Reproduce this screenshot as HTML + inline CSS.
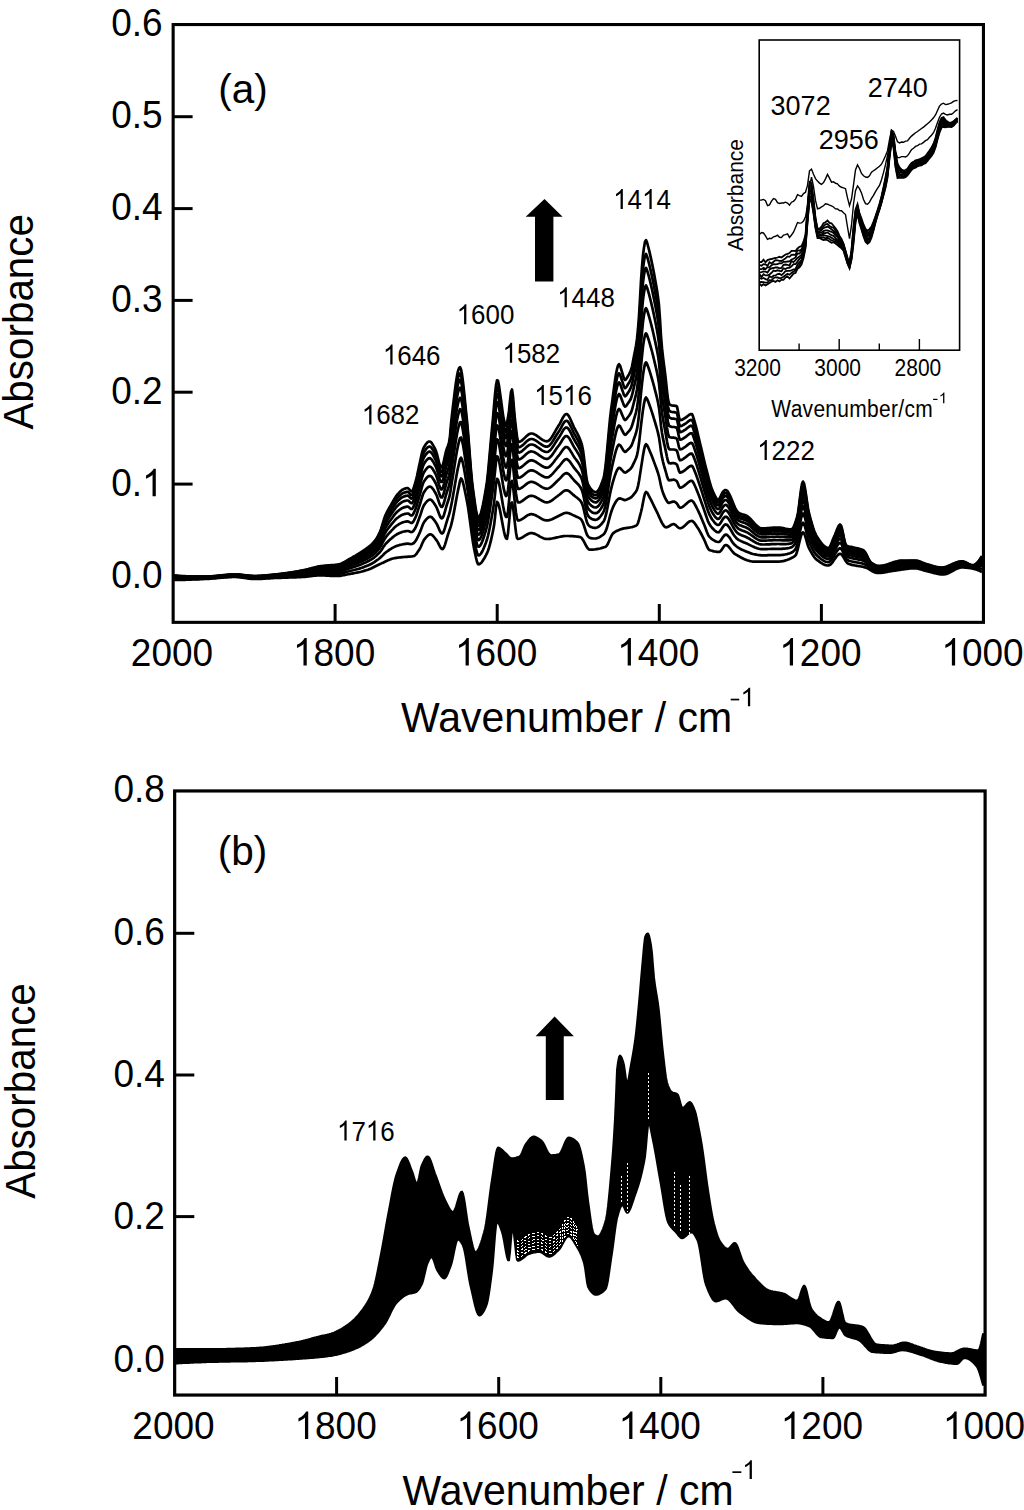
<!DOCTYPE html>
<html><head><meta charset="utf-8"><style>
html,body{margin:0;padding:0;background:#fff;}
svg{display:block;}
text{font-family:"Liberation Sans",sans-serif;fill:#000;}
</style></head><body>
<svg width="1024" height="1510" viewBox="0 0 1024 1510">
<rect x="173.15" y="24.55" width="810.3" height="597.8" fill="none" stroke="#000" stroke-width="3.1"/>
<line x1="173.5" x2="192.6" y1="484.1" y2="484.1" stroke="#000" stroke-width="3"/>
<line x1="173.5" x2="192.6" y1="392.2" y2="392.2" stroke="#000" stroke-width="3"/>
<line x1="173.5" x2="192.6" y1="300.4" y2="300.4" stroke="#000" stroke-width="3"/>
<line x1="173.5" x2="192.6" y1="208.6" y2="208.6" stroke="#000" stroke-width="3"/>
<line x1="173.5" x2="192.6" y1="116.7" y2="116.7" stroke="#000" stroke-width="3"/>
<text transform="translate(162.6 588.3) scale(1.0 1.035)" font-size="37" text-anchor="end" >0.0</text>
<g transform="translate(162.6 496.2) scale(1.0 1.035)"><text font-size="37" text-anchor="end" >0. </text><path transform="translate(-20.58 0) scale(0.01807 -0.01807)" d="M763,0L583,0L583,1147C540,1106 483,1064 413,1023C343,982 280,951 223,930L223,1104C324,1151 412,1208 487,1274C562,1340 616,1404 647,1466L763,1466Z"/></g>
<text transform="translate(162.6 404.2) scale(1.0 1.035)" font-size="37" text-anchor="end" >0.2</text>
<text transform="translate(162.6 312.1) scale(1.0 1.035)" font-size="37" text-anchor="end" >0.3</text>
<text transform="translate(162.6 220.1) scale(1.0 1.035)" font-size="37" text-anchor="end" >0.4</text>
<text transform="translate(162.6 128.0) scale(1.0 1.035)" font-size="37" text-anchor="end" >0.5</text>
<text transform="translate(162.6 36.0) scale(1.0 1.035)" font-size="37" text-anchor="end" >0.6</text>
<line x1="335.1" x2="335.1" y1="604" y2="621" stroke="#000" stroke-width="3"/>
<line x1="497.2" x2="497.2" y1="604" y2="621" stroke="#000" stroke-width="3"/>
<line x1="659.3" x2="659.3" y1="604" y2="621" stroke="#000" stroke-width="3"/>
<line x1="821.4" x2="821.4" y1="604" y2="621" stroke="#000" stroke-width="3"/>
<text transform="translate(172.0 665.5) scale(1.0 1.035)" font-size="37" text-anchor="middle" >2000</text>
<g transform="translate(334.1 665.5) scale(1.0 1.035)"><text font-size="37" text-anchor="middle" > 800</text><path transform="translate(-41.16 0) scale(0.01807 -0.01807)" d="M763,0L583,0L583,1147C540,1106 483,1064 413,1023C343,982 280,951 223,930L223,1104C324,1151 412,1208 487,1274C562,1340 616,1404 647,1466L763,1466Z"/></g>
<g transform="translate(496.2 665.5) scale(1.0 1.035)"><text font-size="37" text-anchor="middle" > 600</text><path transform="translate(-41.16 0) scale(0.01807 -0.01807)" d="M763,0L583,0L583,1147C540,1106 483,1064 413,1023C343,982 280,951 223,930L223,1104C324,1151 412,1208 487,1274C562,1340 616,1404 647,1466L763,1466Z"/></g>
<g transform="translate(658.3 665.5) scale(1.0 1.035)"><text font-size="37" text-anchor="middle" > 400</text><path transform="translate(-41.16 0) scale(0.01807 -0.01807)" d="M763,0L583,0L583,1147C540,1106 483,1064 413,1023C343,982 280,951 223,930L223,1104C324,1151 412,1208 487,1274C562,1340 616,1404 647,1466L763,1466Z"/></g>
<g transform="translate(820.4 665.5) scale(1.0 1.035)"><text font-size="37" text-anchor="middle" > 200</text><path transform="translate(-41.16 0) scale(0.01807 -0.01807)" d="M763,0L583,0L583,1147C540,1106 483,1064 413,1023C343,982 280,951 223,930L223,1104C324,1151 412,1208 487,1274C562,1340 616,1404 647,1466L763,1466Z"/></g>
<g transform="translate(982.5 665.5) scale(1.0 1.035)"><text font-size="37" text-anchor="middle" > 000</text><path transform="translate(-41.16 0) scale(0.01807 -0.01807)" d="M763,0L583,0L583,1147C540,1106 483,1064 413,1023C343,982 280,951 223,930L223,1104C324,1151 412,1208 487,1274C562,1340 616,1404 647,1466L763,1466Z"/></g>
<text transform="translate(401 732.3) scale(1.0 1.035)" font-size="41" text-anchor="start" >Wavenumber / cm</text>
<rect x="730.7" y="698.7" width="8.5" height="1.7"/><path transform="translate(740.5 706.3) scale(0.01270 -0.01270)" d="M763,0L583,0L583,1147C540,1106 483,1064 413,1023C343,982 280,951 223,930L223,1104C324,1151 412,1208 487,1274C562,1340 616,1404 647,1466L763,1466Z"/>
<text transform="translate(32.6 429.6) rotate(-90) scale(1.0 1.035)" font-size="40.4" text-anchor="start" >Absorbance</text>
<text transform="translate(218.3 102.5) scale(1.0 0.985)" font-size="40.5" text-anchor="start" >(a)</text>
<g transform="translate(613.2 209) scale(0.96 1.035)"><text font-size="27" text-anchor="start" > 4 4</text><path transform="translate(0.00 0) scale(0.01318 -0.01318)" d="M763,0L583,0L583,1147C540,1106 483,1064 413,1023C343,982 280,951 223,930L223,1104C324,1151 412,1208 487,1274C562,1340 616,1404 647,1466L763,1466Z"/><path transform="translate(30.03 0) scale(0.01318 -0.01318)" d="M763,0L583,0L583,1147C540,1106 483,1064 413,1023C343,982 280,951 223,930L223,1104C324,1151 412,1208 487,1274C562,1340 616,1404 647,1466L763,1466Z"/></g>
<g transform="translate(557.2 307.3) scale(0.96 1.035)"><text font-size="27" text-anchor="start" > 448</text><path transform="translate(0.00 0) scale(0.01318 -0.01318)" d="M763,0L583,0L583,1147C540,1106 483,1064 413,1023C343,982 280,951 223,930L223,1104C324,1151 412,1208 487,1274C562,1340 616,1404 647,1466L763,1466Z"/></g>
<g transform="translate(456.7 324.2) scale(0.96 1.035)"><text font-size="27" text-anchor="start" > 600</text><path transform="translate(0.00 0) scale(0.01318 -0.01318)" d="M763,0L583,0L583,1147C540,1106 483,1064 413,1023C343,982 280,951 223,930L223,1104C324,1151 412,1208 487,1274C562,1340 616,1404 647,1466L763,1466Z"/></g>
<g transform="translate(382.9 364.6) scale(0.96 1.035)"><text font-size="27" text-anchor="start" > 646</text><path transform="translate(0.00 0) scale(0.01318 -0.01318)" d="M763,0L583,0L583,1147C540,1106 483,1064 413,1023C343,982 280,951 223,930L223,1104C324,1151 412,1208 487,1274C562,1340 616,1404 647,1466L763,1466Z"/></g>
<g transform="translate(502.5 362.8) scale(0.96 1.035)"><text font-size="27" text-anchor="start" > 582</text><path transform="translate(0.00 0) scale(0.01318 -0.01318)" d="M763,0L583,0L583,1147C540,1106 483,1064 413,1023C343,982 280,951 223,930L223,1104C324,1151 412,1208 487,1274C562,1340 616,1404 647,1466L763,1466Z"/></g>
<g transform="translate(534.2 405) scale(0.96 1.035)"><text font-size="27" text-anchor="start" > 5 6</text><path transform="translate(0.00 0) scale(0.01318 -0.01318)" d="M763,0L583,0L583,1147C540,1106 483,1064 413,1023C343,982 280,951 223,930L223,1104C324,1151 412,1208 487,1274C562,1340 616,1404 647,1466L763,1466Z"/><path transform="translate(30.03 0) scale(0.01318 -0.01318)" d="M763,0L583,0L583,1147C540,1106 483,1064 413,1023C343,982 280,951 223,930L223,1104C324,1151 412,1208 487,1274C562,1340 616,1404 647,1466L763,1466Z"/></g>
<g transform="translate(361.8 424.4) scale(0.96 1.035)"><text font-size="27" text-anchor="start" > 682</text><path transform="translate(0.00 0) scale(0.01318 -0.01318)" d="M763,0L583,0L583,1147C540,1106 483,1064 413,1023C343,982 280,951 223,930L223,1104C324,1151 412,1208 487,1274C562,1340 616,1404 647,1466L763,1466Z"/></g>
<g transform="translate(757.2 460) scale(0.96 1.035)"><text font-size="27" text-anchor="start" > 222</text><path transform="translate(0.00 0) scale(0.01318 -0.01318)" d="M763,0L583,0L583,1147C540,1106 483,1064 413,1023C343,982 280,951 223,930L223,1104C324,1151 412,1208 487,1274C562,1340 616,1404 647,1466L763,1466Z"/></g>
<polygon points="544.5,198.9 525.7,216.7 535,216.7 535,281.6 553.4,281.6 553.4,216.7 562.6,216.7" fill="#000"/>
<polyline points="174.0,580.0 175.0,580.0 176.0,580.0 177.0,579.9 178.0,579.9 179.0,579.9 180.0,579.9 181.0,579.9 182.0,579.8 183.0,579.8 184.0,579.8 185.0,579.8 186.0,579.7 187.0,579.7 188.0,579.7 189.0,579.6 190.0,579.6 191.0,579.6 192.0,579.5 193.0,579.5 194.0,579.5 195.0,579.4 196.0,579.4 197.0,579.3 198.0,579.3 199.0,579.3 200.0,579.2 201.0,579.2 202.0,579.1 203.0,579.1 204.0,579.0 205.0,579.0 206.0,579.0 207.0,578.9 208.0,578.8 209.0,578.8 210.0,578.7 211.0,578.6 212.0,578.5 213.0,578.5 214.0,578.4 215.0,578.3 216.0,578.2 217.0,578.1 218.0,578.0 219.0,577.9 220.0,577.8 221.0,577.7 222.0,577.7 223.0,577.6 224.0,577.5 225.0,577.4 226.0,577.3 227.0,577.3 228.0,577.2 229.0,577.2 230.0,577.1 231.0,577.1 232.0,577.0 233.0,577.0 234.0,577.0 235.0,577.0 236.0,577.0 237.0,577.1 238.0,577.1 239.0,577.2 240.0,577.3 241.0,577.4 242.0,577.6 243.0,577.7 244.0,577.9 245.0,578.0 246.0,578.1 247.0,578.3 248.0,578.4 249.0,578.6 250.0,578.7 251.0,578.8 252.0,578.9 253.0,578.9 254.0,579.0 255.0,579.0 256.0,579.0 257.0,579.0 258.0,579.0 259.0,578.9 260.0,578.9 261.0,578.8 262.0,578.8 263.0,578.7 264.0,578.7 265.0,578.6 266.0,578.5 267.0,578.5 268.0,578.4 269.0,578.3 270.0,578.3 271.0,578.2 272.0,578.2 273.0,578.1 274.0,578.0 275.0,578.0 276.0,578.0 277.0,577.9 278.0,577.9 279.0,577.8 280.0,577.8 281.0,577.8 282.0,577.7 283.0,577.7 284.0,577.7 285.0,577.6 286.0,577.6 287.0,577.6 288.0,577.6 289.0,577.5 290.0,577.5 291.0,577.5 292.0,577.4 293.0,577.4 294.0,577.4 295.0,577.3 296.0,577.3 297.0,577.2 298.0,577.2 299.0,577.1 300.0,577.1 301.0,577.1 302.0,577.0 303.0,576.9 304.0,576.9 305.0,576.8 306.0,576.7 307.0,576.6 308.0,576.4 309.0,576.3 310.0,576.2 311.0,576.1 312.0,576.0 313.0,575.8 314.0,575.7 315.0,575.6 316.0,575.6 317.0,575.5 318.0,575.4 319.0,575.4 320.0,575.4 321.0,575.4 322.0,575.4 323.0,575.4 324.0,575.5 325.0,575.5 326.0,575.6 327.0,575.6 328.0,575.7 329.0,575.7 330.0,575.8 331.0,575.8 332.0,575.9 333.0,575.9 334.0,576.0 335.0,576.0 336.0,576.0 337.0,576.0 338.0,576.0 339.0,575.9 340.0,575.8 341.0,575.7 342.0,575.5 343.0,575.3 344.0,575.1 345.0,574.9 346.0,574.7 347.0,574.5 348.0,574.3 349.0,574.1 350.0,573.9 351.0,573.7 352.0,573.6 353.0,573.4 354.0,573.2 355.0,573.0 356.0,572.8 357.0,572.6 358.0,572.4 359.0,572.2 360.0,572.0 361.0,571.8 362.0,571.5 363.0,571.2 364.0,570.9 365.0,570.6 366.0,570.3 367.0,570.0 368.0,569.7 369.0,569.3 370.0,568.9 371.0,568.5 372.0,568.0 373.0,567.5 374.0,567.0 375.0,566.5 376.0,566.0 377.0,565.5 378.0,565.0 379.0,564.5 380.0,564.1 381.0,563.6 382.0,563.1 383.0,562.7 384.0,562.2 385.0,561.7 386.0,561.2 387.0,560.8 388.0,560.3 389.0,559.9 390.0,559.5 391.0,559.1 392.0,558.8 393.0,558.5 394.0,558.3 395.0,558.1 396.0,557.9 397.0,557.8 398.0,557.6 399.0,557.5 400.0,557.4 401.0,557.3 402.0,557.2 403.0,557.1 404.0,557.0 405.0,556.9 406.0,556.8 407.0,556.8 408.0,556.7 409.0,556.6 410.0,556.6 411.0,556.5 412.0,556.4 413.0,556.2 414.0,556.0 415.0,555.4 416.0,554.4 417.0,553.1 418.0,551.6 419.0,550.1 420.0,548.5 421.0,546.5 422.0,544.1 423.0,541.8 424.0,539.9 425.0,538.6 426.0,537.4 427.0,536.3 428.0,535.4 429.0,534.7 430.0,534.4 431.0,534.4 432.0,534.9 433.0,535.8 434.0,537.0 435.0,538.3 436.0,539.6 437.0,540.9 438.0,542.6 439.0,544.7 440.0,546.6 441.0,548.2 442.0,549.1 443.0,548.9 444.0,547.3 445.0,544.6 446.0,541.3 447.0,537.8 448.0,534.5 449.0,531.6 450.0,528.8 451.0,525.7 452.0,521.7 453.0,517.1 454.0,512.0 455.0,506.5 456.0,501.0 457.0,495.6 458.0,490.4 459.0,485.9 460.0,480.8 461.0,478.4 462.0,479.6 463.0,482.6 464.0,486.7 465.0,491.5 466.0,496.5 467.0,501.4 468.0,507.1 469.0,513.8 470.0,521.0 471.0,528.5 472.0,535.8 473.0,542.6 474.0,548.3 475.0,553.0 476.0,557.7 477.0,561.8 478.0,564.2 479.0,564.3 480.0,563.8 481.0,563.0 482.0,561.8 483.0,560.4 484.0,558.8 485.0,557.0 486.0,555.2 487.0,553.2 488.0,550.7 489.0,547.7 490.0,544.2 491.0,540.2 492.0,535.8 493.0,531.0 494.0,525.8 495.0,517.6 496.0,507.1 497.0,501.9 498.0,503.0 499.0,505.9 500.0,510.2 501.0,515.4 502.0,521.0 503.0,526.6 504.0,531.6 505.0,535.7 506.0,538.3 507.0,538.8 508.0,533.2 509.0,522.8 510.0,511.5 511.0,503.5 512.0,502.4 513.0,507.0 514.0,515.0 515.0,524.1 516.0,532.5 517.0,538.0 518.0,539.0 519.0,538.8 520.0,538.5 521.0,538.1 522.0,537.6 523.0,537.0 524.0,536.3 525.0,535.7 526.0,535.1 527.0,534.5 528.0,534.0 529.0,533.5 530.0,533.2 531.0,533.1 532.0,533.1 533.0,533.3 534.0,533.6 535.0,533.9 536.0,534.4 537.0,534.9 538.0,535.4 539.0,536.0 540.0,536.6 541.0,537.1 542.0,537.6 543.0,538.1 544.0,538.5 545.0,538.8 546.0,538.9 547.0,539.0 548.0,539.0 549.0,538.9 550.0,538.8 551.0,538.7 552.0,538.5 553.0,538.3 554.0,538.1 555.0,537.9 556.0,537.6 557.0,537.4 558.0,537.2 559.0,537.0 560.0,536.8 561.0,536.6 562.0,536.4 563.0,536.2 564.0,536.1 565.0,536.0 566.0,536.0 567.0,536.0 568.0,536.0 569.0,536.0 570.0,536.1 571.0,536.1 572.0,536.2 573.0,536.2 574.0,536.3 575.0,536.4 576.0,536.5 577.0,536.6 578.0,536.7 579.0,536.8 580.0,537.0 581.0,537.4 582.0,538.4 583.0,539.9 584.0,541.7 585.0,543.6 586.0,545.5 587.0,547.2 588.0,548.6 589.0,549.5 590.0,549.7 591.0,549.7 592.0,549.6 593.0,549.6 594.0,549.5 595.0,549.4 596.0,549.2 597.0,549.1 598.0,548.9 599.0,548.7 600.0,548.5 601.0,548.2 602.0,547.9 603.0,547.6 604.0,547.3 605.0,547.0 606.0,546.5 607.0,545.3 608.0,543.5 609.0,541.3 610.0,538.9 611.0,536.7 612.0,534.8 613.0,533.4 614.0,532.6 615.0,531.9 616.0,531.3 617.0,530.8 618.0,530.4 619.0,530.0 620.0,529.6 621.0,529.2 622.0,528.9 623.0,528.6 624.0,528.4 625.0,528.2 626.0,528.1 627.0,527.9 628.0,527.8 629.0,527.6 630.0,527.5 631.0,527.3 632.0,527.1 633.0,526.8 634.0,526.5 635.0,526.1 636.0,525.7 637.0,525.0 638.0,523.0 639.0,519.7 640.0,515.8 641.0,512.0 642.0,507.7 643.0,502.5 644.0,497.4 645.0,493.5 646.0,492.0 647.0,492.6 648.0,494.1 649.0,496.1 650.0,498.0 651.0,499.8 652.0,501.9 653.0,504.0 654.0,506.1 655.0,508.1 656.0,510.1 657.0,512.1 658.0,514.3 659.0,516.6 660.0,518.8 661.0,521.0 662.0,522.9 663.0,524.6 664.0,526.0 665.0,526.9 666.0,527.3 667.0,527.2 668.0,526.8 669.0,526.3 670.0,525.6 671.0,525.0 672.0,524.5 673.0,524.2 674.0,524.1 675.0,524.6 676.0,525.4 677.0,526.4 678.0,527.3 679.0,528.0 680.0,528.3 681.0,528.1 682.0,527.7 683.0,527.1 684.0,526.3 685.0,525.4 686.0,524.4 687.0,523.5 688.0,522.6 689.0,521.8 690.0,521.3 691.0,521.0 692.0,520.9 693.0,521.5 694.0,522.4 695.0,523.7 696.0,525.2 697.0,526.8 698.0,528.3 699.0,529.8 700.0,531.6 701.0,533.5 702.0,535.4 703.0,537.4 704.0,539.4 705.0,541.5 706.0,543.9 707.0,546.4 708.0,548.4 709.0,549.7 710.0,550.2 711.0,550.5 712.0,550.8 713.0,551.1 714.0,551.4 715.0,551.5 716.0,551.7 717.0,551.8 718.0,551.9 719.0,551.9 720.0,551.6 721.0,550.6 722.0,549.2 723.0,547.7 724.0,546.3 725.0,545.3 726.0,545.0 727.0,545.3 728.0,546.0 729.0,547.1 730.0,548.3 731.0,549.7 732.0,551.0 733.0,552.3 734.0,553.3 735.0,554.0 736.0,554.6 737.0,555.2 738.0,555.8 739.0,556.3 740.0,556.9 741.0,557.5 742.0,558.0 743.0,558.5 744.0,559.0 745.0,559.4 746.0,559.8 747.0,560.2 748.0,560.5 749.0,560.8 750.0,561.1 751.0,561.3 752.0,561.5 753.0,561.6 754.0,561.6 755.0,561.6 756.0,561.6 757.0,561.6 758.0,561.6 759.0,561.6 760.0,561.6 761.0,561.6 762.0,561.6 763.0,561.6 764.0,561.6 765.0,561.6 766.0,561.6 767.0,561.6 768.0,561.6 769.0,561.6 770.0,561.6 771.0,561.6 772.0,561.6 773.0,561.6 774.0,561.6 775.0,561.6 776.0,561.6 777.0,561.6 778.0,561.6 779.0,561.6 780.0,561.5 781.0,561.4 782.0,561.3 783.0,561.1 784.0,560.9 785.0,560.6 786.0,560.3 787.0,560.0 788.0,559.6 789.0,559.2 790.0,558.7 791.0,558.3 792.0,557.7 793.0,557.2 794.0,556.6 795.0,555.9 796.0,554.7 797.0,551.9 798.0,548.1 799.0,543.8 800.0,539.6 801.0,535.9 802.0,533.3 803.0,532.3 804.0,533.2 805.0,535.6 806.0,538.9 807.0,542.5 808.0,545.8 809.0,548.2 810.0,550.1 811.0,551.9 812.0,553.7 813.0,555.3 814.0,556.8 815.0,558.0 816.0,559.1 817.0,559.9 818.0,560.7 819.0,561.4 820.0,562.1 821.0,562.8 822.0,563.4 823.0,564.0 824.0,564.5 825.0,564.9 826.0,565.2 827.0,565.4 828.0,565.5 829.0,565.4 830.0,564.9 831.0,564.0 832.0,562.9 833.0,561.6 834.0,560.1 835.0,558.6 836.0,557.2 837.0,555.9 838.0,554.9 839.0,554.1 840.0,553.8 841.0,554.1 842.0,555.0 843.0,556.4 844.0,558.1 845.0,559.9 846.0,561.5 847.0,562.8 848.0,563.6 849.0,564.0 850.0,564.3 851.0,564.6 852.0,564.9 853.0,565.1 854.0,565.3 855.0,565.5 856.0,565.7 857.0,565.8 858.0,566.0 859.0,566.1 860.0,566.3 861.0,566.5 862.0,566.6 863.0,566.8 864.0,567.1 865.0,567.4 866.0,567.7 867.0,568.1 868.0,568.6 869.0,569.2 870.0,569.8 871.0,570.4 872.0,571.0 873.0,571.6 874.0,572.1 875.0,572.5 876.0,572.8 877.0,573.0 878.0,573.0 879.0,573.0 880.0,572.9 881.0,572.8 882.0,572.7 883.0,572.6 884.0,572.4 885.0,572.3 886.0,572.1 887.0,571.9 888.0,571.7 889.0,571.5 890.0,571.4 891.0,571.2 892.0,571.0 893.0,570.8 894.0,570.7 895.0,570.6 896.0,570.4 897.0,570.3 898.0,570.1 899.0,570.0 900.0,569.8 901.0,569.7 902.0,569.5 903.0,569.4 904.0,569.3 905.0,569.1 906.0,569.0 907.0,568.9 908.0,568.7 909.0,568.6 910.0,568.5 911.0,568.5 912.0,568.4 913.0,568.3 914.0,568.3 915.0,568.3 916.0,568.3 917.0,568.5 918.0,568.6 919.0,568.9 920.0,569.1 921.0,569.4 922.0,569.7 923.0,570.1 924.0,570.4 925.0,570.7 926.0,571.0 927.0,571.3 928.0,571.5 929.0,571.8 930.0,572.0 931.0,572.3 932.0,572.5 933.0,572.8 934.0,573.1 935.0,573.3 936.0,573.5 937.0,573.8 938.0,574.0 939.0,574.1 940.0,574.3 941.0,574.4 942.0,574.5 943.0,574.5 944.0,574.5 945.0,574.3 946.0,574.1 947.0,573.7 948.0,573.3 949.0,572.9 950.0,572.4 951.0,571.8 952.0,571.3 953.0,570.7 954.0,570.2 955.0,569.6 956.0,569.1 957.0,568.7 958.0,568.3 959.0,567.9 960.0,567.7 961.0,567.5 962.0,567.5 963.0,567.5 964.0,567.5 965.0,567.6 966.0,567.6 967.0,567.7 968.0,567.8 969.0,567.9 970.0,568.1 971.0,568.2 972.0,568.4 973.0,568.6 974.0,568.9 975.0,569.2 976.0,569.5 977.0,569.8 978.0,570.2 979.0,570.6 980.0,571.0 981.0,571.5 982.0,572.0" fill="none" stroke="#000" stroke-width="2.7" stroke-linejoin="round"/>
<polyline points="174.0,579.1 175.0,579.1 176.0,579.2 177.0,579.2 178.0,579.1 179.0,579.1 180.0,579.1 181.0,579.1 182.0,579.1 183.0,579.1 184.0,579.1 185.0,579.1 186.0,579.1 187.0,579.1 188.0,579.0 189.0,579.0 190.0,579.0 191.0,579.0 192.0,578.9 193.0,578.9 194.0,578.9 195.0,578.9 196.0,578.8 197.0,578.8 198.0,578.8 199.0,578.7 200.0,578.7 201.0,578.7 202.0,578.6 203.0,578.6 204.0,578.6 205.0,578.5 206.0,578.5 207.0,578.5 208.0,578.4 209.0,578.3 210.0,578.3 211.0,578.2 212.0,578.1 213.0,578.0 214.0,578.0 215.0,577.9 216.0,577.8 217.0,577.7 218.0,577.6 219.0,577.5 220.0,577.4 221.0,577.3 222.0,577.2 223.0,577.1 224.0,577.1 225.0,577.0 226.0,576.9 227.0,576.8 228.0,576.8 229.0,576.7 230.0,576.7 231.0,576.6 232.0,576.6 233.0,576.5 234.0,576.5 235.0,576.5 236.0,576.5 237.0,576.6 238.0,576.6 239.0,576.7 240.0,576.8 241.0,576.9 242.0,577.1 243.0,577.2 244.0,577.3 245.0,577.5 246.0,577.6 247.0,577.8 248.0,577.9 249.0,578.0 250.0,578.1 251.0,578.2 252.0,578.3 253.0,578.4 254.0,578.4 255.0,578.4 256.0,578.4 257.0,578.4 258.0,578.4 259.0,578.4 260.0,578.3 261.0,578.3 262.0,578.2 263.0,578.1 264.0,578.1 265.0,578.0 266.0,577.9 267.0,577.9 268.0,577.8 269.0,577.7 270.0,577.7 271.0,577.6 272.0,577.5 273.0,577.5 274.0,577.4 275.0,577.3 276.0,577.3 277.0,577.2 278.0,577.2 279.0,577.1 280.0,577.1 281.0,577.0 282.0,577.0 283.0,576.9 284.0,576.9 285.0,576.8 286.0,576.8 287.0,576.7 288.0,576.7 289.0,576.6 290.0,576.5 291.0,576.5 292.0,576.4 293.0,576.4 294.0,576.3 295.0,576.3 296.0,576.2 297.0,576.1 298.0,576.1 299.0,576.0 300.0,575.9 301.0,575.8 302.0,575.8 303.0,575.7 304.0,575.6 305.0,575.5 306.0,575.3 307.0,575.2 308.0,575.1 309.0,574.9 310.0,574.8 311.0,574.6 312.0,574.5 313.0,574.3 314.0,574.2 315.0,574.1 316.0,573.9 317.0,573.9 318.0,573.8 319.0,573.7 320.0,573.7 321.0,573.6 322.0,573.6 323.0,573.6 324.0,573.6 325.0,573.7 326.0,573.7 327.0,573.7 328.0,573.7 329.0,573.8 330.0,573.8 331.0,573.8 332.0,573.8 333.0,573.9 334.0,573.9 335.0,573.9 336.0,573.9 337.0,573.8 338.0,573.8 339.0,573.7 340.0,573.6 341.0,573.4 342.0,573.2 343.0,572.9 344.0,572.7 345.0,572.4 346.0,572.1 347.0,571.8 348.0,571.5 349.0,571.3 350.0,571.0 351.0,570.8 352.0,570.5 353.0,570.3 354.0,570.0 355.0,569.8 356.0,569.5 357.0,569.2 358.0,569.0 359.0,568.7 360.0,568.4 361.0,568.0 362.0,567.7 363.0,567.4 364.0,567.0 365.0,566.6 366.0,566.2 367.0,565.8 368.0,565.4 369.0,565.0 370.0,564.5 371.0,564.0 372.0,563.5 373.0,562.9 374.0,562.3 375.0,561.6 376.0,560.9 377.0,560.2 378.0,559.5 379.0,558.7 380.0,557.9 381.0,557.0 382.0,556.1 383.0,555.1 384.0,554.0 385.0,553.1 386.0,552.3 387.0,551.5 388.0,550.8 389.0,550.1 390.0,549.4 391.0,548.8 392.0,548.2 393.0,547.6 394.0,547.1 395.0,546.6 396.0,546.2 397.0,545.8 398.0,545.5 399.0,545.2 400.0,544.9 401.0,544.7 402.0,544.5 403.0,544.3 404.0,544.1 405.0,543.9 406.0,543.8 407.0,543.7 408.0,543.7 409.0,543.8 410.0,544.0 411.0,544.1 412.0,544.0 413.0,543.6 414.0,542.9 415.0,541.7 416.0,540.3 417.0,538.4 418.0,536.4 419.0,534.2 420.0,532.1 421.0,529.6 422.0,526.8 423.0,524.2 424.0,522.3 425.0,520.9 426.0,519.7 427.0,518.6 428.0,517.7 429.0,517.0 430.0,516.7 431.0,516.9 432.0,517.5 433.0,518.6 434.0,519.9 435.0,521.3 436.0,522.8 437.0,524.4 438.0,526.6 439.0,529.0 440.0,531.3 441.0,532.9 442.0,533.5 443.0,532.9 444.0,530.8 445.0,527.7 446.0,524.2 447.0,520.8 448.0,517.6 449.0,514.7 450.0,511.2 451.0,506.4 452.0,501.4 453.0,496.0 454.0,490.3 455.0,484.3 456.0,478.4 457.0,472.8 458.0,467.8 459.0,463.5 460.0,459.2 461.0,457.7 462.0,459.7 463.0,463.5 464.0,468.5 465.0,474.3 466.0,480.3 467.0,486.1 468.0,492.8 469.0,500.7 470.0,509.1 471.0,517.5 472.0,525.5 473.0,532.4 474.0,538.5 475.0,543.7 476.0,548.7 477.0,552.9 478.0,555.2 479.0,555.4 480.0,554.7 481.0,553.5 482.0,551.8 483.0,549.8 484.0,547.5 485.0,545.0 486.0,542.4 487.0,539.5 488.0,535.8 489.0,531.4 490.0,526.4 491.0,521.0 492.0,515.5 493.0,509.6 494.0,503.1 495.0,494.3 496.0,484.0 497.0,478.8 498.0,479.8 499.0,483.1 500.0,487.9 501.0,493.5 502.0,499.5 503.0,505.4 504.0,510.5 505.0,514.6 506.0,516.9 507.0,516.8 508.0,511.2 509.0,501.5 510.0,490.5 511.0,482.3 512.0,480.9 513.0,486.1 514.0,494.9 515.0,504.4 516.0,512.7 517.0,518.7 518.0,520.5 519.0,520.4 520.0,520.1 521.0,519.7 522.0,519.1 523.0,518.5 524.0,517.8 525.0,517.1 526.0,516.4 527.0,515.7 528.0,515.1 529.0,514.7 530.0,514.3 531.0,514.2 532.0,514.2 533.0,514.4 534.0,514.7 535.0,515.1 536.0,515.5 537.0,516.1 538.0,516.6 539.0,517.2 540.0,517.8 541.0,518.4 542.0,519.0 543.0,519.5 544.0,519.9 545.0,520.2 546.0,520.4 547.0,520.4 548.0,520.4 549.0,520.2 550.0,519.9 551.0,519.6 552.0,519.2 553.0,518.7 554.0,518.2 555.0,517.7 556.0,517.2 557.0,516.7 558.0,516.2 559.0,515.7 560.0,515.2 561.0,514.7 562.0,514.2 563.0,513.7 564.0,513.3 565.0,513.0 566.0,512.8 567.0,512.8 568.0,513.0 569.0,513.3 570.0,513.7 571.0,514.1 572.0,514.6 573.0,515.1 574.0,515.6 575.0,516.0 576.0,516.5 577.0,516.9 578.0,517.4 579.0,517.9 580.0,518.4 581.0,519.3 582.0,520.7 583.0,522.9 584.0,525.8 585.0,528.9 586.0,532.0 587.0,534.7 588.0,536.4 589.0,537.4 590.0,537.9 591.0,538.2 592.0,538.3 593.0,538.5 594.0,538.5 595.0,538.5 596.0,538.4 597.0,538.2 598.0,537.8 599.0,537.4 600.0,536.9 601.0,536.2 602.0,535.5 603.0,534.8 604.0,533.9 605.0,532.4 606.0,530.4 607.0,527.5 608.0,523.9 609.0,520.0 610.0,516.2 611.0,512.7 612.0,509.7 613.0,507.2 614.0,505.1 615.0,503.2 616.0,501.5 617.0,500.1 618.0,499.1 619.0,498.5 620.0,498.4 621.0,498.7 622.0,499.1 623.0,499.5 624.0,499.9 625.0,500.1 626.0,499.8 627.0,499.4 628.0,498.9 629.0,498.5 630.0,498.0 631.0,497.4 632.0,496.5 633.0,495.4 634.0,494.1 635.0,492.9 636.0,491.5 637.0,489.7 638.0,486.1 639.0,481.0 640.0,474.6 641.0,468.1 642.0,461.9 643.0,455.4 644.0,449.9 645.0,445.7 646.0,444.1 647.0,445.1 648.0,447.0 649.0,449.3 650.0,451.7 651.0,454.0 652.0,456.5 653.0,459.2 654.0,461.9 655.0,464.6 656.0,467.2 657.0,470.0 658.0,473.0 659.0,476.5 660.0,481.0 661.0,485.9 662.0,489.7 663.0,492.8 664.0,495.4 665.0,497.6 666.0,499.5 667.0,501.3 668.0,502.6 669.0,503.0 670.0,502.6 671.0,502.2 672.0,501.9 673.0,501.6 674.0,501.6 675.0,502.0 676.0,502.7 677.0,503.6 678.0,505.3 679.0,507.0 680.0,507.8 681.0,507.6 682.0,507.2 683.0,506.6 684.0,505.8 685.0,505.0 686.0,504.1 687.0,503.2 688.0,502.3 689.0,501.5 690.0,501.0 691.0,500.6 692.0,500.7 693.0,501.5 694.0,502.9 695.0,504.6 696.0,506.5 697.0,508.5 698.0,510.5 699.0,512.6 700.0,514.8 701.0,517.1 702.0,519.5 703.0,521.9 704.0,524.3 705.0,526.8 706.0,529.5 707.0,532.2 708.0,534.6 709.0,536.4 710.0,537.4 711.0,538.4 712.0,539.2 713.0,539.8 714.0,540.4 715.0,541.0 716.0,541.5 717.0,541.8 718.0,542.0 719.0,541.9 720.0,541.3 721.0,540.1 722.0,538.6 723.0,537.1 724.0,535.8 725.0,534.8 726.0,534.6 727.0,534.9 728.0,535.8 729.0,536.9 730.0,538.3 731.0,539.9 732.0,541.4 733.0,542.9 734.0,544.2 735.0,545.1 736.0,546.0 737.0,546.8 738.0,547.5 739.0,548.1 740.0,548.7 741.0,549.2 742.0,549.7 743.0,550.1 744.0,550.6 745.0,551.0 746.0,551.4 747.0,551.8 748.0,552.2 749.0,552.6 750.0,553.0 751.0,553.4 752.0,553.7 753.0,554.0 754.0,554.2 755.0,554.4 756.0,554.6 757.0,554.8 758.0,555.0 759.0,555.1 760.0,555.2 761.0,555.3 762.0,555.3 763.0,555.3 764.0,555.3 765.0,555.3 766.0,555.3 767.0,555.3 768.0,555.2 769.0,555.2 770.0,555.2 771.0,555.2 772.0,555.2 773.0,555.2 774.0,555.1 775.0,555.1 776.0,555.1 777.0,555.1 778.0,555.1 779.0,555.1 780.0,555.1 781.0,555.0 782.0,554.9 783.0,554.8 784.0,554.7 785.0,554.5 786.0,554.3 787.0,554.1 788.0,553.8 789.0,553.5 790.0,553.2 791.0,552.8 792.0,552.3 793.0,551.6 794.0,550.8 795.0,549.8 796.0,548.2 797.0,545.3 798.0,541.4 799.0,536.6 800.0,531.6 801.0,527.1 802.0,523.9 803.0,522.7 804.0,523.8 805.0,526.6 806.0,530.5 807.0,534.7 808.0,538.6 809.0,541.5 810.0,543.8 811.0,546.0 812.0,548.1 813.0,550.0 814.0,551.8 815.0,553.3 816.0,554.5 817.0,555.5 818.0,556.4 819.0,557.3 820.0,558.2 821.0,559.0 822.0,559.7 823.0,560.3 824.0,560.9 825.0,561.4 826.0,561.8 827.0,562.0 828.0,562.2 829.0,562.1 830.0,561.4 831.0,560.3 832.0,558.9 833.0,557.3 834.0,555.7 835.0,554.1 836.0,552.4 837.0,550.9 838.0,549.6 839.0,548.7 840.0,548.2 841.0,548.6 842.0,550.0 843.0,552.0 844.0,554.4 845.0,556.6 846.0,558.5 847.0,559.6 848.0,560.3 849.0,560.7 850.0,561.0 851.0,561.3 852.0,561.5 853.0,561.7 854.0,562.0 855.0,562.1 856.0,562.3 857.0,562.5 858.0,562.6 859.0,562.8 860.0,563.0 861.0,563.2 862.0,563.4 863.0,563.7 864.0,564.0 865.0,564.4 866.0,565.0 867.0,565.7 868.0,566.5 869.0,567.4 870.0,568.2 871.0,568.9 872.0,569.5 873.0,570.1 874.0,570.6 875.0,571.1 876.0,571.4 877.0,571.6 878.0,571.6 879.0,571.6 880.0,571.6 881.0,571.5 882.0,571.4 883.0,571.2 884.0,571.1 885.0,570.9 886.0,570.7 887.0,570.5 888.0,570.3 889.0,570.1 890.0,569.9 891.0,569.6 892.0,569.4 893.0,569.2 894.0,569.1 895.0,568.9 896.0,568.7 897.0,568.6 898.0,568.4 899.0,568.3 900.0,568.1 901.0,568.0 902.0,567.8 903.0,567.7 904.0,567.6 905.0,567.5 906.0,567.4 907.0,567.3 908.0,567.2 909.0,567.1 910.0,567.0 911.0,566.9 912.0,566.9 913.0,566.9 914.0,566.8 915.0,566.8 916.0,566.9 917.0,567.0 918.0,567.2 919.0,567.4 920.0,567.7 921.0,568.0 922.0,568.3 923.0,568.7 924.0,569.0 925.0,569.4 926.0,569.7 927.0,569.9 928.0,570.2 929.0,570.4 930.0,570.7 931.0,571.0 932.0,571.2 933.0,571.5 934.0,571.8 935.0,572.0 936.0,572.3 937.0,572.5 938.0,572.7 939.0,572.8 940.0,573.0 941.0,573.1 942.0,573.1 943.0,573.2 944.0,573.1 945.0,572.9 946.0,572.7 947.0,572.3 948.0,571.9 949.0,571.5 950.0,571.0 951.0,570.5 952.0,570.0 953.0,569.4 954.0,568.9 955.0,568.4 956.0,567.9 957.0,567.4 958.0,567.1 959.0,566.8 960.0,566.5 961.0,566.4 962.0,566.3 963.0,566.4 964.0,566.4 965.0,566.5 966.0,566.7 967.0,566.8 968.0,567.0 969.0,567.2 970.0,567.4 971.0,567.6 972.0,567.8 973.0,568.0 974.0,568.1 975.0,568.3 976.0,568.4 977.0,568.5 978.0,568.6 979.0,568.7 980.0,568.7 981.0,568.8 982.0,569.0" fill="none" stroke="#000" stroke-width="2.7" stroke-linejoin="round"/>
<polyline points="174.0,578.3 175.0,578.3 176.0,578.4 177.0,578.4 178.0,578.4 179.0,578.4 180.0,578.4 181.0,578.4 182.0,578.4 183.0,578.4 184.0,578.4 185.0,578.4 186.0,578.4 187.0,578.4 188.0,578.4 189.0,578.4 190.0,578.4 191.0,578.4 192.0,578.4 193.0,578.4 194.0,578.3 195.0,578.3 196.0,578.3 197.0,578.3 198.0,578.3 199.0,578.2 200.0,578.2 201.0,578.2 202.0,578.2 203.0,578.2 204.0,578.1 205.0,578.1 206.0,578.1 207.0,578.0 208.0,578.0 209.0,577.9 210.0,577.9 211.0,577.8 212.0,577.7 213.0,577.6 214.0,577.5 215.0,577.5 216.0,577.4 217.0,577.3 218.0,577.2 219.0,577.1 220.0,577.0 221.0,576.9 222.0,576.8 223.0,576.7 224.0,576.6 225.0,576.5 226.0,576.5 227.0,576.4 228.0,576.3 229.0,576.2 230.0,576.2 231.0,576.1 232.0,576.1 233.0,576.1 234.0,576.1 235.0,576.1 236.0,576.1 237.0,576.1 238.0,576.2 239.0,576.3 240.0,576.3 241.0,576.5 242.0,576.6 243.0,576.7 244.0,576.8 245.0,577.0 246.0,577.1 247.0,577.2 248.0,577.4 249.0,577.5 250.0,577.6 251.0,577.7 252.0,577.8 253.0,577.8 254.0,577.9 255.0,577.9 256.0,577.9 257.0,577.9 258.0,577.8 259.0,577.8 260.0,577.7 261.0,577.7 262.0,577.6 263.0,577.6 264.0,577.5 265.0,577.4 266.0,577.4 267.0,577.3 268.0,577.2 269.0,577.1 270.0,577.1 271.0,577.0 272.0,576.9 273.0,576.8 274.0,576.8 275.0,576.7 276.0,576.6 277.0,576.6 278.0,576.5 279.0,576.4 280.0,576.4 281.0,576.3 282.0,576.2 283.0,576.2 284.0,576.1 285.0,576.0 286.0,575.9 287.0,575.9 288.0,575.8 289.0,575.7 290.0,575.6 291.0,575.6 292.0,575.5 293.0,575.4 294.0,575.3 295.0,575.2 296.0,575.1 297.0,575.0 298.0,574.9 299.0,574.8 300.0,574.7 301.0,574.6 302.0,574.5 303.0,574.4 304.0,574.3 305.0,574.2 306.0,574.0 307.0,573.9 308.0,573.7 309.0,573.5 310.0,573.4 311.0,573.2 312.0,573.0 313.0,572.8 314.0,572.7 315.0,572.5 316.0,572.4 317.0,572.2 318.0,572.1 319.0,572.0 320.0,572.0 321.0,571.9 322.0,571.9 323.0,571.9 324.0,571.8 325.0,571.8 326.0,571.8 327.0,571.8 328.0,571.8 329.0,571.8 330.0,571.9 331.0,571.9 332.0,571.9 333.0,571.9 334.0,571.8 335.0,571.8 336.0,571.8 337.0,571.7 338.0,571.7 339.0,571.6 340.0,571.4 341.0,571.2 342.0,570.9 343.0,570.6 344.0,570.3 345.0,570.0 346.0,569.6 347.0,569.2 348.0,568.9 349.0,568.5 350.0,568.2 351.0,567.9 352.0,567.6 353.0,567.2 354.0,566.9 355.0,566.6 356.0,566.3 357.0,565.9 358.0,565.6 359.0,565.2 360.0,564.8 361.0,564.4 362.0,564.0 363.0,563.6 364.0,563.1 365.0,562.7 366.0,562.3 367.0,561.8 368.0,561.3 369.0,560.8 370.0,560.2 371.0,559.6 372.0,559.0 373.0,558.3 374.0,557.6 375.0,556.8 376.0,556.0 377.0,555.0 378.0,554.1 379.0,553.0 380.0,552.0 381.0,550.7 382.0,549.2 383.0,547.6 384.0,546.1 385.0,544.7 386.0,543.5 387.0,542.5 388.0,541.5 389.0,540.5 390.0,539.6 391.0,538.8 392.0,537.9 393.0,537.1 394.0,536.3 395.0,535.5 396.0,534.8 397.0,534.2 398.0,533.7 399.0,533.2 400.0,532.8 401.0,532.4 402.0,532.0 403.0,531.7 404.0,531.5 405.0,531.3 406.0,531.2 407.0,531.0 408.0,531.0 409.0,531.3 410.0,531.7 411.0,532.1 412.0,532.0 413.0,531.3 414.0,530.1 415.0,528.5 416.0,526.6 417.0,524.2 418.0,521.5 419.0,518.7 420.0,516.1 421.0,513.1 422.0,509.9 423.0,507.1 424.0,505.1 425.0,503.7 426.0,502.4 427.0,501.3 428.0,500.4 429.0,499.8 430.0,499.5 431.0,499.8 432.0,500.6 433.0,501.8 434.0,503.2 435.0,504.8 436.0,506.4 437.0,508.4 438.0,511.0 439.0,513.8 440.0,516.3 441.0,518.0 442.0,518.4 443.0,517.3 444.0,514.7 445.0,511.3 446.0,507.6 447.0,504.2 448.0,501.2 449.0,498.3 450.0,494.1 451.0,487.6 452.0,481.6 453.0,475.5 454.0,469.1 455.0,462.7 456.0,456.5 457.0,450.7 458.0,445.7 459.0,441.7 460.0,438.2 461.0,437.5 462.0,440.2 463.0,444.9 464.0,450.9 465.0,457.6 466.0,464.5 467.0,471.1 468.0,478.9 469.0,487.9 470.0,497.4 471.0,506.8 472.0,515.4 473.0,522.6 474.0,529.0 475.0,534.6 476.0,539.9 477.0,544.2 478.0,546.6 479.0,546.7 480.0,545.8 481.0,544.2 482.0,542.1 483.0,539.5 484.0,536.5 485.0,533.3 486.0,530.0 487.0,526.3 488.0,521.4 489.0,515.5 490.0,509.1 491.0,502.3 492.0,495.7 493.0,488.7 494.0,481.0 495.0,471.5 496.0,461.5 497.0,456.3 498.0,457.2 499.0,460.8 500.0,466.2 501.0,472.1 502.0,478.4 503.0,484.8 504.0,489.9 505.0,494.0 506.0,496.1 507.0,495.3 508.0,489.9 509.0,480.8 510.0,470.0 511.0,461.7 512.0,460.0 513.0,465.6 514.0,475.3 515.0,485.1 516.0,493.5 517.0,499.9 518.0,502.4 519.0,502.5 520.0,502.2 521.0,501.7 522.0,501.1 523.0,500.4 524.0,499.7 525.0,498.9 526.0,498.2 527.0,497.4 528.0,496.8 529.0,496.3 530.0,495.9 531.0,495.8 532.0,495.8 533.0,496.0 534.0,496.3 535.0,496.7 536.0,497.2 537.0,497.8 538.0,498.4 539.0,499.0 540.0,499.6 541.0,500.2 542.0,500.8 543.0,501.3 544.0,501.8 545.0,502.1 546.0,502.3 547.0,502.4 548.0,502.2 549.0,502.0 550.0,501.5 551.0,501.0 552.0,500.3 553.0,499.6 554.0,498.8 555.0,498.0 556.0,497.2 557.0,496.5 558.0,495.7 559.0,495.0 560.0,494.2 561.0,493.4 562.0,492.5 563.0,491.7 564.0,491.0 565.0,490.5 566.0,490.3 567.0,490.3 568.0,490.6 569.0,491.2 570.0,491.9 571.0,492.8 572.0,493.7 573.0,494.6 574.0,495.4 575.0,496.2 576.0,497.0 577.0,497.7 578.0,498.5 579.0,499.4 580.0,500.4 581.0,501.6 582.0,503.5 583.0,506.3 584.0,510.3 585.0,514.7 586.0,518.9 587.0,522.4 588.0,524.5 589.0,525.7 590.0,526.5 591.0,526.9 592.0,527.3 593.0,527.6 594.0,527.8 595.0,527.9 596.0,527.8 597.0,527.5 598.0,527.1 599.0,526.4 600.0,525.5 601.0,524.6 602.0,523.4 603.0,522.2 604.0,520.8 605.0,518.2 606.0,514.7 607.0,510.1 608.0,504.8 609.0,499.3 610.0,494.0 611.0,489.3 612.0,485.4 613.0,481.7 614.0,478.3 615.0,475.2 616.0,472.5 617.0,470.2 618.0,468.6 619.0,467.8 620.0,468.0 621.0,469.0 622.0,470.1 623.0,471.1 624.0,472.2 625.0,472.6 626.0,472.3 627.0,471.6 628.0,470.9 629.0,470.2 630.0,469.3 631.0,468.3 632.0,466.8 633.0,464.7 634.0,462.6 635.0,460.5 636.0,458.2 637.0,455.3 638.0,450.2 639.0,443.3 640.0,434.6 641.0,425.4 642.0,417.4 643.0,409.7 644.0,403.6 645.0,399.1 646.0,397.5 647.0,398.8 648.0,401.1 649.0,403.7 650.0,406.5 651.0,409.4 652.0,412.4 653.0,415.5 654.0,418.8 655.0,422.2 656.0,425.5 657.0,429.0 658.0,432.9 659.0,437.4 660.0,444.1 661.0,451.7 662.0,457.4 663.0,461.8 664.0,465.6 665.0,469.0 666.0,472.5 667.0,476.2 668.0,479.1 669.0,480.3 670.0,480.2 671.0,480.1 672.0,479.9 673.0,479.7 674.0,479.7 675.0,480.1 676.0,480.6 677.0,481.5 678.0,483.8 679.0,486.5 680.0,487.8 681.0,487.6 682.0,487.2 683.0,486.6 684.0,485.9 685.0,485.1 686.0,484.3 687.0,483.4 688.0,482.5 689.0,481.8 690.0,481.2 691.0,480.8 692.0,480.9 693.0,482.0 694.0,483.9 695.0,486.0 696.0,488.2 697.0,490.7 698.0,493.2 699.0,495.8 700.0,498.4 701.0,501.2 702.0,504.0 703.0,506.8 704.0,509.6 705.0,512.5 706.0,515.5 707.0,518.4 708.0,521.2 709.0,523.4 710.0,525.0 711.0,526.5 712.0,527.8 713.0,528.8 714.0,529.8 715.0,530.7 716.0,531.5 717.0,532.1 718.0,532.3 719.0,532.1 720.0,531.3 721.0,529.9 722.0,528.3 723.0,526.7 724.0,525.5 725.0,524.6 726.0,524.4 727.0,524.8 728.0,525.8 729.0,527.0 730.0,528.6 731.0,530.3 732.0,532.0 733.0,533.7 734.0,535.3 735.0,536.5 736.0,537.7 737.0,538.7 738.0,539.5 739.0,540.1 740.0,540.6 741.0,541.1 742.0,541.6 743.0,542.0 744.0,542.4 745.0,542.8 746.0,543.2 747.0,543.6 748.0,544.1 749.0,544.6 750.0,545.1 751.0,545.6 752.0,546.1 753.0,546.6 754.0,547.0 755.0,547.5 756.0,547.8 757.0,548.2 758.0,548.5 759.0,548.8 760.0,549.0 761.0,549.1 762.0,549.1 763.0,549.1 764.0,549.1 765.0,549.1 766.0,549.1 767.0,549.1 768.0,549.0 769.0,549.0 770.0,549.0 771.0,548.9 772.0,548.9 773.0,548.9 774.0,548.9 775.0,548.8 776.0,548.8 777.0,548.8 778.0,548.8 779.0,548.8 780.0,548.8 781.0,548.8 782.0,548.8 783.0,548.7 784.0,548.7 785.0,548.6 786.0,548.5 787.0,548.3 788.0,548.2 789.0,548.0 790.0,547.7 791.0,547.4 792.0,547.0 793.0,546.2 794.0,545.1 795.0,543.7 796.0,541.9 797.0,538.9 798.0,534.9 799.0,529.6 800.0,523.9 801.0,518.6 802.0,514.8 803.0,513.3 804.0,514.6 805.0,517.8 806.0,522.3 807.0,527.2 808.0,531.7 809.0,535.1 810.0,537.7 811.0,540.2 812.0,542.6 813.0,544.9 814.0,546.9 815.0,548.6 816.0,550.1 817.0,551.2 818.0,552.3 819.0,553.3 820.0,554.3 821.0,555.2 822.0,556.1 823.0,556.8 824.0,557.5 825.0,558.0 826.0,558.5 827.0,558.8 828.0,558.9 829.0,558.8 830.0,558.0 831.0,556.7 832.0,555.0 833.0,553.2 834.0,551.4 835.0,549.7 836.0,547.8 837.0,546.0 838.0,544.5 839.0,543.4 840.0,542.8 841.0,543.3 842.0,545.2 843.0,547.8 844.0,550.7 845.0,553.5 846.0,555.5 847.0,556.5 848.0,557.1 849.0,557.4 850.0,557.7 851.0,558.0 852.0,558.2 853.0,558.4 854.0,558.7 855.0,558.9 856.0,559.0 857.0,559.2 858.0,559.4 859.0,559.6 860.0,559.8 861.0,560.0 862.0,560.3 863.0,560.6 864.0,561.0 865.0,561.6 866.0,562.4 867.0,563.4 868.0,564.5 869.0,565.6 870.0,566.6 871.0,567.5 872.0,568.1 873.0,568.7 874.0,569.2 875.0,569.6 876.0,570.0 877.0,570.2 878.0,570.3 879.0,570.3 880.0,570.3 881.0,570.2 882.0,570.1 883.0,569.9 884.0,569.7 885.0,569.6 886.0,569.3 887.0,569.1 888.0,568.9 889.0,568.6 890.0,568.4 891.0,568.2 892.0,567.9 893.0,567.7 894.0,567.5 895.0,567.3 896.0,567.1 897.0,566.9 898.0,566.7 899.0,566.6 900.0,566.4 901.0,566.3 902.0,566.2 903.0,566.1 904.0,566.0 905.0,565.9 906.0,565.8 907.0,565.7 908.0,565.6 909.0,565.6 910.0,565.5 911.0,565.5 912.0,565.4 913.0,565.4 914.0,565.4 915.0,565.4 916.0,565.4 917.0,565.5 918.0,565.7 919.0,566.0 920.0,566.3 921.0,566.6 922.0,567.0 923.0,567.3 924.0,567.7 925.0,568.0 926.0,568.4 927.0,568.7 928.0,568.9 929.0,569.1 930.0,569.4 931.0,569.7 932.0,570.0 933.0,570.2 934.0,570.5 935.0,570.8 936.0,571.0 937.0,571.2 938.0,571.4 939.0,571.6 940.0,571.7 941.0,571.8 942.0,571.9 943.0,571.8 944.0,571.8 945.0,571.6 946.0,571.3 947.0,571.0 948.0,570.6 949.0,570.2 950.0,569.7 951.0,569.2 952.0,568.7 953.0,568.1 954.0,567.6 955.0,567.1 956.0,566.7 957.0,566.3 958.0,565.9 959.0,565.6 960.0,565.4 961.0,565.2 962.0,565.2 963.0,565.2 964.0,565.3 965.0,565.5 966.0,565.7 967.0,566.0 968.0,566.2 969.0,566.5 970.0,566.8 971.0,567.0 972.0,567.2 973.0,567.3 974.0,567.4 975.0,567.4 976.0,567.3 977.0,567.2 978.0,567.0 979.0,566.8 980.0,566.5 981.0,566.3 982.0,566.0" fill="none" stroke="#000" stroke-width="2.7" stroke-linejoin="round"/>
<polyline points="174.0,577.7 175.0,577.7 176.0,577.8 177.0,577.8 178.0,577.8 179.0,577.8 180.0,577.9 181.0,577.9 182.0,577.9 183.0,577.9 184.0,577.9 185.0,577.9 186.0,577.9 187.0,578.0 188.0,578.0 189.0,578.0 190.0,578.0 191.0,578.0 192.0,577.9 193.0,577.9 194.0,577.9 195.0,577.9 196.0,577.9 197.0,577.9 198.0,577.9 199.0,577.9 200.0,577.9 201.0,577.8 202.0,577.8 203.0,577.8 204.0,577.8 205.0,577.8 206.0,577.7 207.0,577.7 208.0,577.7 209.0,577.6 210.0,577.5 211.0,577.5 212.0,577.4 213.0,577.3 214.0,577.2 215.0,577.1 216.0,577.0 217.0,577.0 218.0,576.9 219.0,576.8 220.0,576.7 221.0,576.6 222.0,576.5 223.0,576.4 224.0,576.3 225.0,576.2 226.0,576.1 227.0,576.0 228.0,576.0 229.0,575.9 230.0,575.8 231.0,575.8 232.0,575.8 233.0,575.7 234.0,575.7 235.0,575.7 236.0,575.7 237.0,575.8 238.0,575.8 239.0,575.9 240.0,576.0 241.0,576.1 242.0,576.2 243.0,576.3 244.0,576.5 245.0,576.6 246.0,576.7 247.0,576.8 248.0,577.0 249.0,577.1 250.0,577.2 251.0,577.3 252.0,577.3 253.0,577.4 254.0,577.4 255.0,577.5 256.0,577.4 257.0,577.4 258.0,577.4 259.0,577.4 260.0,577.3 261.0,577.3 262.0,577.2 263.0,577.1 264.0,577.1 265.0,577.0 266.0,576.9 267.0,576.8 268.0,576.8 269.0,576.7 270.0,576.6 271.0,576.5 272.0,576.4 273.0,576.3 274.0,576.3 275.0,576.2 276.0,576.1 277.0,576.1 278.0,576.0 279.0,575.9 280.0,575.8 281.0,575.7 282.0,575.7 283.0,575.6 284.0,575.5 285.0,575.4 286.0,575.3 287.0,575.2 288.0,575.1 289.0,575.0 290.0,574.9 291.0,574.8 292.0,574.7 293.0,574.6 294.0,574.5 295.0,574.4 296.0,574.3 297.0,574.2 298.0,574.1 299.0,574.0 300.0,573.9 301.0,573.8 302.0,573.6 303.0,573.5 304.0,573.4 305.0,573.2 306.0,573.1 307.0,572.9 308.0,572.7 309.0,572.5 310.0,572.3 311.0,572.1 312.0,571.9 313.0,571.7 314.0,571.5 315.0,571.4 316.0,571.2 317.0,571.0 318.0,570.9 319.0,570.8 320.0,570.7 321.0,570.6 322.0,570.6 323.0,570.5 324.0,570.5 325.0,570.4 326.0,570.4 327.0,570.4 328.0,570.4 329.0,570.4 330.0,570.4 331.0,570.4 332.0,570.4 333.0,570.3 334.0,570.3 335.0,570.3 336.0,570.2 337.0,570.2 338.0,570.1 339.0,569.9 340.0,569.8 341.0,569.5 342.0,569.2 343.0,568.9 344.0,568.5 345.0,568.1 346.0,567.7 347.0,567.3 348.0,566.8 349.0,566.4 350.0,566.1 351.0,565.7 352.0,565.3 353.0,565.0 354.0,564.6 355.0,564.2 356.0,563.8 357.0,563.4 358.0,563.0 359.0,562.6 360.0,562.1 361.0,561.7 362.0,561.2 363.0,560.7 364.0,560.2 365.0,559.7 366.0,559.2 367.0,558.7 368.0,558.2 369.0,557.6 370.0,557.0 371.0,556.3 372.0,555.6 373.0,554.9 374.0,554.1 375.0,553.2 376.0,552.2 377.0,551.1 378.0,550.0 379.0,548.8 380.0,547.4 381.0,545.8 382.0,544.0 383.0,542.0 384.0,540.1 385.0,538.4 386.0,536.9 387.0,535.7 388.0,534.4 389.0,533.3 390.0,532.2 391.0,531.2 392.0,530.1 393.0,529.1 394.0,528.0 395.0,527.1 396.0,526.2 397.0,525.5 398.0,524.8 399.0,524.2 400.0,523.6 401.0,523.1 402.0,522.6 403.0,522.3 404.0,522.0 405.0,521.8 406.0,521.6 407.0,521.4 408.0,521.4 409.0,521.8 410.0,522.4 411.0,522.9 412.0,522.9 413.0,522.0 414.0,520.4 415.0,518.4 416.0,516.2 417.0,513.4 418.0,510.2 419.0,507.0 420.0,504.0 421.0,500.6 422.0,497.2 423.0,494.2 424.0,492.2 425.0,490.7 426.0,489.3 427.0,488.2 428.0,487.3 429.0,486.7 430.0,486.5 431.0,486.9 432.0,487.8 433.0,489.1 434.0,490.6 435.0,492.3 436.0,494.0 437.0,496.3 438.0,499.3 439.0,502.3 440.0,504.9 441.0,506.7 442.0,506.9 443.0,505.4 444.0,502.5 445.0,498.8 446.0,495.0 447.0,491.7 448.0,488.8 449.0,485.8 450.0,481.1 451.0,473.4 452.0,466.6 453.0,460.0 454.0,453.1 455.0,446.3 456.0,439.9 457.0,434.0 458.0,429.0 459.0,425.2 460.0,422.3 461.0,422.2 462.0,425.5 463.0,430.8 464.0,437.5 465.0,445.0 466.0,452.6 467.0,459.9 468.0,468.4 469.0,478.2 470.0,488.6 471.0,498.7 472.0,507.7 473.0,515.1 474.0,521.8 475.0,527.7 476.0,533.2 477.0,537.6 478.0,540.0 479.0,540.1 480.0,539.0 481.0,537.2 482.0,534.7 483.0,531.6 484.0,528.2 485.0,524.5 486.0,520.6 487.0,516.3 488.0,510.4 489.0,503.5 490.0,495.9 491.0,488.2 492.0,480.6 493.0,472.9 494.0,464.2 495.0,454.3 496.0,444.5 497.0,439.3 498.0,440.0 499.0,444.0 500.0,449.8 501.0,456.0 502.0,462.6 503.0,469.2 504.0,474.4 505.0,478.5 506.0,480.4 507.0,479.1 508.0,473.7 509.0,465.1 510.0,454.5 511.0,446.0 512.0,444.2 513.0,450.2 514.0,460.5 515.0,470.5 516.0,478.9 517.0,485.7 518.0,488.8 519.0,488.9 520.0,488.6 521.0,488.1 522.0,487.5 523.0,486.8 524.0,486.0 525.0,485.2 526.0,484.4 527.0,483.6 528.0,482.9 529.0,482.4 530.0,482.0 531.0,481.8 532.0,481.8 533.0,482.0 534.0,482.4 535.0,482.8 536.0,483.3 537.0,483.9 538.0,484.5 539.0,485.2 540.0,485.8 541.0,486.5 542.0,487.1 543.0,487.6 544.0,488.1 545.0,488.4 546.0,488.6 547.0,488.7 548.0,488.5 549.0,488.2 550.0,487.6 551.0,486.9 552.0,486.1 553.0,485.2 554.0,484.2 555.0,483.2 556.0,482.2 557.0,481.2 558.0,480.2 559.0,479.4 560.0,478.4 561.0,477.3 562.0,476.2 563.0,475.1 564.0,474.2 565.0,473.6 566.0,473.2 567.0,473.2 568.0,473.7 569.0,474.4 570.0,475.4 571.0,476.6 572.0,477.8 573.0,479.0 574.0,480.2 575.0,481.2 576.0,482.2 577.0,483.2 578.0,484.2 579.0,485.4 580.0,486.7 581.0,488.3 582.0,490.4 583.0,493.8 584.0,498.5 585.0,503.8 586.0,509.0 587.0,513.2 588.0,515.6 589.0,516.9 590.0,517.8 591.0,518.5 592.0,519.0 593.0,519.4 594.0,519.7 595.0,519.8 596.0,519.8 597.0,519.5 598.0,518.9 599.0,518.1 600.0,517.0 601.0,515.7 602.0,514.3 603.0,512.7 604.0,510.8 605.0,507.5 606.0,502.9 607.0,497.0 608.0,490.4 609.0,483.6 610.0,477.2 611.0,471.6 612.0,466.9 613.0,462.4 614.0,458.1 615.0,454.1 616.0,450.5 617.0,447.6 618.0,445.5 619.0,444.6 620.0,445.1 621.0,446.6 622.0,448.1 623.0,449.7 624.0,451.2 625.0,451.9 626.0,451.5 627.0,450.6 628.0,449.6 629.0,448.7 630.0,447.6 631.0,446.3 632.0,444.3 633.0,441.6 634.0,438.7 635.0,436.0 636.0,433.0 637.0,429.2 638.0,423.1 639.0,414.8 640.0,404.3 641.0,393.1 642.0,383.7 643.0,375.0 644.0,368.6 645.0,363.9 646.0,362.3 647.0,363.8 648.0,366.4 649.0,369.2 650.0,372.4 651.0,375.6 652.0,379.0 653.0,382.5 654.0,386.2 655.0,390.1 656.0,393.9 657.0,397.9 658.0,402.4 659.0,407.9 660.0,416.2 661.0,425.9 662.0,432.9 663.0,438.4 664.0,443.1 665.0,447.4 666.0,452.1 667.0,457.1 668.0,461.2 669.0,463.1 670.0,463.3 671.0,463.3 672.0,463.2 673.0,463.1 674.0,463.2 675.0,463.4 676.0,463.9 677.0,464.7 678.0,467.6 679.0,471.0 680.0,472.7 681.0,472.5 682.0,472.1 683.0,471.5 684.0,470.8 685.0,470.1 686.0,469.3 687.0,468.4 688.0,467.6 689.0,466.8 690.0,466.2 691.0,465.9 692.0,465.9 693.0,467.3 694.0,469.5 695.0,471.9 696.0,474.4 697.0,477.2 698.0,480.1 699.0,483.1 700.0,486.1 701.0,489.1 702.0,492.2 703.0,495.4 704.0,498.5 705.0,501.7 706.0,504.9 707.0,508.0 708.0,511.0 709.0,513.6 710.0,515.7 711.0,517.5 712.0,519.2 713.0,520.5 714.0,521.8 715.0,523.0 716.0,524.0 717.0,524.7 718.0,525.0 719.0,524.7 720.0,523.8 721.0,522.2 722.0,520.5 723.0,518.9 724.0,517.7 725.0,516.9 726.0,516.7 727.0,517.2 728.0,518.2 729.0,519.5 730.0,521.2 731.0,523.0 732.0,524.9 733.0,526.8 734.0,528.5 735.0,530.0 736.0,531.4 737.0,532.5 738.0,533.4 739.0,534.0 740.0,534.6 741.0,535.0 742.0,535.4 743.0,535.8 744.0,536.2 745.0,536.6 746.0,537.0 747.0,537.5 748.0,538.0 749.0,538.5 750.0,539.1 751.0,539.8 752.0,540.4 753.0,541.0 754.0,541.6 755.0,542.2 756.0,542.7 757.0,543.2 758.0,543.6 759.0,544.0 760.0,544.3 761.0,544.4 762.0,544.5 763.0,544.5 764.0,544.5 765.0,544.5 766.0,544.4 767.0,544.4 768.0,544.4 769.0,544.3 770.0,544.3 771.0,544.2 772.0,544.2 773.0,544.1 774.0,544.1 775.0,544.1 776.0,544.1 777.0,544.0 778.0,544.0 779.0,544.0 780.0,544.1 781.0,544.1 782.0,544.1 783.0,544.1 784.0,544.1 785.0,544.1 786.0,544.1 787.0,544.0 788.0,543.9 789.0,543.8 790.0,543.6 791.0,543.4 792.0,543.0 793.0,542.1 794.0,540.8 795.0,539.2 796.0,537.1 797.0,534.1 798.0,530.0 799.0,524.3 800.0,518.0 801.0,512.2 802.0,507.9 803.0,506.2 804.0,507.6 805.0,511.2 806.0,516.1 807.0,521.5 808.0,526.5 809.0,530.2 810.0,533.1 811.0,535.9 812.0,538.5 813.0,541.0 814.0,543.2 815.0,545.1 816.0,546.7 817.0,548.0 818.0,549.2 819.0,550.3 820.0,551.4 821.0,552.4 822.0,553.3 823.0,554.2 824.0,554.9 825.0,555.5 826.0,556.0 827.0,556.3 828.0,556.5 829.0,556.3 830.0,555.4 831.0,554.0 832.0,552.1 833.0,550.1 834.0,548.2 835.0,546.3 836.0,544.3 837.0,542.3 838.0,540.6 839.0,539.3 840.0,538.7 841.0,539.3 842.0,541.5 843.0,544.6 844.0,548.0 845.0,551.1 846.0,553.2 847.0,554.1 848.0,554.7 849.0,555.0 850.0,555.2 851.0,555.5 852.0,555.7 853.0,556.0 854.0,556.2 855.0,556.4 856.0,556.6 857.0,556.8 858.0,556.9 859.0,557.2 860.0,557.4 861.0,557.6 862.0,557.9 863.0,558.2 864.0,558.7 865.0,559.4 866.0,560.5 867.0,561.7 868.0,563.0 869.0,564.3 870.0,565.5 871.0,566.4 872.0,567.0 873.0,567.6 874.0,568.1 875.0,568.6 876.0,568.9 877.0,569.2 878.0,569.3 879.0,569.3 880.0,569.3 881.0,569.2 882.0,569.1 883.0,568.9 884.0,568.7 885.0,568.5 886.0,568.3 887.0,568.1 888.0,567.8 889.0,567.6 890.0,567.3 891.0,567.0 892.0,566.8 893.0,566.5 894.0,566.3 895.0,566.1 896.0,565.8 897.0,565.6 898.0,565.4 899.0,565.3 900.0,565.1 901.0,565.0 902.0,564.9 903.0,564.8 904.0,564.7 905.0,564.7 906.0,564.6 907.0,564.5 908.0,564.5 909.0,564.4 910.0,564.4 911.0,564.4 912.0,564.3 913.0,564.3 914.0,564.3 915.0,564.3 916.0,564.3 917.0,564.5 918.0,564.7 919.0,564.9 920.0,565.2 921.0,565.6 922.0,565.9 923.0,566.3 924.0,566.7 925.0,567.0 926.0,567.4 927.0,567.7 928.0,567.9 929.0,568.2 930.0,568.4 931.0,568.7 932.0,569.0 933.0,569.3 934.0,569.6 935.0,569.8 936.0,570.1 937.0,570.3 938.0,570.5 939.0,570.6 940.0,570.8 941.0,570.8 942.0,570.9 943.0,570.9 944.0,570.7 945.0,570.6 946.0,570.3 947.0,570.0 948.0,569.6 949.0,569.1 950.0,568.7 951.0,568.2 952.0,567.7 953.0,567.2 954.0,566.7 955.0,566.2 956.0,565.8 957.0,565.3 958.0,565.0 959.0,564.7 960.0,564.5 961.0,564.3 962.0,564.3 963.0,564.4 964.0,564.5 965.0,564.7 966.0,565.0 967.0,565.3 968.0,565.6 969.0,566.0 970.0,566.3 971.0,566.5 972.0,566.7 973.0,566.9 974.0,566.9 975.0,566.8 976.0,566.6 977.0,566.2 978.0,565.8 979.0,565.4 980.0,564.9 981.0,564.3 982.0,563.8" fill="none" stroke="#000" stroke-width="2.7" stroke-linejoin="round"/>
<polyline points="174.0,577.2 175.0,577.2 176.0,577.3 177.0,577.3 178.0,577.3 179.0,577.4 180.0,577.4 181.0,577.4 182.0,577.5 183.0,577.5 184.0,577.5 185.0,577.5 186.0,577.5 187.0,577.6 188.0,577.6 189.0,577.6 190.0,577.6 191.0,577.6 192.0,577.6 193.0,577.6 194.0,577.6 195.0,577.6 196.0,577.6 197.0,577.6 198.0,577.6 199.0,577.6 200.0,577.6 201.0,577.5 202.0,577.5 203.0,577.5 204.0,577.5 205.0,577.5 206.0,577.5 207.0,577.4 208.0,577.4 209.0,577.3 210.0,577.3 211.0,577.2 212.0,577.1 213.0,577.1 214.0,577.0 215.0,576.9 216.0,576.8 217.0,576.7 218.0,576.6 219.0,576.5 220.0,576.4 221.0,576.3 222.0,576.2 223.0,576.1 224.0,576.0 225.0,575.9 226.0,575.8 227.0,575.8 228.0,575.7 229.0,575.6 230.0,575.6 231.0,575.5 232.0,575.5 233.0,575.4 234.0,575.4 235.0,575.4 236.0,575.4 237.0,575.5 238.0,575.5 239.0,575.6 240.0,575.7 241.0,575.8 242.0,575.9 243.0,576.0 244.0,576.1 245.0,576.3 246.0,576.4 247.0,576.5 248.0,576.6 249.0,576.7 250.0,576.8 251.0,576.9 252.0,577.0 253.0,577.1 254.0,577.1 255.0,577.1 256.0,577.1 257.0,577.1 258.0,577.1 259.0,577.0 260.0,577.0 261.0,576.9 262.0,576.9 263.0,576.8 264.0,576.7 265.0,576.6 266.0,576.6 267.0,576.5 268.0,576.4 269.0,576.3 270.0,576.2 271.0,576.1 272.0,576.0 273.0,576.0 274.0,575.9 275.0,575.8 276.0,575.7 277.0,575.6 278.0,575.6 279.0,575.5 280.0,575.4 281.0,575.3 282.0,575.2 283.0,575.1 284.0,575.0 285.0,574.9 286.0,574.8 287.0,574.7 288.0,574.6 289.0,574.5 290.0,574.4 291.0,574.3 292.0,574.1 293.0,574.0 294.0,573.9 295.0,573.8 296.0,573.7 297.0,573.5 298.0,573.4 299.0,573.3 300.0,573.1 301.0,573.0 302.0,572.9 303.0,572.7 304.0,572.6 305.0,572.4 306.0,572.2 307.0,572.1 308.0,571.9 309.0,571.6 310.0,571.4 311.0,571.2 312.0,571.0 313.0,570.8 314.0,570.6 315.0,570.4 316.0,570.2 317.0,570.0 318.0,569.9 319.0,569.7 320.0,569.6 321.0,569.5 322.0,569.5 323.0,569.4 324.0,569.4 325.0,569.3 326.0,569.3 327.0,569.3 328.0,569.2 329.0,569.2 330.0,569.2 331.0,569.2 332.0,569.1 333.0,569.1 334.0,569.0 335.0,569.0 336.0,568.9 337.0,568.8 338.0,568.7 339.0,568.6 340.0,568.4 341.0,568.1 342.0,567.8 343.0,567.4 344.0,567.0 345.0,566.6 346.0,566.1 347.0,565.7 348.0,565.2 349.0,564.7 350.0,564.3 351.0,563.9 352.0,563.5 353.0,563.1 354.0,562.6 355.0,562.2 356.0,561.8 357.0,561.3 358.0,560.9 359.0,560.4 360.0,559.9 361.0,559.4 362.0,558.9 363.0,558.4 364.0,557.8 365.0,557.3 366.0,556.8 367.0,556.2 368.0,555.6 369.0,555.0 370.0,554.3 371.0,553.6 372.0,552.9 373.0,552.1 374.0,551.2 375.0,550.2 376.0,549.1 377.0,547.9 378.0,546.6 379.0,545.2 380.0,543.7 381.0,541.9 382.0,539.7 383.0,537.4 384.0,535.2 385.0,533.2 386.0,531.5 387.0,530.0 388.0,528.7 389.0,527.4 390.0,526.1 391.0,524.9 392.0,523.7 393.0,522.5 394.0,521.3 395.0,520.2 396.0,519.1 397.0,518.2 398.0,517.5 399.0,516.7 400.0,516.1 401.0,515.4 402.0,514.9 403.0,514.5 404.0,514.2 405.0,513.9 406.0,513.7 407.0,513.5 408.0,513.5 409.0,514.0 410.0,514.8 411.0,515.5 412.0,515.5 413.0,514.4 414.0,512.5 415.0,510.2 416.0,507.7 417.0,504.5 418.0,501.0 419.0,497.4 420.0,494.1 421.0,490.4 422.0,486.7 423.0,483.5 424.0,481.5 425.0,480.0 426.0,478.6 427.0,477.4 428.0,476.5 429.0,476.0 430.0,475.9 431.0,476.3 432.0,477.3 433.0,478.6 434.0,480.3 435.0,482.0 436.0,483.8 437.0,486.4 438.0,489.6 439.0,492.8 440.0,495.6 441.0,497.4 442.0,497.5 443.0,495.7 444.0,492.5 445.0,488.6 446.0,484.6 447.0,481.3 448.0,478.6 449.0,475.6 450.0,470.4 451.0,461.7 452.0,454.2 453.0,447.2 454.0,440.0 455.0,432.9 456.0,426.2 457.0,420.2 458.0,415.3 459.0,411.6 460.0,409.2 461.0,409.7 462.0,413.4 463.0,419.3 464.0,426.6 465.0,434.6 466.0,442.8 467.0,450.6 468.0,459.8 469.0,470.3 470.0,481.4 471.0,492.0 472.0,501.5 473.0,509.0 474.0,515.9 475.0,522.1 476.0,527.8 477.0,532.2 478.0,534.6 479.0,534.7 480.0,533.5 481.0,531.4 482.0,528.6 483.0,525.2 484.0,521.4 485.0,517.2 486.0,512.9 487.0,508.0 488.0,501.5 489.0,493.7 490.0,485.2 491.0,476.5 492.0,468.3 493.0,459.9 494.0,450.5 495.0,440.2 496.0,430.5 497.0,425.3 498.0,426.0 499.0,430.2 500.0,436.3 501.0,442.7 502.0,449.5 503.0,456.4 504.0,461.6 505.0,465.7 506.0,467.5 507.0,465.8 508.0,460.4 509.0,452.3 510.0,441.8 511.0,433.2 512.0,431.2 513.0,437.5 514.0,448.3 515.0,458.5 516.0,467.0 517.0,474.0 518.0,477.6 519.0,477.8 520.0,477.5 521.0,477.0 522.0,476.3 523.0,475.6 524.0,474.8 525.0,473.9 526.0,473.0 527.0,472.3 528.0,471.5 529.0,471.0 530.0,470.6 531.0,470.4 532.0,470.4 533.0,470.6 534.0,470.9 535.0,471.4 536.0,471.9 537.0,472.5 538.0,473.2 539.0,473.8 540.0,474.5 541.0,475.2 542.0,475.8 543.0,476.3 544.0,476.8 545.0,477.2 546.0,477.4 547.0,477.4 548.0,477.3 549.0,476.9 550.0,476.2 551.0,475.4 552.0,474.4 553.0,473.3 554.0,472.2 555.0,471.0 556.0,469.8 557.0,468.6 558.0,467.5 559.0,466.5 560.0,465.3 561.0,464.0 562.0,462.7 563.0,461.5 564.0,460.4 565.0,459.6 566.0,459.2 567.0,459.2 568.0,459.8 569.0,460.7 570.0,461.9 571.0,463.3 572.0,464.8 573.0,466.2 574.0,467.6 575.0,468.9 576.0,470.1 577.0,471.3 578.0,472.5 579.0,473.9 580.0,475.4 581.0,477.3 582.0,479.7 583.0,483.5 584.0,488.9 585.0,495.0 586.0,500.8 587.0,505.6 588.0,508.2 589.0,509.6 590.0,510.6 591.0,511.5 592.0,512.2 593.0,512.7 594.0,513.1 595.0,513.2 596.0,513.2 597.0,512.9 598.0,512.2 599.0,511.2 600.0,510.0 601.0,508.5 602.0,506.8 603.0,504.9 604.0,502.7 605.0,498.7 606.0,493.1 607.0,486.2 608.0,478.6 609.0,470.8 610.0,463.4 611.0,457.1 612.0,451.8 613.0,446.5 614.0,441.5 615.0,436.7 616.0,432.4 617.0,429.0 618.0,426.6 619.0,425.5 620.0,426.2 621.0,428.1 622.0,430.1 623.0,432.0 624.0,434.0 625.0,434.8 626.0,434.4 627.0,433.3 628.0,432.2 629.0,431.1 630.0,429.8 631.0,428.2 632.0,425.8 633.0,422.5 634.0,419.1 635.0,415.8 636.0,412.3 637.0,407.8 638.0,400.8 639.0,391.4 640.0,379.4 641.0,366.5 642.0,356.0 643.0,346.6 644.0,339.9 645.0,334.9 646.0,333.3 647.0,335.0 648.0,337.8 649.0,340.9 650.0,344.3 651.0,347.9 652.0,351.5 653.0,355.4 654.0,359.5 655.0,363.7 656.0,368.0 657.0,372.4 658.0,377.5 659.0,383.6 660.0,393.2 661.0,404.7 662.0,412.9 663.0,419.1 664.0,424.6 665.0,429.7 666.0,435.3 667.0,441.4 668.0,446.6 669.0,449.0 670.0,449.4 671.0,449.5 672.0,449.5 673.0,449.5 674.0,449.5 675.0,449.7 676.0,450.1 677.0,450.9 678.0,454.3 679.0,458.3 680.0,460.3 681.0,460.1 682.0,459.7 683.0,459.1 684.0,458.4 685.0,457.7 686.0,457.0 687.0,456.1 688.0,455.3 689.0,454.5 690.0,453.9 691.0,453.6 692.0,453.7 693.0,455.2 694.0,457.7 695.0,460.3 696.0,463.1 697.0,466.1 698.0,469.3 699.0,472.6 700.0,475.9 701.0,479.2 702.0,482.6 703.0,486.0 704.0,489.4 705.0,492.8 706.0,496.2 707.0,499.4 708.0,502.6 709.0,505.5 710.0,507.9 711.0,510.2 712.0,512.1 713.0,513.7 714.0,515.2 715.0,516.6 716.0,517.8 717.0,518.6 718.0,519.0 719.0,518.7 720.0,517.6 721.0,515.9 722.0,514.0 723.0,512.4 724.0,511.3 725.0,510.5 726.0,510.4 727.0,510.9 728.0,512.0 729.0,513.4 730.0,515.1 731.0,517.1 732.0,519.1 733.0,521.1 734.0,523.0 735.0,524.7 736.0,526.2 737.0,527.4 738.0,528.4 739.0,529.1 740.0,529.6 741.0,530.0 742.0,530.4 743.0,530.8 744.0,531.1 745.0,531.5 746.0,531.9 747.0,532.4 748.0,532.9 749.0,533.6 750.0,534.2 751.0,535.0 752.0,535.7 753.0,536.4 754.0,537.1 755.0,537.8 756.0,538.5 757.0,539.1 758.0,539.6 759.0,540.1 760.0,540.4 761.0,540.6 762.0,540.7 763.0,540.7 764.0,540.7 765.0,540.6 766.0,540.6 767.0,540.5 768.0,540.5 769.0,540.4 770.0,540.4 771.0,540.3 772.0,540.3 773.0,540.2 774.0,540.2 775.0,540.2 776.0,540.1 777.0,540.1 778.0,540.1 779.0,540.1 780.0,540.2 781.0,540.2 782.0,540.3 783.0,540.3 784.0,540.4 785.0,540.4 786.0,540.4 787.0,540.4 788.0,540.4 789.0,540.3 790.0,540.2 791.0,540.1 792.0,539.7 793.0,538.8 794.0,537.3 795.0,535.5 796.0,533.1 797.0,530.1 798.0,526.0 799.0,520.0 800.0,513.2 801.0,506.9 802.0,502.2 803.0,500.4 804.0,501.9 805.0,505.7 806.0,511.0 807.0,516.8 808.0,522.2 809.0,526.1 810.0,529.3 811.0,532.3 812.0,535.1 813.0,537.8 814.0,540.1 815.0,542.2 816.0,544.0 817.0,545.3 818.0,546.6 819.0,547.8 820.0,549.0 821.0,550.0 822.0,551.1 823.0,552.0 824.0,552.8 825.0,553.4 826.0,553.9 827.0,554.3 828.0,554.5 829.0,554.3 830.0,553.3 831.0,551.7 832.0,549.7 833.0,547.6 834.0,545.5 835.0,543.6 836.0,541.5 837.0,539.3 838.0,537.4 839.0,536.0 840.0,535.4 841.0,536.0 842.0,538.5 843.0,541.9 844.0,545.7 845.0,549.1 846.0,551.3 847.0,552.2 848.0,552.7 849.0,553.0 850.0,553.2 851.0,553.4 852.0,553.7 853.0,553.9 854.0,554.1 855.0,554.3 856.0,554.5 857.0,554.7 858.0,554.9 859.0,555.1 860.0,555.4 861.0,555.6 862.0,555.9 863.0,556.3 864.0,556.8 865.0,557.7 866.0,558.9 867.0,560.3 868.0,561.8 869.0,563.2 870.0,564.5 871.0,565.5 872.0,566.1 873.0,566.7 874.0,567.2 875.0,567.7 876.0,568.1 877.0,568.3 878.0,568.5 879.0,568.5 880.0,568.5 881.0,568.4 882.0,568.3 883.0,568.1 884.0,567.9 885.0,567.7 886.0,567.5 887.0,567.2 888.0,567.0 889.0,566.7 890.0,566.4 891.0,566.1 892.0,565.8 893.0,565.6 894.0,565.3 895.0,565.0 896.0,564.8 897.0,564.6 898.0,564.4 899.0,564.2 900.0,564.1 901.0,563.9 902.0,563.9 903.0,563.8 904.0,563.7 905.0,563.7 906.0,563.6 907.0,563.6 908.0,563.5 909.0,563.5 910.0,563.5 911.0,563.4 912.0,563.4 913.0,563.4 914.0,563.4 915.0,563.4 916.0,563.4 917.0,563.6 918.0,563.8 919.0,564.0 920.0,564.4 921.0,564.7 922.0,565.1 923.0,565.5 924.0,565.9 925.0,566.2 926.0,566.6 927.0,566.9 928.0,567.1 929.0,567.4 930.0,567.7 931.0,567.9 932.0,568.2 933.0,568.5 934.0,568.8 935.0,569.0 936.0,569.3 937.0,569.5 938.0,569.7 939.0,569.8 940.0,570.0 941.0,570.0 942.0,570.1 943.0,570.0 944.0,569.9 945.0,569.7 946.0,569.5 947.0,569.1 948.0,568.7 949.0,568.3 950.0,567.8 951.0,567.4 952.0,566.9 953.0,566.4 954.0,565.9 955.0,565.4 956.0,565.0 957.0,564.6 958.0,564.3 959.0,564.0 960.0,563.8 961.0,563.6 962.0,563.6 963.0,563.7 964.0,563.8 965.0,564.1 966.0,564.4 967.0,564.8 968.0,565.2 969.0,565.5 970.0,565.9 971.0,566.1 972.0,566.4 973.0,566.5 974.0,566.4 975.0,566.2 976.0,565.9 977.0,565.4 978.0,564.9 979.0,564.2 980.0,563.5 981.0,562.7 982.0,561.9" fill="none" stroke="#000" stroke-width="2.7" stroke-linejoin="round"/>
<polyline points="174.0,576.7 175.0,576.8 176.0,576.8 177.0,576.9 178.0,576.9 179.0,577.0 180.0,577.0 181.0,577.1 182.0,577.1 183.0,577.1 184.0,577.2 185.0,577.2 186.0,577.2 187.0,577.2 188.0,577.2 189.0,577.3 190.0,577.3 191.0,577.3 192.0,577.3 193.0,577.3 194.0,577.3 195.0,577.3 196.0,577.3 197.0,577.3 198.0,577.3 199.0,577.3 200.0,577.3 201.0,577.3 202.0,577.3 203.0,577.3 204.0,577.3 205.0,577.2 206.0,577.2 207.0,577.2 208.0,577.2 209.0,577.1 210.0,577.1 211.0,577.0 212.0,576.9 213.0,576.8 214.0,576.7 215.0,576.7 216.0,576.6 217.0,576.5 218.0,576.4 219.0,576.3 220.0,576.2 221.0,576.1 222.0,576.0 223.0,575.9 224.0,575.8 225.0,575.7 226.0,575.6 227.0,575.5 228.0,575.4 229.0,575.4 230.0,575.3 231.0,575.3 232.0,575.2 233.0,575.2 234.0,575.2 235.0,575.2 236.0,575.2 237.0,575.2 238.0,575.3 239.0,575.3 240.0,575.4 241.0,575.5 242.0,575.6 243.0,575.8 244.0,575.9 245.0,576.0 246.0,576.1 247.0,576.2 248.0,576.3 249.0,576.5 250.0,576.6 251.0,576.6 252.0,576.7 253.0,576.8 254.0,576.8 255.0,576.8 256.0,576.8 257.0,576.8 258.0,576.8 259.0,576.7 260.0,576.7 261.0,576.6 262.0,576.6 263.0,576.5 264.0,576.4 265.0,576.3 266.0,576.3 267.0,576.2 268.0,576.1 269.0,576.0 270.0,575.9 271.0,575.8 272.0,575.7 273.0,575.6 274.0,575.5 275.0,575.4 276.0,575.4 277.0,575.3 278.0,575.2 279.0,575.1 280.0,575.0 281.0,574.9 282.0,574.8 283.0,574.7 284.0,574.6 285.0,574.5 286.0,574.4 287.0,574.2 288.0,574.1 289.0,574.0 290.0,573.9 291.0,573.7 292.0,573.6 293.0,573.5 294.0,573.4 295.0,573.2 296.0,573.1 297.0,572.9 298.0,572.8 299.0,572.7 300.0,572.5 301.0,572.4 302.0,572.2 303.0,572.1 304.0,571.9 305.0,571.7 306.0,571.5 307.0,571.3 308.0,571.1 309.0,570.9 310.0,570.7 311.0,570.4 312.0,570.2 313.0,570.0 314.0,569.8 315.0,569.6 316.0,569.4 317.0,569.2 318.0,569.0 319.0,568.9 320.0,568.7 321.0,568.6 322.0,568.5 323.0,568.4 324.0,568.4 325.0,568.3 326.0,568.3 327.0,568.2 328.0,568.2 329.0,568.2 330.0,568.1 331.0,568.1 332.0,568.1 333.0,568.0 334.0,568.0 335.0,567.9 336.0,567.8 337.0,567.7 338.0,567.6 339.0,567.5 340.0,567.2 341.0,566.9 342.0,566.6 343.0,566.2 344.0,565.7 345.0,565.3 346.0,564.8 347.0,564.2 348.0,563.7 349.0,563.3 350.0,562.8 351.0,562.3 352.0,561.9 353.0,561.4 354.0,561.0 355.0,560.5 356.0,560.0 357.0,559.5 358.0,559.0 359.0,558.5 360.0,558.0 361.0,557.5 362.0,556.9 363.0,556.3 364.0,555.8 365.0,555.2 366.0,554.6 367.0,554.0 368.0,553.4 369.0,552.7 370.0,552.0 371.0,551.3 372.0,550.5 373.0,549.6 374.0,548.7 375.0,547.6 376.0,546.4 377.0,545.1 378.0,543.7 379.0,542.2 380.0,540.5 381.0,538.4 382.0,536.0 383.0,533.4 384.0,530.9 385.0,528.7 386.0,526.8 387.0,525.2 388.0,523.7 389.0,522.2 390.0,520.9 391.0,519.5 392.0,518.2 393.0,516.8 394.0,515.4 395.0,514.1 396.0,513.0 397.0,512.0 398.0,511.1 399.0,510.3 400.0,509.5 401.0,508.8 402.0,508.2 403.0,507.7 404.0,507.4 405.0,507.1 406.0,506.8 407.0,506.7 408.0,506.7 409.0,507.3 410.0,508.2 411.0,509.0 412.0,509.0 413.0,507.7 414.0,505.6 415.0,503.0 416.0,500.2 417.0,496.8 418.0,493.0 419.0,489.0 420.0,485.4 421.0,481.5 422.0,477.5 423.0,474.3 424.0,472.2 425.0,470.7 426.0,469.3 427.0,468.1 428.0,467.2 429.0,466.6 430.0,466.6 431.0,467.1 432.0,468.1 433.0,469.6 434.0,471.2 435.0,473.0 436.0,475.0 437.0,477.7 438.0,481.1 439.0,484.6 440.0,487.5 441.0,489.3 442.0,489.3 443.0,487.3 444.0,483.8 445.0,479.7 446.0,475.6 447.0,472.4 448.0,469.7 449.0,466.7 450.0,461.2 451.0,451.5 452.0,443.5 453.0,436.1 454.0,428.6 455.0,421.2 456.0,414.3 457.0,408.3 458.0,403.4 459.0,399.9 460.0,397.8 461.0,398.8 462.0,402.9 463.0,409.2 464.0,417.0 465.0,425.6 466.0,434.3 467.0,442.5 468.0,452.3 469.0,463.4 470.0,475.1 471.0,486.2 472.0,496.0 473.0,503.7 474.0,510.7 475.0,517.2 476.0,523.0 477.0,527.5 478.0,529.9 479.0,529.9 480.0,528.7 481.0,526.4 482.0,523.4 483.0,519.7 484.0,515.4 485.0,510.9 486.0,506.2 487.0,500.9 488.0,493.7 489.0,485.1 490.0,475.8 491.0,466.4 492.0,457.6 493.0,448.6 494.0,438.5 495.0,427.9 496.0,418.3 497.0,413.1 498.0,413.8 499.0,418.2 500.0,424.6 501.0,431.2 502.0,438.2 503.0,445.2 504.0,450.4 505.0,454.6 506.0,456.2 507.0,454.2 508.0,448.8 509.0,441.1 510.0,430.7 511.0,422.1 512.0,419.9 513.0,426.5 514.0,437.7 515.0,448.1 516.0,456.5 517.0,463.9 518.0,467.8 519.0,468.1 520.0,467.8 521.0,467.3 522.0,466.6 523.0,465.8 524.0,465.0 525.0,464.1 526.0,463.2 527.0,462.4 528.0,461.6 529.0,461.0 530.0,460.6 531.0,460.4 532.0,460.4 533.0,460.6 534.0,461.0 535.0,461.4 536.0,462.0 537.0,462.6 538.0,463.3 539.0,464.0 540.0,464.7 541.0,465.3 542.0,466.0 543.0,466.5 544.0,467.0 545.0,467.4 546.0,467.6 547.0,467.7 548.0,467.5 549.0,467.0 550.0,466.3 551.0,465.3 552.0,464.2 553.0,463.0 554.0,461.7 555.0,460.3 556.0,459.0 557.0,457.7 558.0,456.4 559.0,455.3 560.0,454.0 561.0,452.5 562.0,451.0 563.0,449.6 564.0,448.4 565.0,447.5 566.0,447.0 567.0,447.0 568.0,447.7 569.0,448.7 570.0,450.1 571.0,451.7 572.0,453.4 573.0,455.1 574.0,456.7 575.0,458.2 576.0,459.5 577.0,460.9 578.0,462.3 579.0,463.9 580.0,465.7 581.0,467.8 582.0,470.4 583.0,474.5 584.0,480.5 585.0,487.2 586.0,493.7 587.0,498.9 588.0,501.8 589.0,503.3 590.0,504.4 591.0,505.4 592.0,506.2 593.0,506.8 594.0,507.3 595.0,507.5 596.0,507.5 597.0,507.1 598.0,506.4 599.0,505.3 600.0,503.8 601.0,502.2 602.0,500.2 603.0,498.2 604.0,495.6 605.0,491.0 606.0,484.6 607.0,476.8 608.0,468.3 609.0,459.6 610.0,451.4 611.0,444.4 612.0,438.6 613.0,432.8 614.0,427.0 615.0,421.6 616.0,416.7 617.0,412.8 618.0,410.1 619.0,409.0 620.0,409.8 621.0,412.0 622.0,414.4 623.0,416.7 624.0,419.0 625.0,420.0 626.0,419.5 627.0,418.3 628.0,417.0 629.0,415.7 630.0,414.3 631.0,412.5 632.0,409.7 633.0,406.0 634.0,402.0 635.0,398.3 636.0,394.3 637.0,389.2 638.0,381.4 639.0,371.0 640.0,357.7 641.0,343.4 642.0,331.9 643.0,321.8 644.0,314.9 645.0,309.8 646.0,308.1 647.0,310.0 648.0,313.0 649.0,316.3 650.0,320.0 651.0,323.7 652.0,327.7 653.0,331.8 654.0,336.2 655.0,340.8 656.0,345.4 657.0,350.2 658.0,355.7 659.0,362.5 660.0,373.3 661.0,386.2 662.0,395.4 663.0,402.4 664.0,408.5 665.0,414.3 666.0,420.7 667.0,427.8 668.0,433.8 669.0,436.7 670.0,437.2 671.0,437.5 672.0,437.6 673.0,437.6 674.0,437.7 675.0,437.9 676.0,438.2 677.0,439.0 678.0,442.7 679.0,447.2 680.0,449.5 681.0,449.3 682.0,448.9 683.0,448.3 684.0,447.7 685.0,447.0 686.0,446.3 687.0,445.4 688.0,444.6 689.0,443.8 690.0,443.2 691.0,442.9 692.0,443.0 693.0,444.7 694.0,447.4 695.0,450.2 696.0,453.2 697.0,456.5 698.0,460.0 699.0,463.5 700.0,467.1 701.0,470.6 702.0,474.2 703.0,477.8 704.0,481.5 705.0,485.0 706.0,488.6 707.0,492.0 708.0,495.3 709.0,498.5 710.0,501.2 711.0,503.8 712.0,506.0 713.0,507.8 714.0,509.4 715.0,511.0 716.0,512.4 717.0,513.4 718.0,513.8 719.0,513.4 720.0,512.2 721.0,510.4 722.0,508.5 723.0,506.8 724.0,505.8 725.0,505.0 726.0,504.9 727.0,505.5 728.0,506.6 729.0,508.1 730.0,509.9 731.0,511.9 732.0,514.0 733.0,516.2 734.0,518.2 735.0,520.0 736.0,521.7 737.0,523.0 738.0,524.1 739.0,524.7 740.0,525.2 741.0,525.6 742.0,526.0 743.0,526.4 744.0,526.7 745.0,527.1 746.0,527.5 747.0,528.0 748.0,528.5 749.0,529.2 750.0,530.0 751.0,530.8 752.0,531.6 753.0,532.4 754.0,533.3 755.0,534.1 756.0,534.8 757.0,535.5 758.0,536.1 759.0,536.6 760.0,537.0 761.0,537.3 762.0,537.4 763.0,537.4 764.0,537.3 765.0,537.3 766.0,537.3 767.0,537.2 768.0,537.1 769.0,537.1 770.0,537.0 771.0,537.0 772.0,536.9 773.0,536.8 774.0,536.8 775.0,536.8 776.0,536.7 777.0,536.7 778.0,536.7 779.0,536.7 780.0,536.8 781.0,536.9 782.0,536.9 783.0,537.0 784.0,537.1 785.0,537.2 786.0,537.3 787.0,537.3 788.0,537.3 789.0,537.3 790.0,537.3 791.0,537.2 792.0,536.9 793.0,535.8 794.0,534.2 795.0,532.2 796.0,529.7 797.0,526.7 798.0,522.5 799.0,516.2 800.0,509.0 801.0,502.2 802.0,497.2 803.0,495.3 804.0,496.9 805.0,501.0 806.0,506.6 807.0,512.8 808.0,518.4 809.0,522.6 810.0,526.0 811.0,529.1 812.0,532.2 813.0,535.0 814.0,537.5 815.0,539.7 816.0,541.6 817.0,543.0 818.0,544.3 819.0,545.6 820.0,546.9 821.0,548.0 822.0,549.1 823.0,550.1 824.0,550.9 825.0,551.6 826.0,552.1 827.0,552.5 828.0,552.7 829.0,552.5 830.0,551.5 831.0,549.8 832.0,547.6 833.0,545.3 834.0,543.2 835.0,541.2 836.0,539.0 837.0,536.7 838.0,534.7 839.0,533.1 840.0,532.4 841.0,533.2 842.0,535.8 843.0,539.6 844.0,543.7 845.0,547.4 846.0,549.7 847.0,550.5 848.0,550.9 849.0,551.2 850.0,551.4 851.0,551.7 852.0,551.9 853.0,552.1 854.0,552.4 855.0,552.6 856.0,552.8 857.0,553.0 858.0,553.2 859.0,553.4 860.0,553.6 861.0,553.9 862.0,554.3 863.0,554.6 864.0,555.1 865.0,556.1 866.0,557.5 867.0,559.0 868.0,560.7 869.0,562.3 870.0,563.7 871.0,564.7 872.0,565.3 873.0,565.9 874.0,566.5 875.0,566.9 876.0,567.3 877.0,567.6 878.0,567.8 879.0,567.8 880.0,567.8 881.0,567.7 882.0,567.6 883.0,567.4 884.0,567.2 885.0,567.0 886.0,566.7 887.0,566.5 888.0,566.2 889.0,565.9 890.0,565.6 891.0,565.3 892.0,565.0 893.0,564.7 894.0,564.4 895.0,564.2 896.0,563.9 897.0,563.7 898.0,563.5 899.0,563.3 900.0,563.1 901.0,563.0 902.0,562.9 903.0,562.9 904.0,562.9 905.0,562.8 906.0,562.8 907.0,562.8 908.0,562.7 909.0,562.7 910.0,562.7 911.0,562.6 912.0,562.6 913.0,562.6 914.0,562.6 915.0,562.6 916.0,562.7 917.0,562.8 918.0,563.0 919.0,563.3 920.0,563.6 921.0,564.0 922.0,564.3 923.0,564.7 924.0,565.1 925.0,565.5 926.0,565.9 927.0,566.2 928.0,566.4 929.0,566.7 930.0,567.0 931.0,567.2 932.0,567.5 933.0,567.8 934.0,568.1 935.0,568.4 936.0,568.6 937.0,568.8 938.0,569.0 939.0,569.2 940.0,569.3 941.0,569.4 942.0,569.4 943.0,569.3 944.0,569.2 945.0,569.0 946.0,568.7 947.0,568.4 948.0,568.0 949.0,567.6 950.0,567.1 951.0,566.7 952.0,566.2 953.0,565.7 954.0,565.2 955.0,564.8 956.0,564.3 957.0,564.0 958.0,563.6 959.0,563.3 960.0,563.1 961.0,563.0 962.0,563.0 963.0,563.1 964.0,563.3 965.0,563.6 966.0,563.9 967.0,564.3 968.0,564.7 969.0,565.1 970.0,565.5 971.0,565.8 972.0,566.0 973.0,566.1 974.0,566.0 975.0,565.8 976.0,565.3 977.0,564.8 978.0,564.0 979.0,563.2 980.0,562.3 981.0,561.3 982.0,560.3" fill="none" stroke="#000" stroke-width="2.7" stroke-linejoin="round"/>
<polyline points="174.0,576.3 175.0,576.4 176.0,576.4 177.0,576.5 178.0,576.6 179.0,576.6 180.0,576.7 181.0,576.7 182.0,576.8 183.0,576.8 184.0,576.8 185.0,576.9 186.0,576.9 187.0,576.9 188.0,576.9 189.0,577.0 190.0,577.0 191.0,577.0 192.0,577.0 193.0,577.0 194.0,577.0 195.0,577.0 196.0,577.1 197.0,577.1 198.0,577.1 199.0,577.1 200.0,577.1 201.0,577.1 202.0,577.1 203.0,577.0 204.0,577.0 205.0,577.0 206.0,577.0 207.0,577.0 208.0,577.0 209.0,576.9 210.0,576.9 211.0,576.8 212.0,576.7 213.0,576.6 214.0,576.5 215.0,576.5 216.0,576.4 217.0,576.3 218.0,576.2 219.0,576.1 220.0,576.0 221.0,575.9 222.0,575.8 223.0,575.7 224.0,575.6 225.0,575.5 226.0,575.4 227.0,575.3 228.0,575.2 229.0,575.2 230.0,575.1 231.0,575.0 232.0,575.0 233.0,575.0 234.0,575.0 235.0,575.0 236.0,575.0 237.0,575.0 238.0,575.0 239.0,575.1 240.0,575.2 241.0,575.3 242.0,575.4 243.0,575.5 244.0,575.6 245.0,575.7 246.0,575.9 247.0,576.0 248.0,576.1 249.0,576.2 250.0,576.3 251.0,576.4 252.0,576.4 253.0,576.5 254.0,576.5 255.0,576.5 256.0,576.5 257.0,576.5 258.0,576.5 259.0,576.4 260.0,576.4 261.0,576.3 262.0,576.3 263.0,576.2 264.0,576.1 265.0,576.1 266.0,576.0 267.0,575.9 268.0,575.8 269.0,575.7 270.0,575.6 271.0,575.5 272.0,575.4 273.0,575.3 274.0,575.2 275.0,575.1 276.0,575.0 277.0,574.9 278.0,574.8 279.0,574.7 280.0,574.6 281.0,574.5 282.0,574.4 283.0,574.3 284.0,574.2 285.0,574.1 286.0,573.9 287.0,573.8 288.0,573.7 289.0,573.6 290.0,573.4 291.0,573.3 292.0,573.2 293.0,573.0 294.0,572.9 295.0,572.7 296.0,572.6 297.0,572.4 298.0,572.3 299.0,572.1 300.0,572.0 301.0,571.8 302.0,571.6 303.0,571.5 304.0,571.3 305.0,571.1 306.0,570.9 307.0,570.7 308.0,570.5 309.0,570.2 310.0,570.0 311.0,569.8 312.0,569.5 313.0,569.3 314.0,569.0 315.0,568.8 316.0,568.6 317.0,568.4 318.0,568.2 319.0,568.0 320.0,567.9 321.0,567.8 322.0,567.7 323.0,567.6 324.0,567.5 325.0,567.4 326.0,567.4 327.0,567.3 328.0,567.3 329.0,567.2 330.0,567.2 331.0,567.1 332.0,567.1 333.0,567.0 334.0,567.0 335.0,566.9 336.0,566.8 337.0,566.7 338.0,566.6 339.0,566.4 340.0,566.2 341.0,565.9 342.0,565.5 343.0,565.1 344.0,564.6 345.0,564.1 346.0,563.5 347.0,563.0 348.0,562.4 349.0,561.9 350.0,561.4 351.0,560.9 352.0,560.4 353.0,560.0 354.0,559.5 355.0,559.0 356.0,558.4 357.0,557.9 358.0,557.4 359.0,556.8 360.0,556.3 361.0,555.7 362.0,555.1 363.0,554.5 364.0,553.9 365.0,553.3 366.0,552.7 367.0,552.0 368.0,551.4 369.0,550.7 370.0,549.9 371.0,549.1 372.0,548.3 373.0,547.4 374.0,546.4 375.0,545.3 376.0,544.0 377.0,542.6 378.0,541.1 379.0,539.4 380.0,537.6 381.0,535.3 382.0,532.6 383.0,529.8 384.0,527.0 385.0,524.6 386.0,522.6 387.0,520.8 388.0,519.1 389.0,517.6 390.0,516.1 391.0,514.6 392.0,513.1 393.0,511.6 394.0,510.1 395.0,508.7 396.0,507.4 397.0,506.3 398.0,505.4 399.0,504.4 400.0,503.6 401.0,502.8 402.0,502.1 403.0,501.6 404.0,501.2 405.0,500.9 406.0,500.7 407.0,500.5 408.0,500.5 409.0,501.2 410.0,502.2 411.0,503.1 412.0,503.1 413.0,501.8 414.0,499.4 415.0,496.5 416.0,493.6 417.0,489.9 418.0,485.7 419.0,481.5 420.0,477.6 421.0,473.4 422.0,469.3 423.0,466.0 424.0,463.9 425.0,462.3 426.0,460.8 427.0,459.7 428.0,458.8 429.0,458.3 430.0,458.2 431.0,458.8 432.0,459.9 433.0,461.4 434.0,463.1 435.0,465.0 436.0,467.0 437.0,469.9 438.0,473.5 439.0,477.2 440.0,480.2 441.0,482.0 442.0,481.9 443.0,479.7 444.0,476.0 445.0,471.7 446.0,467.5 447.0,464.3 448.0,461.7 449.0,458.7 450.0,452.8 451.0,442.4 452.0,433.9 453.0,426.1 454.0,418.3 455.0,410.7 456.0,403.7 457.0,397.5 458.0,392.6 459.0,389.3 460.0,387.6 461.0,388.9 462.0,393.5 463.0,400.2 464.0,408.4 465.0,417.5 466.0,426.6 467.0,435.3 468.0,445.5 469.0,457.2 470.0,469.4 471.0,481.0 472.0,491.1 473.0,498.9 474.0,506.1 475.0,512.8 476.0,518.7 477.0,523.3 478.0,525.7 479.0,525.7 480.0,524.3 481.0,521.9 482.0,518.6 483.0,514.6 484.0,510.1 485.0,505.2 486.0,500.1 487.0,494.4 488.0,486.6 489.0,477.4 490.0,467.4 491.0,457.3 492.0,448.0 493.0,438.4 494.0,427.7 495.0,416.8 496.0,407.4 497.0,402.2 498.0,402.8 499.0,407.3 500.0,414.0 501.0,420.8 502.0,427.9 503.0,435.2 504.0,440.4 505.0,444.6 506.0,446.1 507.0,443.7 508.0,438.4 509.0,431.0 510.0,420.7 511.0,412.0 512.0,409.7 513.0,416.6 514.0,428.2 515.0,438.7 516.0,447.2 517.0,454.8 518.0,459.0 519.0,459.4 520.0,459.1 521.0,458.6 522.0,457.9 523.0,457.1 524.0,456.2 525.0,455.3 526.0,454.3 527.0,453.5 528.0,452.7 529.0,452.1 530.0,451.7 531.0,451.4 532.0,451.5 533.0,451.7 534.0,452.0 535.0,452.5 536.0,453.1 537.0,453.7 538.0,454.4 539.0,455.1 540.0,455.8 541.0,456.5 542.0,457.1 543.0,457.7 544.0,458.2 545.0,458.6 546.0,458.8 547.0,458.9 548.0,458.7 549.0,458.1 550.0,457.3 551.0,456.3 552.0,455.1 553.0,453.7 554.0,452.3 555.0,450.8 556.0,449.3 557.0,447.8 558.0,446.5 559.0,445.2 560.0,443.8 561.0,442.2 562.0,440.5 563.0,438.9 564.0,437.6 565.0,436.5 566.0,436.0 567.0,436.1 568.0,436.8 569.0,437.9 570.0,439.5 571.0,441.3 572.0,443.2 573.0,445.1 574.0,446.9 575.0,448.5 576.0,450.0 577.0,451.6 578.0,453.2 579.0,454.9 580.0,456.9 581.0,459.2 582.0,462.0 583.0,466.4 584.0,472.9 585.0,480.3 586.0,487.4 587.0,493.0 588.0,496.0 589.0,497.6 590.0,498.9 591.0,500.0 592.0,500.9 593.0,501.6 594.0,502.1 595.0,502.3 596.0,502.4 597.0,502.0 598.0,501.1 599.0,499.9 600.0,498.3 601.0,496.5 602.0,494.4 603.0,492.1 604.0,489.2 605.0,484.1 606.0,477.0 607.0,468.4 608.0,459.0 609.0,449.5 610.0,440.6 611.0,433.0 612.0,426.8 613.0,420.4 614.0,414.0 615.0,408.0 616.0,402.6 617.0,398.3 618.0,395.3 619.0,394.0 620.0,395.0 621.0,397.6 622.0,400.2 623.0,402.9 624.0,405.5 625.0,406.7 626.0,406.1 627.0,404.8 628.0,403.3 629.0,401.9 630.0,400.3 631.0,398.3 632.0,395.2 633.0,391.1 634.0,386.7 635.0,382.6 636.0,378.1 637.0,372.5 638.0,363.9 639.0,352.7 640.0,338.2 641.0,322.6 642.0,310.2 643.0,299.5 644.0,292.4 645.0,287.1 646.0,285.4 647.0,287.5 648.0,290.7 649.0,294.1 650.0,298.0 651.0,302.0 652.0,306.2 653.0,310.6 654.0,315.2 655.0,320.1 656.0,325.1 657.0,330.3 658.0,336.2 659.0,343.5 660.0,355.4 661.0,369.6 662.0,379.7 663.0,387.3 664.0,394.0 665.0,400.4 666.0,407.6 667.0,415.6 668.0,422.4 669.0,425.7 670.0,426.3 671.0,426.7 672.0,426.9 673.0,427.0 674.0,427.0 675.0,427.2 676.0,427.4 677.0,428.2 678.0,432.3 679.0,437.3 680.0,439.7 681.0,439.6 682.0,439.2 683.0,438.6 684.0,438.0 685.0,437.3 686.0,436.6 687.0,435.8 688.0,435.0 689.0,434.2 690.0,433.6 691.0,433.2 692.0,433.4 693.0,435.2 694.0,438.2 695.0,441.2 696.0,444.3 697.0,447.9 698.0,451.6 699.0,455.4 700.0,459.1 701.0,462.8 702.0,466.6 703.0,470.5 704.0,474.3 705.0,478.1 706.0,481.8 707.0,485.3 708.0,488.8 709.0,492.1 710.0,495.2 711.0,498.0 712.0,500.4 713.0,502.4 714.0,504.3 715.0,506.0 716.0,507.6 717.0,508.6 718.0,509.1 719.0,508.7 720.0,507.3 721.0,505.4 722.0,503.4 723.0,501.8 724.0,500.8 725.0,500.0 726.0,500.0 727.0,500.6 728.0,501.7 729.0,503.2 730.0,505.1 731.0,507.2 732.0,509.5 733.0,511.7 734.0,513.9 735.0,515.9 736.0,517.6 737.0,519.1 738.0,520.2 739.0,520.8 740.0,521.3 741.0,521.7 742.0,522.1 743.0,522.4 744.0,522.7 745.0,523.1 746.0,523.5 747.0,524.0 748.0,524.6 749.0,525.3 750.0,526.1 751.0,527.0 752.0,527.9 753.0,528.9 754.0,529.8 755.0,530.7 756.0,531.5 757.0,532.3 758.0,533.0 759.0,533.6 760.0,534.0 761.0,534.3 762.0,534.4 763.0,534.4 764.0,534.3 765.0,534.3 766.0,534.3 767.0,534.2 768.0,534.1 769.0,534.1 770.0,534.0 771.0,533.9 772.0,533.9 773.0,533.8 774.0,533.7 775.0,533.7 776.0,533.7 777.0,533.6 778.0,533.6 779.0,533.7 780.0,533.7 781.0,533.8 782.0,533.9 783.0,534.1 784.0,534.2 785.0,534.3 786.0,534.4 787.0,534.5 788.0,534.6 789.0,534.6 790.0,534.6 791.0,534.6 792.0,534.3 793.0,533.2 794.0,531.5 795.0,529.3 796.0,526.6 797.0,523.6 798.0,519.3 799.0,512.8 800.0,505.2 801.0,498.1 802.0,492.8 803.0,490.7 804.0,492.4 805.0,496.7 806.0,502.6 807.0,509.1 808.0,515.1 809.0,519.5 810.0,523.0 811.0,526.3 812.0,529.5 813.0,532.5 814.0,535.1 815.0,537.5 816.0,539.4 817.0,540.9 818.0,542.3 819.0,543.7 820.0,545.0 821.0,546.2 822.0,547.3 823.0,548.3 824.0,549.2 825.0,550.0 826.0,550.5 827.0,550.9 828.0,551.1 829.0,550.9 830.0,549.8 831.0,548.0 832.0,545.7 833.0,543.3 834.0,541.1 835.0,539.1 836.0,536.7 837.0,534.3 838.0,532.2 839.0,530.6 840.0,529.8 841.0,530.6 842.0,533.5 843.0,537.6 844.0,542.0 845.0,545.8 846.0,548.2 847.0,549.0 848.0,549.4 849.0,549.6 850.0,549.9 851.0,550.1 852.0,550.3 853.0,550.5 854.0,550.8 855.0,551.0 856.0,551.2 857.0,551.4 858.0,551.6 859.0,551.8 860.0,552.1 861.0,552.4 862.0,552.7 863.0,553.1 864.0,553.7 865.0,554.7 866.0,556.2 867.0,557.9 868.0,559.7 869.0,561.4 870.0,562.9 871.0,564.0 872.0,564.6 873.0,565.2 874.0,565.8 875.0,566.3 876.0,566.6 877.0,566.9 878.0,567.1 879.0,567.2 880.0,567.1 881.0,567.1 882.0,566.9 883.0,566.8 884.0,566.6 885.0,566.3 886.0,566.1 887.0,565.8 888.0,565.5 889.0,565.2 890.0,564.9 891.0,564.6 892.0,564.3 893.0,564.0 894.0,563.7 895.0,563.4 896.0,563.1 897.0,562.9 898.0,562.7 899.0,562.5 900.0,562.3 901.0,562.2 902.0,562.1 903.0,562.1 904.0,562.1 905.0,562.0 906.0,562.0 907.0,562.0 908.0,562.0 909.0,562.0 910.0,561.9 911.0,561.9 912.0,561.9 913.0,561.9 914.0,561.9 915.0,561.9 916.0,562.0 917.0,562.1 918.0,562.3 919.0,562.6 920.0,562.9 921.0,563.3 922.0,563.7 923.0,564.1 924.0,564.5 925.0,564.9 926.0,565.2 927.0,565.5 928.0,565.8 929.0,566.1 930.0,566.3 931.0,566.6 932.0,566.9 933.0,567.2 934.0,567.5 935.0,567.7 936.0,568.0 937.0,568.2 938.0,568.4 939.0,568.6 940.0,568.7 941.0,568.7 942.0,568.7 943.0,568.7 944.0,568.6 945.0,568.3 946.0,568.1 947.0,567.7 948.0,567.4 949.0,566.9 950.0,566.5 951.0,566.0 952.0,565.5 953.0,565.1 954.0,564.6 955.0,564.2 956.0,563.7 957.0,563.4 958.0,563.0 959.0,562.8 960.0,562.6 961.0,562.5 962.0,562.4 963.0,562.5 964.0,562.7 965.0,563.1 966.0,563.5 967.0,563.9 968.0,564.4 969.0,564.8 970.0,565.2 971.0,565.5 972.0,565.7 973.0,565.8 974.0,565.7 975.0,565.4 976.0,564.8 977.0,564.1 978.0,563.3 979.0,562.3 980.0,561.2 981.0,560.1 982.0,558.9" fill="none" stroke="#000" stroke-width="2.7" stroke-linejoin="round"/>
<polyline points="174.0,576.0 175.0,576.1 176.0,576.1 177.0,576.2 178.0,576.3 179.0,576.3 180.0,576.4 181.0,576.4 182.0,576.5 183.0,576.5 184.0,576.6 185.0,576.6 186.0,576.6 187.0,576.7 188.0,576.7 189.0,576.7 190.0,576.8 191.0,576.8 192.0,576.8 193.0,576.8 194.0,576.8 195.0,576.8 196.0,576.9 197.0,576.9 198.0,576.9 199.0,576.9 200.0,576.9 201.0,576.9 202.0,576.9 203.0,576.9 204.0,576.9 205.0,576.9 206.0,576.9 207.0,576.8 208.0,576.8 209.0,576.7 210.0,576.7 211.0,576.6 212.0,576.6 213.0,576.5 214.0,576.4 215.0,576.3 216.0,576.2 217.0,576.1 218.0,576.0 219.0,575.9 220.0,575.8 221.0,575.7 222.0,575.6 223.0,575.5 224.0,575.4 225.0,575.3 226.0,575.2 227.0,575.1 228.0,575.1 229.0,575.0 230.0,574.9 231.0,574.9 232.0,574.8 233.0,574.8 234.0,574.8 235.0,574.8 236.0,574.8 237.0,574.8 238.0,574.9 239.0,574.9 240.0,575.0 241.0,575.1 242.0,575.2 243.0,575.3 244.0,575.4 245.0,575.6 246.0,575.7 247.0,575.8 248.0,575.9 249.0,576.0 250.0,576.1 251.0,576.2 252.0,576.2 253.0,576.3 254.0,576.3 255.0,576.3 256.0,576.3 257.0,576.3 258.0,576.3 259.0,576.2 260.0,576.2 261.0,576.1 262.0,576.1 263.0,576.0 264.0,575.9 265.0,575.8 266.0,575.8 267.0,575.7 268.0,575.6 269.0,575.5 270.0,575.4 271.0,575.3 272.0,575.2 273.0,575.1 274.0,575.0 275.0,574.9 276.0,574.8 277.0,574.7 278.0,574.6 279.0,574.5 280.0,574.4 281.0,574.3 282.0,574.1 283.0,574.0 284.0,573.9 285.0,573.8 286.0,573.6 287.0,573.5 288.0,573.4 289.0,573.2 290.0,573.1 291.0,572.9 292.0,572.8 293.0,572.6 294.0,572.5 295.0,572.3 296.0,572.2 297.0,572.0 298.0,571.8 299.0,571.7 300.0,571.5 301.0,571.3 302.0,571.2 303.0,571.0 304.0,570.8 305.0,570.6 306.0,570.4 307.0,570.2 308.0,570.0 309.0,569.7 310.0,569.5 311.0,569.2 312.0,569.0 313.0,568.7 314.0,568.5 315.0,568.2 316.0,568.0 317.0,567.8 318.0,567.6 319.0,567.4 320.0,567.3 321.0,567.1 322.0,567.0 323.0,566.9 324.0,566.8 325.0,566.8 326.0,566.7 327.0,566.6 328.0,566.6 329.0,566.5 330.0,566.5 331.0,566.4 332.0,566.3 333.0,566.3 334.0,566.2 335.0,566.1 336.0,566.0 337.0,565.9 338.0,565.8 339.0,565.6 340.0,565.4 341.0,565.0 342.0,564.6 343.0,564.2 344.0,563.7 345.0,563.1 346.0,562.6 347.0,562.0 348.0,561.4 349.0,560.9 350.0,560.3 351.0,559.8 352.0,559.3 353.0,558.8 354.0,558.3 355.0,557.8 356.0,557.2 357.0,556.7 358.0,556.1 359.0,555.5 360.0,554.9 361.0,554.3 362.0,553.7 363.0,553.1 364.0,552.4 365.0,551.8 366.0,551.2 367.0,550.5 368.0,549.8 369.0,549.1 370.0,548.3 371.0,547.5 372.0,546.6 373.0,545.7 374.0,544.6 375.0,543.5 376.0,542.2 377.0,540.7 378.0,539.1 379.0,537.3 380.0,535.3 381.0,532.9 382.0,530.0 383.0,527.0 384.0,524.0 385.0,521.4 386.0,519.3 387.0,517.4 388.0,515.6 389.0,514.0 390.0,512.4 391.0,510.8 392.0,509.2 393.0,507.6 394.0,506.0 395.0,504.5 396.0,503.1 397.0,501.9 398.0,500.9 399.0,499.9 400.0,499.0 401.0,498.1 402.0,497.4 403.0,496.9 404.0,496.5 405.0,496.1 406.0,495.9 407.0,495.7 408.0,495.7 409.0,496.4 410.0,497.6 411.0,498.5 412.0,498.6 413.0,497.1 414.0,494.6 415.0,491.5 416.0,488.4 417.0,484.5 418.0,480.1 419.0,475.7 420.0,471.6 421.0,467.2 422.0,462.9 423.0,459.5 424.0,457.4 425.0,455.8 426.0,454.3 427.0,453.1 428.0,452.2 429.0,451.7 430.0,451.7 431.0,452.3 432.0,453.5 433.0,455.0 434.0,456.8 435.0,458.8 436.0,460.8 437.0,463.9 438.0,467.7 439.0,471.4 440.0,474.6 441.0,476.4 442.0,476.2 443.0,473.8 444.0,469.9 445.0,465.4 446.0,461.2 447.0,458.0 448.0,455.5 449.0,452.4 450.0,446.3 451.0,435.3 452.0,426.4 453.0,418.4 454.0,410.3 455.0,402.5 456.0,395.4 457.0,389.2 458.0,384.3 459.0,381.0 460.0,379.6 461.0,381.3 462.0,386.1 463.0,393.2 464.0,401.8 465.0,411.2 466.0,420.6 467.0,429.6 468.0,440.2 469.0,452.4 470.0,465.0 471.0,477.0 472.0,487.3 473.0,495.1 474.0,502.5 475.0,509.4 476.0,515.4 477.0,520.0 478.0,522.4 479.0,522.4 480.0,521.0 481.0,518.4 482.0,514.9 483.0,510.7 484.0,505.9 485.0,500.8 486.0,495.4 487.0,489.4 488.0,481.2 489.0,471.4 490.0,460.8 491.0,450.2 492.0,440.5 493.0,430.5 494.0,419.4 495.0,408.2 496.0,398.8 497.0,393.7 498.0,394.2 499.0,398.9 500.0,405.8 501.0,412.7 502.0,420.0 503.0,427.4 504.0,432.6 505.0,436.8 506.0,438.3 507.0,435.6 508.0,430.3 509.0,423.2 510.0,413.0 511.0,404.2 512.0,401.8 513.0,408.8 514.0,420.8 515.0,431.5 516.0,439.9 517.0,447.7 518.0,452.2 519.0,452.6 520.0,452.3 521.0,451.8 522.0,451.1 523.0,450.2 524.0,449.3 525.0,448.4 526.0,447.5 527.0,446.6 528.0,445.8 529.0,445.1 530.0,444.7 531.0,444.5 532.0,444.5 533.0,444.7 534.0,445.1 535.0,445.5 536.0,446.1 537.0,446.8 538.0,447.5 539.0,448.2 540.0,448.9 541.0,449.6 542.0,450.3 543.0,450.9 544.0,451.4 545.0,451.7 546.0,452.0 547.0,452.0 548.0,451.8 549.0,451.2 550.0,450.4 551.0,449.3 552.0,448.0 553.0,446.5 554.0,445.0 555.0,443.4 556.0,441.8 557.0,440.2 558.0,438.8 559.0,437.4 560.0,435.8 561.0,434.1 562.0,432.3 563.0,430.6 564.0,429.1 565.0,428.1 566.0,427.5 567.0,427.6 568.0,428.3 569.0,429.6 570.0,431.3 571.0,433.2 572.0,435.3 573.0,437.4 574.0,439.3 575.0,441.0 576.0,442.7 577.0,444.3 578.0,446.0 579.0,447.9 580.0,450.0 581.0,452.5 582.0,455.5 583.0,460.2 584.0,467.1 585.0,474.9 586.0,482.4 587.0,488.4 588.0,491.5 589.0,493.1 590.0,494.5 591.0,495.7 592.0,496.7 593.0,497.5 594.0,498.0 595.0,498.3 596.0,498.4 597.0,497.9 598.0,497.0 599.0,495.7 600.0,494.1 601.0,492.1 602.0,489.8 603.0,487.3 604.0,484.3 605.0,478.8 606.0,471.1 607.0,461.8 608.0,451.8 609.0,441.7 610.0,432.2 611.0,424.2 612.0,417.6 613.0,410.7 614.0,403.9 615.0,397.4 616.0,391.6 617.0,387.0 618.0,383.8 619.0,382.4 620.0,383.5 621.0,386.4 622.0,389.3 623.0,392.1 624.0,395.0 625.0,396.3 626.0,395.7 627.0,394.3 628.0,392.7 629.0,391.2 630.0,389.5 631.0,387.3 632.0,384.0 633.0,379.5 634.0,374.8 635.0,370.3 636.0,365.5 637.0,359.5 638.0,350.3 639.0,338.4 640.0,323.1 641.0,306.5 642.0,293.4 643.0,282.2 644.0,274.9 645.0,269.5 646.0,267.8 647.0,270.0 648.0,273.3 649.0,276.9 650.0,280.9 651.0,285.1 652.0,289.5 653.0,294.1 654.0,298.9 655.0,304.1 656.0,309.3 657.0,314.7 658.0,321.0 659.0,328.7 660.0,341.4 661.0,356.7 662.0,367.4 663.0,375.6 664.0,382.7 665.0,389.6 666.0,397.3 667.0,406.1 668.0,413.5 669.0,417.1 670.0,417.9 671.0,418.4 672.0,418.6 673.0,418.7 674.0,418.7 675.0,418.9 676.0,419.0 677.0,419.8 678.0,424.1 679.0,429.5 680.0,432.2 681.0,432.0 682.0,431.6 683.0,431.1 684.0,430.4 685.0,429.8 686.0,429.1 687.0,428.3 688.0,427.5 689.0,426.7 690.0,426.1 691.0,425.7 692.0,425.9 693.0,427.8 694.0,431.0 695.0,434.1 696.0,437.4 697.0,441.1 698.0,445.0 699.0,449.0 700.0,452.9 701.0,456.8 702.0,460.8 703.0,464.8 704.0,468.8 705.0,472.7 706.0,476.4 707.0,480.1 708.0,483.7 709.0,487.2 710.0,490.5 711.0,493.5 712.0,496.1 713.0,498.3 714.0,500.2 715.0,502.2 716.0,503.8 717.0,504.9 718.0,505.4 719.0,505.0 720.0,503.5 721.0,501.6 722.0,499.5 723.0,497.9 724.0,496.9 725.0,496.2 726.0,496.1 727.0,496.7 728.0,497.9 729.0,499.5 730.0,501.4 731.0,503.6 732.0,505.9 733.0,508.2 734.0,510.5 735.0,512.6 736.0,514.5 737.0,516.0 738.0,517.1 739.0,517.8 740.0,518.3 741.0,518.7 742.0,519.0 743.0,519.3 744.0,519.6 745.0,520.0 746.0,520.4 747.0,520.9 748.0,521.5 749.0,522.3 750.0,523.2 751.0,524.1 752.0,525.1 753.0,526.1 754.0,527.1 755.0,528.0 756.0,528.9 757.0,529.8 758.0,530.5 759.0,531.2 760.0,531.6 761.0,531.9 762.0,532.1 763.0,532.0 764.0,532.0 765.0,532.0 766.0,531.9 767.0,531.9 768.0,531.8 769.0,531.7 770.0,531.6 771.0,531.6 772.0,531.5 773.0,531.4 774.0,531.4 775.0,531.3 776.0,531.3 777.0,531.3 778.0,531.3 779.0,531.3 780.0,531.4 781.0,531.5 782.0,531.6 783.0,531.8 784.0,531.9 785.0,532.1 786.0,532.2 787.0,532.4 788.0,532.5 789.0,532.5 790.0,532.6 791.0,532.6 792.0,532.3 793.0,531.2 794.0,529.4 795.0,527.0 796.0,524.2 797.0,521.1 798.0,516.9 799.0,510.1 800.0,502.3 801.0,494.9 802.0,489.3 803.0,487.2 804.0,488.9 805.0,493.4 806.0,499.5 807.0,506.3 808.0,512.4 809.0,517.0 810.0,520.7 811.0,524.1 812.0,527.5 813.0,530.5 814.0,533.3 815.0,535.7 816.0,537.7 817.0,539.3 818.0,540.8 819.0,542.2 820.0,543.5 821.0,544.8 822.0,545.9 823.0,547.0 824.0,547.9 825.0,548.7 826.0,549.3 827.0,549.7 828.0,549.9 829.0,549.7 830.0,548.5 831.0,546.6 832.0,544.3 833.0,541.8 834.0,539.5 835.0,537.4 836.0,535.0 837.0,532.5 838.0,530.2 839.0,528.5 840.0,527.7 841.0,528.6 842.0,531.6 843.0,536.0 844.0,540.6 845.0,544.6 846.0,547.1 847.0,547.8 848.0,548.1 849.0,548.4 850.0,548.6 851.0,548.8 852.0,549.0 853.0,549.3 854.0,549.5 855.0,549.7 856.0,549.9 857.0,550.2 858.0,550.4 859.0,550.6 860.0,550.9 861.0,551.2 862.0,551.5 863.0,551.9 864.0,552.5 865.0,553.7 866.0,555.2 867.0,557.1 868.0,559.0 869.0,560.8 870.0,562.3 871.0,563.4 872.0,564.1 873.0,564.7 874.0,565.2 875.0,565.7 876.0,566.1 877.0,566.4 878.0,566.6 879.0,566.7 880.0,566.6 881.0,566.6 882.0,566.4 883.0,566.3 884.0,566.1 885.0,565.8 886.0,565.6 887.0,565.3 888.0,565.0 889.0,564.7 890.0,564.3 891.0,564.0 892.0,563.7 893.0,563.4 894.0,563.1 895.0,562.8 896.0,562.5 897.0,562.2 898.0,562.0 899.0,561.8 900.0,561.7 901.0,561.6 902.0,561.5 903.0,561.5 904.0,561.5 905.0,561.4 906.0,561.4 907.0,561.4 908.0,561.4 909.0,561.4 910.0,561.4 911.0,561.4 912.0,561.4 913.0,561.4 914.0,561.4 915.0,561.4 916.0,561.4 917.0,561.6 918.0,561.8 919.0,562.1 920.0,562.4 921.0,562.8 922.0,563.2 923.0,563.6 924.0,564.0 925.0,564.4 926.0,564.7 927.0,565.0 928.0,565.3 929.0,565.6 930.0,565.9 931.0,566.1 932.0,566.4 933.0,566.7 934.0,567.0 935.0,567.3 936.0,567.5 937.0,567.7 938.0,567.9 939.0,568.1 940.0,568.2 941.0,568.3 942.0,568.3 943.0,568.2 944.0,568.1 945.0,567.8 946.0,567.6 947.0,567.2 948.0,566.8 949.0,566.4 950.0,566.0 951.0,565.5 952.0,565.1 953.0,564.6 954.0,564.1 955.0,563.7 956.0,563.3 957.0,562.9 958.0,562.6 959.0,562.3 960.0,562.1 961.0,562.0 962.0,562.0 963.0,562.1 964.0,562.3 965.0,562.7 966.0,563.1 967.0,563.6 968.0,564.1 969.0,564.5 970.0,564.9 971.0,565.3 972.0,565.5 973.0,565.6 974.0,565.4 975.0,565.0 976.0,564.4 977.0,563.6 978.0,562.7 979.0,561.6 980.0,560.4 981.0,559.1 982.0,557.8" fill="none" stroke="#000" stroke-width="2.7" stroke-linejoin="round"/>
<polyline points="174.0,575.7 175.0,575.8 176.0,575.9 177.0,576.0 178.0,576.0 179.0,576.1 180.0,576.2 181.0,576.2 182.0,576.3 183.0,576.3 184.0,576.4 185.0,576.4 186.0,576.5 187.0,576.5 188.0,576.5 189.0,576.6 190.0,576.6 191.0,576.6 192.0,576.6 193.0,576.7 194.0,576.7 195.0,576.7 196.0,576.7 197.0,576.7 198.0,576.7 199.0,576.7 200.0,576.7 201.0,576.7 202.0,576.7 203.0,576.7 204.0,576.7 205.0,576.7 206.0,576.7 207.0,576.7 208.0,576.7 209.0,576.6 210.0,576.6 211.0,576.5 212.0,576.4 213.0,576.4 214.0,576.3 215.0,576.2 216.0,576.1 217.0,576.0 218.0,575.9 219.0,575.8 220.0,575.7 221.0,575.6 222.0,575.5 223.0,575.4 224.0,575.3 225.0,575.2 226.0,575.1 227.0,575.0 228.0,574.9 229.0,574.9 230.0,574.8 231.0,574.7 232.0,574.7 233.0,574.7 234.0,574.6 235.0,574.6 236.0,574.6 237.0,574.7 238.0,574.7 239.0,574.8 240.0,574.9 241.0,575.0 242.0,575.1 243.0,575.2 244.0,575.3 245.0,575.4 246.0,575.5 247.0,575.6 248.0,575.7 249.0,575.8 250.0,575.9 251.0,576.0 252.0,576.1 253.0,576.1 254.0,576.2 255.0,576.2 256.0,576.2 257.0,576.1 258.0,576.1 259.0,576.1 260.0,576.0 261.0,576.0 262.0,575.9 263.0,575.8 264.0,575.8 265.0,575.7 266.0,575.6 267.0,575.5 268.0,575.4 269.0,575.3 270.0,575.2 271.0,575.1 272.0,575.0 273.0,574.9 274.0,574.8 275.0,574.7 276.0,574.6 277.0,574.5 278.0,574.4 279.0,574.3 280.0,574.2 281.0,574.0 282.0,573.9 283.0,573.8 284.0,573.7 285.0,573.5 286.0,573.4 287.0,573.3 288.0,573.1 289.0,573.0 290.0,572.8 291.0,572.7 292.0,572.5 293.0,572.3 294.0,572.2 295.0,572.0 296.0,571.9 297.0,571.7 298.0,571.5 299.0,571.3 300.0,571.2 301.0,571.0 302.0,570.8 303.0,570.6 304.0,570.5 305.0,570.3 306.0,570.0 307.0,569.8 308.0,569.6 309.0,569.3 310.0,569.0 311.0,568.8 312.0,568.5 313.0,568.3 314.0,568.0 315.0,567.8 316.0,567.5 317.0,567.3 318.0,567.1 319.0,566.9 320.0,566.8 321.0,566.6 322.0,566.5 323.0,566.4 324.0,566.3 325.0,566.2 326.0,566.1 327.0,566.1 328.0,566.0 329.0,565.9 330.0,565.9 331.0,565.8 332.0,565.8 333.0,565.7 334.0,565.6 335.0,565.5 336.0,565.4 337.0,565.3 338.0,565.1 339.0,565.0 340.0,564.7 341.0,564.4 342.0,564.0 343.0,563.5 344.0,563.0 345.0,562.4 346.0,561.8 347.0,561.2 348.0,560.6 349.0,560.1 350.0,559.5 351.0,559.0 352.0,558.4 353.0,557.9 354.0,557.4 355.0,556.8 356.0,556.3 357.0,555.7 358.0,555.1 359.0,554.5 360.0,553.9 361.0,553.3 362.0,552.6 363.0,551.9 364.0,551.3 365.0,550.6 366.0,550.0 367.0,549.3 368.0,548.6 369.0,547.8 370.0,547.0 371.0,546.2 372.0,545.3 373.0,544.3 374.0,543.3 375.0,542.1 376.0,540.7 377.0,539.1 378.0,537.5 379.0,535.6 380.0,533.6 381.0,531.0 382.0,528.0 383.0,524.8 384.0,521.7 385.0,518.9 386.0,516.7 387.0,514.7 388.0,512.9 389.0,511.1 390.0,509.5 391.0,507.8 392.0,506.2 393.0,504.5 394.0,502.8 395.0,501.2 396.0,499.7 397.0,498.5 398.0,497.4 399.0,496.3 400.0,495.4 401.0,494.5 402.0,493.7 403.0,493.1 404.0,492.7 405.0,492.4 406.0,492.1 407.0,491.9 408.0,491.9 409.0,492.7 410.0,494.0 411.0,495.0 412.0,495.0 413.0,493.5 414.0,490.8 415.0,487.5 416.0,484.3 417.0,480.3 418.0,475.7 419.0,471.1 420.0,466.8 421.0,462.3 422.0,457.9 423.0,454.4 424.0,452.3 425.0,450.6 426.0,449.2 427.0,448.0 428.0,447.1 429.0,446.6 430.0,446.6 431.0,447.3 432.0,448.5 433.0,450.1 434.0,451.9 435.0,453.8 436.0,455.9 437.0,459.1 438.0,463.0 439.0,466.9 440.0,470.1 441.0,472.0 442.0,471.7 443.0,469.2 444.0,465.1 445.0,460.5 446.0,456.3 447.0,453.1 448.0,450.6 449.0,447.5 450.0,441.2 451.0,429.7 452.0,420.5 453.0,412.3 454.0,404.0 455.0,396.1 456.0,388.8 457.0,382.6 458.0,377.7 459.0,374.5 460.0,373.4 461.0,375.3 462.0,380.3 463.0,387.6 464.0,396.5 465.0,406.2 466.0,415.9 467.0,425.2 468.0,436.1 469.0,448.6 470.0,461.5 471.0,473.8 472.0,484.3 473.0,492.2 474.0,499.6 475.0,506.7 476.0,512.8 477.0,517.4 478.0,519.8 479.0,519.8 480.0,518.3 481.0,515.7 482.0,512.1 483.0,507.7 484.0,502.7 485.0,497.3 486.0,491.7 487.0,485.5 488.0,476.9 489.0,466.7 490.0,455.7 491.0,444.7 492.0,434.6 493.0,424.3 494.0,412.8 495.0,401.5 496.0,392.2 497.0,387.0 498.0,387.5 499.0,392.3 500.0,399.3 501.0,406.3 502.0,413.7 503.0,421.3 504.0,426.5 505.0,430.7 506.0,432.1 507.0,429.2 508.0,424.0 509.0,417.0 510.0,406.9 511.0,398.1 512.0,395.6 513.0,402.8 514.0,415.0 515.0,425.7 516.0,434.2 517.0,442.1 518.0,446.8 519.0,447.3 520.0,447.0 521.0,446.4 522.0,445.7 523.0,444.9 524.0,444.0 525.0,443.0 526.0,442.0 527.0,441.1 528.0,440.3 529.0,439.7 530.0,439.2 531.0,439.0 532.0,439.0 533.0,439.2 534.0,439.6 535.0,440.1 536.0,440.7 537.0,441.3 538.0,442.0 539.0,442.8 540.0,443.5 541.0,444.2 542.0,444.9 543.0,445.5 544.0,446.0 545.0,446.4 546.0,446.6 547.0,446.7 548.0,446.4 549.0,445.8 550.0,444.9 551.0,443.7 552.0,442.4 553.0,440.8 554.0,439.2 555.0,437.5 556.0,435.8 557.0,434.2 558.0,432.7 559.0,431.3 560.0,429.6 561.0,427.8 562.0,425.9 563.0,424.1 564.0,422.5 565.0,421.4 566.0,420.8 567.0,420.8 568.0,421.6 569.0,423.0 570.0,424.8 571.0,426.8 572.0,429.0 573.0,431.2 574.0,433.3 575.0,435.1 576.0,436.9 577.0,438.6 578.0,440.4 579.0,442.4 580.0,444.7 581.0,447.3 582.0,450.3 583.0,455.2 584.0,462.4 585.0,470.6 586.0,478.5 587.0,484.7 588.0,488.0 589.0,489.7 590.0,491.1 591.0,492.4 592.0,493.4 593.0,494.3 594.0,494.9 595.0,495.2 596.0,495.2 597.0,494.8 598.0,493.8 599.0,492.5 600.0,490.7 601.0,488.6 602.0,486.2 603.0,483.6 604.0,480.4 605.0,474.6 606.0,466.4 607.0,456.7 608.0,446.1 609.0,435.5 610.0,425.6 611.0,417.2 612.0,410.3 613.0,403.1 614.0,395.9 615.0,389.1 616.0,383.0 617.0,378.1 618.0,374.7 619.0,373.3 620.0,374.5 621.0,377.5 622.0,380.6 623.0,383.7 624.0,386.8 625.0,388.2 626.0,387.5 627.0,386.0 628.0,384.3 629.0,382.8 630.0,381.0 631.0,378.7 632.0,375.1 633.0,370.4 634.0,365.4 635.0,360.7 636.0,355.6 637.0,349.2 638.0,339.6 639.0,327.2 640.0,311.1 641.0,293.8 642.0,280.1 643.0,268.6 644.0,261.1 645.0,255.6 646.0,253.9 647.0,256.2 648.0,259.6 649.0,263.3 650.0,267.5 651.0,271.9 652.0,276.4 653.0,281.1 654.0,286.1 655.0,291.5 656.0,296.9 657.0,302.5 658.0,309.0 659.0,317.1 660.0,330.5 661.0,346.5 662.0,357.8 663.0,366.4 664.0,373.9 665.0,381.1 666.0,389.3 667.0,398.6 668.0,406.5 669.0,410.3 670.0,411.2 671.0,411.8 672.0,412.0 673.0,412.2 674.0,412.2 675.0,412.3 676.0,412.5 677.0,413.2 678.0,417.8 679.0,423.4 680.0,426.2 681.0,426.1 682.0,425.7 683.0,425.1 684.0,424.5 685.0,423.9 686.0,423.3 687.0,422.5 688.0,421.6 689.0,420.9 690.0,420.2 691.0,419.9 692.0,420.0 693.0,422.1 694.0,425.3 695.0,428.6 696.0,432.0 697.0,435.8 698.0,439.9 699.0,444.0 700.0,448.1 701.0,452.1 702.0,456.2 703.0,460.3 704.0,464.4 705.0,468.4 706.0,472.3 707.0,476.0 708.0,479.7 709.0,483.4 710.0,486.8 711.0,490.0 712.0,492.8 713.0,495.0 714.0,497.1 715.0,499.1 716.0,500.8 717.0,502.0 718.0,502.6 719.0,502.1 720.0,500.6 721.0,498.5 722.0,496.5 723.0,494.8 724.0,493.8 725.0,493.1 726.0,493.1 727.0,493.7 728.0,494.9 729.0,496.6 730.0,498.5 731.0,500.8 732.0,503.1 733.0,505.5 734.0,507.9 735.0,510.0 736.0,512.0 737.0,513.6 738.0,514.7 739.0,515.4 740.0,515.9 741.0,516.3 742.0,516.6 743.0,516.9 744.0,517.2 745.0,517.5 746.0,518.0 747.0,518.5 748.0,519.1 749.0,519.9 750.0,520.8 751.0,521.8 752.0,522.8 753.0,523.9 754.0,524.9 755.0,525.9 756.0,526.9 757.0,527.8 758.0,528.6 759.0,529.3 760.0,529.8 761.0,530.1 762.0,530.2 763.0,530.2 764.0,530.2 765.0,530.1 766.0,530.1 767.0,530.0 768.0,529.9 769.0,529.9 770.0,529.8 771.0,529.7 772.0,529.6 773.0,529.6 774.0,529.5 775.0,529.4 776.0,529.4 777.0,529.4 778.0,529.4 779.0,529.4 780.0,529.5 781.0,529.6 782.0,529.8 783.0,530.0 784.0,530.1 785.0,530.3 786.0,530.5 787.0,530.7 788.0,530.8 789.0,530.9 790.0,531.0 791.0,531.0 792.0,530.7 793.0,529.6 794.0,527.7 795.0,525.2 796.0,522.4 797.0,519.2 798.0,514.9 799.0,508.0 800.0,500.0 801.0,492.3 802.0,486.6 803.0,484.4 804.0,486.2 805.0,490.8 806.0,497.1 807.0,504.0 808.0,510.4 809.0,515.1 810.0,518.8 811.0,522.4 812.0,525.8 813.0,529.0 814.0,531.8 815.0,534.3 816.0,536.4 817.0,538.0 818.0,539.5 819.0,541.0 820.0,542.4 821.0,543.7 822.0,544.9 823.0,546.0 824.0,546.9 825.0,547.7 826.0,548.3 827.0,548.7 828.0,548.9 829.0,548.7 830.0,547.5 831.0,545.5 832.0,543.1 833.0,540.5 834.0,538.2 835.0,536.1 836.0,533.6 837.0,531.0 838.0,528.7 839.0,527.0 840.0,526.1 841.0,527.0 842.0,530.2 843.0,534.7 844.0,539.5 845.0,543.7 846.0,546.2 847.0,546.8 848.0,547.2 849.0,547.4 850.0,547.6 851.0,547.8 852.0,548.1 853.0,548.3 854.0,548.5 855.0,548.8 856.0,549.0 857.0,549.2 858.0,549.4 859.0,549.7 860.0,549.9 861.0,550.2 862.0,550.6 863.0,551.0 864.0,551.6 865.0,552.8 866.0,554.5 867.0,556.4 868.0,558.4 869.0,560.3 870.0,561.9 871.0,563.0 872.0,563.7 873.0,564.3 874.0,564.8 875.0,565.3 876.0,565.7 877.0,566.0 878.0,566.2 879.0,566.3 880.0,566.3 881.0,566.2 882.0,566.1 883.0,565.9 884.0,565.7 885.0,565.4 886.0,565.2 887.0,564.9 888.0,564.6 889.0,564.2 890.0,563.9 891.0,563.6 892.0,563.2 893.0,562.9 894.0,562.6 895.0,562.3 896.0,562.0 897.0,561.8 898.0,561.5 899.0,561.3 900.0,561.2 901.0,561.1 902.0,561.0 903.0,561.0 904.0,561.0 905.0,561.0 906.0,561.0 907.0,561.0 908.0,561.0 909.0,560.9 910.0,560.9 911.0,560.9 912.0,560.9 913.0,560.9 914.0,560.9 915.0,560.9 916.0,561.0 917.0,561.1 918.0,561.3 919.0,561.6 920.0,562.0 921.0,562.4 922.0,562.8 923.0,563.2 924.0,563.6 925.0,564.0 926.0,564.3 927.0,564.6 928.0,564.9 929.0,565.2 930.0,565.5 931.0,565.8 932.0,566.1 933.0,566.4 934.0,566.6 935.0,566.9 936.0,567.1 937.0,567.4 938.0,567.5 939.0,567.7 940.0,567.8 941.0,567.9 942.0,567.9 943.0,567.8 944.0,567.7 945.0,567.4 946.0,567.2 947.0,566.8 948.0,566.4 949.0,566.0 950.0,565.6 951.0,565.1 952.0,564.7 953.0,564.2 954.0,563.8 955.0,563.3 956.0,562.9 957.0,562.6 958.0,562.2 959.0,562.0 960.0,561.8 961.0,561.7 962.0,561.6 963.0,561.7 964.0,562.0 965.0,562.4 966.0,562.8 967.0,563.3 968.0,563.8 969.0,564.3 970.0,564.8 971.0,565.1 972.0,565.3 973.0,565.4 974.0,565.2 975.0,564.8 976.0,564.1 977.0,563.3 978.0,562.2 979.0,561.1 980.0,559.8 981.0,558.4 982.0,556.9" fill="none" stroke="#000" stroke-width="2.7" stroke-linejoin="round"/>
<polyline points="174.0,575.5 175.0,575.6 176.0,575.7 177.0,575.7 178.0,575.8 179.0,575.9 180.0,576.0 181.0,576.0 182.0,576.1 183.0,576.1 184.0,576.2 185.0,576.2 186.0,576.3 187.0,576.3 188.0,576.3 189.0,576.4 190.0,576.4 191.0,576.4 192.0,576.5 193.0,576.5 194.0,576.5 195.0,576.5 196.0,576.5 197.0,576.6 198.0,576.6 199.0,576.6 200.0,576.6 201.0,576.6 202.0,576.6 203.0,576.6 204.0,576.6 205.0,576.6 206.0,576.6 207.0,576.6 208.0,576.5 209.0,576.5 210.0,576.4 211.0,576.4 212.0,576.3 213.0,576.2 214.0,576.1 215.0,576.1 216.0,576.0 217.0,575.9 218.0,575.8 219.0,575.7 220.0,575.5 221.0,575.4 222.0,575.3 223.0,575.2 224.0,575.1 225.0,575.0 226.0,575.0 227.0,574.9 228.0,574.8 229.0,574.7 230.0,574.7 231.0,574.6 232.0,574.6 233.0,574.5 234.0,574.5 235.0,574.5 236.0,574.5 237.0,574.5 238.0,574.6 239.0,574.7 240.0,574.7 241.0,574.8 242.0,574.9 243.0,575.0 244.0,575.1 245.0,575.2 246.0,575.4 247.0,575.5 248.0,575.6 249.0,575.7 250.0,575.8 251.0,575.8 252.0,575.9 253.0,576.0 254.0,576.0 255.0,576.0 256.0,576.0 257.0,576.0 258.0,575.9 259.0,575.9 260.0,575.9 261.0,575.8 262.0,575.7 263.0,575.7 264.0,575.6 265.0,575.5 266.0,575.4 267.0,575.3 268.0,575.2 269.0,575.1 270.0,575.0 271.0,574.9 272.0,574.8 273.0,574.7 274.0,574.6 275.0,574.5 276.0,574.4 277.0,574.3 278.0,574.2 279.0,574.1 280.0,573.9 281.0,573.8 282.0,573.7 283.0,573.6 284.0,573.4 285.0,573.3 286.0,573.1 287.0,573.0 288.0,572.8 289.0,572.7 290.0,572.5 291.0,572.4 292.0,572.2 293.0,572.0 294.0,571.9 295.0,571.7 296.0,571.5 297.0,571.4 298.0,571.2 299.0,571.0 300.0,570.8 301.0,570.6 302.0,570.5 303.0,570.3 304.0,570.1 305.0,569.9 306.0,569.7 307.0,569.4 308.0,569.2 309.0,568.9 310.0,568.6 311.0,568.4 312.0,568.1 313.0,567.8 314.0,567.6 315.0,567.3 316.0,567.1 317.0,566.8 318.0,566.6 319.0,566.4 320.0,566.2 321.0,566.1 322.0,566.0 323.0,565.9 324.0,565.8 325.0,565.7 326.0,565.6 327.0,565.5 328.0,565.4 329.0,565.4 330.0,565.3 331.0,565.2 332.0,565.2 333.0,565.1 334.0,565.0 335.0,564.9 336.0,564.8 337.0,564.6 338.0,564.5 339.0,564.3 340.0,564.1 341.0,563.7 342.0,563.3 343.0,562.8 344.0,562.3 345.0,561.7 346.0,561.1 347.0,560.5 348.0,559.8 349.0,559.2 350.0,558.7 351.0,558.1 352.0,557.6 353.0,557.0 354.0,556.4 355.0,555.9 356.0,555.3 357.0,554.7 358.0,554.1 359.0,553.5 360.0,552.8 361.0,552.2 362.0,551.5 363.0,550.8 364.0,550.2 365.0,549.5 366.0,548.8 367.0,548.1 368.0,547.4 369.0,546.6 370.0,545.8 371.0,544.9 372.0,544.0 373.0,543.0 374.0,541.9 375.0,540.6 376.0,539.2 377.0,537.6 378.0,535.9 379.0,533.9 380.0,531.8 381.0,529.1 382.0,525.9 383.0,522.6 384.0,519.3 385.0,516.4 386.0,514.1 387.0,512.0 388.0,510.1 389.0,508.3 390.0,506.6 391.0,504.9 392.0,503.1 393.0,501.3 394.0,499.6 395.0,497.9 396.0,496.4 397.0,495.0 398.0,493.9 399.0,492.8 400.0,491.8 401.0,490.8 402.0,490.0 403.0,489.4 404.0,489.0 405.0,488.6 406.0,488.3 407.0,488.1 408.0,488.2 409.0,489.0 410.0,490.3 411.0,491.4 412.0,491.4 413.0,489.8 414.0,487.0 415.0,483.6 416.0,480.2 417.0,476.0 418.0,471.3 419.0,466.5 420.0,462.1 421.0,457.4 422.0,452.9 423.0,449.3 424.0,447.2 425.0,445.5 426.0,444.0 427.0,442.8 428.0,441.9 429.0,441.5 430.0,441.5 431.0,442.2 432.0,443.4 433.0,445.1 434.0,446.9 435.0,448.9 436.0,451.1 437.0,454.4 438.0,458.4 439.0,462.4 440.0,465.7 441.0,467.5 442.0,467.2 443.0,464.5 444.0,460.4 445.0,455.7 446.0,451.3 447.0,448.2 448.0,445.7 449.0,442.6 450.0,436.1 451.0,424.1 452.0,414.6 453.0,406.2 454.0,397.8 455.0,389.7 456.0,382.3 457.0,376.0 458.0,371.1 459.0,368.1 460.0,367.1 461.0,369.3 462.0,374.5 463.0,382.1 464.0,391.3 465.0,401.2 466.0,411.3 467.0,420.8 468.0,432.0 469.0,444.8 470.0,458.0 471.0,470.6 472.0,481.3 473.0,489.3 474.0,496.8 475.0,504.0 476.0,510.2 477.0,514.8 478.0,517.3 479.0,517.2 480.0,515.7 481.0,512.9 482.0,509.2 483.0,504.6 484.0,499.4 485.0,493.8 486.0,488.0 487.0,481.5 488.0,472.6 489.0,461.9 490.0,450.5 491.0,439.1 492.0,428.7 493.0,418.1 494.0,406.2 495.0,394.7 496.0,385.5 497.0,380.3 498.0,380.8 499.0,385.7 500.0,392.9 501.0,400.0 502.0,407.5 503.0,415.1 504.0,420.4 505.0,424.6 506.0,425.9 507.0,422.8 508.0,417.6 509.0,410.9 510.0,400.8 511.0,391.9 512.0,389.4 513.0,396.7 514.0,409.2 515.0,420.0 516.0,428.5 517.0,436.5 518.0,441.5 519.0,441.9 520.0,441.6 521.0,441.1 522.0,440.4 523.0,439.5 524.0,438.6 525.0,437.6 526.0,436.6 527.0,435.7 528.0,434.9 529.0,434.2 530.0,433.7 531.0,433.5 532.0,433.5 533.0,433.8 534.0,434.1 535.0,434.6 536.0,435.2 537.0,435.9 538.0,436.6 539.0,437.3 540.0,438.1 541.0,438.8 542.0,439.5 543.0,440.1 544.0,440.6 545.0,441.0 546.0,441.2 547.0,441.3 548.0,441.0 549.0,440.4 550.0,439.5 551.0,438.2 552.0,436.8 553.0,435.2 554.0,433.4 555.0,431.7 556.0,429.9 557.0,428.2 558.0,426.6 559.0,425.1 560.0,423.4 561.0,421.4 562.0,419.4 563.0,417.5 564.0,415.9 565.0,414.7 566.0,414.1 567.0,414.1 568.0,415.0 569.0,416.4 570.0,418.3 571.0,420.5 572.0,422.8 573.0,425.1 574.0,427.3 575.0,429.2 576.0,431.1 577.0,432.9 578.0,434.8 579.0,436.9 580.0,439.3 581.0,442.0 582.0,445.2 583.0,450.3 584.0,457.8 585.0,466.4 586.0,474.6 587.0,481.1 588.0,484.5 589.0,486.2 590.0,487.7 591.0,489.0 592.0,490.2 593.0,491.0 594.0,491.7 595.0,492.0 596.0,492.1 597.0,491.6 598.0,490.6 599.0,489.2 600.0,487.3 601.0,485.1 602.0,482.6 603.0,479.8 604.0,476.5 605.0,470.3 606.0,461.7 607.0,451.5 608.0,440.4 609.0,429.4 610.0,419.0 611.0,410.3 612.0,403.1 613.0,395.5 614.0,388.0 615.0,380.8 616.0,374.3 617.0,369.2 618.0,365.6 619.0,364.2 620.0,365.5 621.0,368.7 622.0,372.0 623.0,375.3 624.0,378.5 625.0,380.0 626.0,379.3 627.0,377.7 628.0,376.0 629.0,374.4 630.0,372.4 631.0,370.0 632.0,366.3 633.0,361.3 634.0,356.0 635.0,351.0 636.0,345.7 637.0,339.0 638.0,329.0 639.0,316.0 640.0,299.2 641.0,281.1 642.0,266.9 643.0,255.0 644.0,247.4 645.0,241.8 646.0,240.1 647.0,242.4 648.0,246.0 649.0,249.8 650.0,254.1 651.0,258.6 652.0,263.3 653.0,268.2 654.0,273.3 655.0,278.9 656.0,284.5 657.0,290.3 658.0,297.1 659.0,305.5 660.0,319.5 661.0,336.3 662.0,348.2 663.0,357.2 664.0,365.0 665.0,372.6 666.0,381.3 667.0,391.1 668.0,399.4 669.0,403.6 670.0,404.6 671.0,405.2 672.0,405.5 673.0,405.6 674.0,405.7 675.0,405.8 676.0,405.9 677.0,406.6 678.0,411.4 679.0,417.4 680.0,420.3 681.0,420.1 682.0,419.7 683.0,419.2 684.0,418.6 685.0,418.0 686.0,417.4 687.0,416.6 688.0,415.8 689.0,415.0 690.0,414.4 691.0,414.0 692.0,414.1 693.0,416.3 694.0,419.7 695.0,423.0 696.0,426.6 697.0,430.5 698.0,434.7 699.0,439.0 700.0,443.2 701.0,447.3 702.0,451.5 703.0,455.8 704.0,460.0 705.0,464.2 706.0,468.1 707.0,471.9 708.0,475.7 709.0,479.5 710.0,483.1 711.0,486.5 712.0,489.4 713.0,491.7 714.0,493.9 715.0,496.0 716.0,497.9 717.0,499.2 718.0,499.7 719.0,499.2 720.0,497.6 721.0,495.5 722.0,493.4 723.0,491.7 724.0,490.8 725.0,490.1 726.0,490.1 727.0,490.7 728.0,491.9 729.0,493.6 730.0,495.6 731.0,497.9 732.0,500.3 733.0,502.8 734.0,505.2 735.0,507.5 736.0,509.5 737.0,511.1 738.0,512.3 739.0,513.0 740.0,513.5 741.0,513.9 742.0,514.2 743.0,514.5 744.0,514.8 745.0,515.1 746.0,515.5 747.0,516.0 748.0,516.7 749.0,517.5 750.0,518.5 751.0,519.5 752.0,520.6 753.0,521.7 754.0,522.8 755.0,523.9 756.0,524.9 757.0,525.9 758.0,526.7 759.0,527.4 760.0,527.9 761.0,528.3 762.0,528.4 763.0,528.4 764.0,528.4 765.0,528.3 766.0,528.3 767.0,528.2 768.0,528.1 769.0,528.0 770.0,527.9 771.0,527.9 772.0,527.8 773.0,527.7 774.0,527.6 775.0,527.6 776.0,527.5 777.0,527.5 778.0,527.5 779.0,527.5 780.0,527.6 781.0,527.8 782.0,527.9 783.0,528.1 784.0,528.3 785.0,528.6 786.0,528.8 787.0,529.0 788.0,529.1 789.0,529.3 790.0,529.4 791.0,529.4 792.0,529.1 793.0,528.0 794.0,526.0 795.0,523.4 796.0,520.5 797.0,517.3 798.0,513.0 799.0,505.9 800.0,497.7 801.0,489.8 802.0,483.9 803.0,481.6 804.0,483.4 805.0,488.2 806.0,494.7 807.0,501.8 808.0,508.3 809.0,513.2 810.0,517.0 811.0,520.7 812.0,524.2 813.0,527.5 814.0,530.4 815.0,532.9 816.0,535.1 817.0,536.8 818.0,538.3 819.0,539.8 820.0,541.2 821.0,542.6 822.0,543.8 823.0,544.9 824.0,545.9 825.0,546.7 826.0,547.3 827.0,547.8 828.0,548.0 829.0,547.8 830.0,546.5 831.0,544.5 832.0,542.0 833.0,539.3 834.0,536.9 835.0,534.8 836.0,532.2 837.0,529.6 838.0,527.2 839.0,525.4 840.0,524.5 841.0,525.4 842.0,528.7 843.0,533.4 844.0,538.4 845.0,542.7 846.0,545.3 847.0,545.9 848.0,546.2 849.0,546.5 850.0,546.7 851.0,546.9 852.0,547.1 853.0,547.3 854.0,547.6 855.0,547.8 856.0,548.0 857.0,548.2 858.0,548.4 859.0,548.7 860.0,549.0 861.0,549.3 862.0,549.7 863.0,550.1 864.0,550.7 865.0,552.0 866.0,553.7 867.0,555.7 868.0,557.8 869.0,559.7 870.0,561.4 871.0,562.6 872.0,563.2 873.0,563.8 874.0,564.4 875.0,564.9 876.0,565.3 877.0,565.6 878.0,565.8 879.0,565.9 880.0,565.9 881.0,565.8 882.0,565.7 883.0,565.5 884.0,565.3 885.0,565.0 886.0,564.8 887.0,564.5 888.0,564.2 889.0,563.8 890.0,563.5 891.0,563.1 892.0,562.8 893.0,562.4 894.0,562.1 895.0,561.8 896.0,561.5 897.0,561.3 898.0,561.0 899.0,560.8 900.0,560.7 901.0,560.6 902.0,560.5 903.0,560.5 904.0,560.5 905.0,560.5 906.0,560.5 907.0,560.5 908.0,560.5 909.0,560.5 910.0,560.5 911.0,560.5 912.0,560.5 913.0,560.5 914.0,560.5 915.0,560.5 916.0,560.6 917.0,560.7 918.0,560.9 919.0,561.2 920.0,561.6 921.0,561.9 922.0,562.4 923.0,562.8 924.0,563.2 925.0,563.6 926.0,563.9 927.0,564.3 928.0,564.5 929.0,564.8 930.0,565.1 931.0,565.4 932.0,565.7 933.0,566.0 934.0,566.3 935.0,566.5 936.0,566.8 937.0,567.0 938.0,567.2 939.0,567.3 940.0,567.4 941.0,567.5 942.0,567.5 943.0,567.4 944.0,567.3 945.0,567.0 946.0,566.8 947.0,566.4 948.0,566.0 949.0,565.6 950.0,565.2 951.0,564.7 952.0,564.3 953.0,563.8 954.0,563.4 955.0,563.0 956.0,562.6 957.0,562.2 958.0,561.9 959.0,561.6 960.0,561.5 961.0,561.3 962.0,561.3 963.0,561.4 964.0,561.7 965.0,562.1 966.0,562.5 967.0,563.1 968.0,563.6 969.0,564.1 970.0,564.6 971.0,564.9 972.0,565.1 973.0,565.2 974.0,565.0 975.0,564.5 976.0,563.8 977.0,562.9 978.0,561.8 979.0,560.5 980.0,559.1 981.0,557.6 982.0,556.0" fill="none" stroke="#000" stroke-width="2.7" stroke-linejoin="round"/>
<rect x="759.2" y="40" width="200.4" height="310.2" fill="#fff" stroke="#000" stroke-width="1.6"/>
<line x1="799.1" x2="799.1" y1="343.5" y2="350" stroke="#000" stroke-width="1.4"/>
<line x1="839.2" x2="839.2" y1="339" y2="350" stroke="#000" stroke-width="1.4"/>
<line x1="879.3" x2="879.3" y1="343.5" y2="350" stroke="#000" stroke-width="1.4"/>
<line x1="919.4" x2="919.4" y1="339" y2="350" stroke="#000" stroke-width="1.4"/>
<text transform="translate(757.5 376.3) scale(1.0 1.1)" font-size="21" text-anchor="middle" >3200</text>
<text transform="translate(837.7 376.3) scale(1.0 1.1)" font-size="21" text-anchor="middle" >3000</text>
<text transform="translate(917.9 376.3) scale(1.0 1.1)" font-size="21" text-anchor="middle" >2800</text>
<text transform="translate(771.3 416.6) scale(1.0 1.1)" font-size="21" text-anchor="start" letter-spacing="0.3">Wavenumber/cm</text>
<rect x="933.1" y="398.8" width="4.399999999999977" height="1.2"/><path transform="translate(938.8 403.3) scale(0.00732 -0.00732)" d="M763,0L583,0L583,1147C540,1106 483,1064 413,1023C343,982 280,951 223,930L223,1104C324,1151 412,1208 487,1274C562,1340 616,1404 647,1466L763,1466Z"/>
<text transform="translate(743 251) rotate(-90) scale(1.0 1.035)" font-size="21" text-anchor="start" >Absorbance</text>
<text transform="translate(770.6 115) scale(1.0 1.035)" font-size="27" text-anchor="start" >3072</text>
<text transform="translate(818.7 148.7) scale(1.0 1.035)" font-size="27" text-anchor="start" >2956</text>
<text transform="translate(867.7 97.4) scale(1.0 1.035)" font-size="27" text-anchor="start" >2740</text>
<polyline points="759.5,200.1 761.5,200.0 763.5,199.4 765.5,200.8 767.5,205.6 769.5,204.9 771.5,201.2 773.5,198.5 775.5,199.3 777.5,202.6 779.5,203.5 781.5,203.0 783.5,203.0 785.5,202.2 787.5,203.1 789.5,205.2 791.5,202.2 793.5,201.3 795.5,199.1 797.5,194.7 799.5,195.6 801.5,196.3 803.5,193.6 805.5,192.2 807.5,185.4 809.5,170.8 811.5,169.1 813.5,174.3 815.5,178.6 817.5,181.1 819.5,183.1 821.5,184.4 823.5,182.6 825.5,178.9 827.5,174.4 829.5,178.1 831.5,182.1 833.5,181.7 835.5,183.3 837.5,183.8 839.5,186.1 841.5,187.3 843.5,187.8 845.5,188.7 847.5,197.8 849.5,205.7 851.5,199.0 853.5,184.8 855.5,170.0 857.5,164.8 859.5,168.5 861.5,173.5 863.5,175.8 865.5,177.0 867.5,177.4 869.5,175.8 871.5,172.2 873.5,170.7 875.5,169.4 877.5,167.8 879.5,166.3 881.5,164.2 883.5,160.3 885.5,155.8 887.5,150.9 889.5,139.6 891.5,130.2 893.5,131.5 895.5,136.2 897.5,141.7 899.5,143.0 901.5,142.0 903.5,142.3 905.5,141.1 907.5,140.9 909.5,138.3 911.5,136.1 913.5,134.4 915.5,132.7 917.5,131.5 919.5,130.0 921.5,128.5 923.5,127.2 925.5,125.4 927.5,123.8 929.5,122.0 931.5,120.0 933.5,117.8 935.5,115.0 937.5,110.5 939.5,106.1 941.5,104.0 943.5,103.2 945.5,104.6 947.5,104.2 949.5,103.6 951.5,102.9 953.5,101.4 955.5,100.6 957.5,100.5" fill="none" stroke="#000" stroke-width="1.4" stroke-linejoin="miter"/>
<polyline points="759.5,234.4 761.5,232.6 763.5,233.0 765.5,235.8 767.5,239.4 769.5,238.3 771.5,238.6 773.5,236.8 775.5,236.3 777.5,235.2 779.5,237.3 781.5,237.5 783.5,235.1 785.5,234.7 787.5,233.8 789.5,237.4 791.5,235.0 793.5,232.2 795.5,227.4 797.5,222.5 799.5,223.1 801.5,222.9 803.5,221.0 805.5,216.9 807.5,206.1 809.5,187.1 811.5,177.1 813.5,186.6 815.5,200.4 817.5,208.8 819.5,208.3 821.5,206.9 823.5,205.8 825.5,203.8 827.5,204.2 829.5,205.1 831.5,205.9 833.5,207.0 835.5,208.9 837.5,209.0 839.5,210.6 841.5,210.7 843.5,212.8 845.5,214.6 847.5,227.0 849.5,238.6 851.5,225.2 853.5,204.0 855.5,190.7 857.5,186.0 859.5,188.6 861.5,192.9 863.5,199.5 865.5,203.6 867.5,204.2 869.5,202.2 871.5,198.4 873.5,195.4 875.5,191.7 877.5,188.4 879.5,185.4 881.5,179.8 883.5,172.6 885.5,164.7 887.5,155.4 889.5,145.3 891.5,136.7 893.5,138.9 895.5,151.7 897.5,157.6 899.5,157.6 901.5,156.6 903.5,156.6 905.5,156.9 907.5,155.8 909.5,152.9 911.5,149.7 913.5,148.3 915.5,146.4 917.5,145.7 919.5,144.1 921.5,143.9 923.5,142.4 925.5,140.7 927.5,139.7 929.5,137.2 931.5,135.2 933.5,132.7 935.5,128.2 937.5,122.4 939.5,117.2 941.5,114.0 943.5,113.1 945.5,114.3 947.5,114.9 949.5,114.3 951.5,114.2 953.5,112.7 955.5,110.8 957.5,109.6" fill="none" stroke="#000" stroke-width="1.4" stroke-linejoin="miter"/>
<polyline points="759.5,262.0 761.5,262.1 763.5,259.7 765.5,262.3 767.5,260.1 769.5,259.3 771.5,259.0 773.5,258.3 775.5,258.0 777.5,257.5 779.5,256.8 781.5,257.5 783.5,256.0 785.5,254.5 787.5,253.9 789.5,253.0 791.5,250.9 793.5,250.9 795.5,251.0 797.5,248.5 799.5,246.9 801.5,246.1 803.5,241.7 805.5,234.7 807.5,206.7 809.5,181.9 811.5,183.2 813.5,198.9 815.5,218.1 817.5,228.3 819.5,228.7 821.5,226.6 823.5,223.2 825.5,222.2 827.5,220.6 829.5,222.9 831.5,223.3 833.5,225.8 835.5,228.2 837.5,231.3 839.5,235.9 841.5,238.9 843.5,243.7 845.5,250.7 847.5,257.6 849.5,262.7 851.5,250.2 853.5,226.7 855.5,209.4 857.5,204.2 859.5,213.4 861.5,218.6 863.5,224.5 865.5,228.8 867.5,230.7 869.5,229.1 871.5,226.6 873.5,221.6 875.5,216.2 877.5,210.3 879.5,203.8 881.5,196.4 883.5,187.2 885.5,177.5 887.5,166.6 889.5,146.6 891.5,131.1 893.5,134.4 895.5,152.3 897.5,163.5 899.5,167.4 901.5,169.4 903.5,170.6 905.5,170.0 907.5,168.7 909.5,165.6 911.5,163.0 913.5,161.9 915.5,160.4 917.5,160.0 919.5,159.2 921.5,158.2 923.5,157.2 925.5,156.1 927.5,153.4 929.5,150.6 931.5,147.5 933.5,143.7 935.5,138.3 937.5,129.8 939.5,122.3 941.5,118.0 943.5,117.1 945.5,120.0 947.5,121.6 949.5,122.9 951.5,122.5 953.5,121.3 955.5,119.5 957.5,117.9" fill="none" stroke="#000" stroke-width="1.8" stroke-linejoin="miter"/>
<polyline points="759.5,265.2 761.5,265.7 763.5,264.1 765.5,264.3 767.5,265.9 769.5,262.2 771.5,263.4 773.5,261.7 775.5,260.1 777.5,260.4 779.5,260.8 781.5,261.0 783.5,259.7 785.5,258.4 787.5,256.4 789.5,256.8 791.5,254.9 793.5,254.6 795.5,254.8 797.5,250.2 799.5,250.7 801.5,249.3 803.5,244.8 805.5,237.1 807.5,210.1 809.5,185.3 811.5,185.8 813.5,202.0 815.5,218.8 817.5,229.7 819.5,229.7 821.5,229.1 823.5,226.3 825.5,224.4 827.5,223.9 829.5,225.9 831.5,227.1 833.5,227.6 835.5,230.7 837.5,233.4 839.5,236.6 841.5,240.4 843.5,244.2 845.5,251.4 847.5,259.6 849.5,263.6 851.5,250.7 853.5,229.2 855.5,211.2 857.5,206.1 859.5,214.5 861.5,220.4 863.5,226.1 865.5,230.2 867.5,232.9 869.5,231.6 871.5,227.9 873.5,223.4 875.5,217.0 877.5,211.2 879.5,204.8 881.5,197.2 883.5,188.6 885.5,179.1 887.5,168.2 889.5,148.2 891.5,133.0 893.5,136.5 895.5,154.2 897.5,165.6 899.5,168.7 901.5,170.4 903.5,172.1 905.5,171.6 907.5,169.9 909.5,166.5 911.5,163.8 913.5,162.2 915.5,161.3 917.5,160.6 919.5,160.4 921.5,159.7 923.5,158.0 925.5,156.6 927.5,155.0 929.5,151.7 931.5,148.4 933.5,145.1 935.5,139.1 937.5,131.3 939.5,124.0 941.5,119.3 943.5,118.8 945.5,120.7 947.5,122.6 949.5,123.6 951.5,122.8 953.5,122.1 955.5,120.2 957.5,118.1" fill="none" stroke="#000" stroke-width="1.8" stroke-linejoin="miter"/>
<polyline points="759.5,269.1 761.5,269.2 763.5,267.9 765.5,269.1 767.5,267.1 769.5,267.6 771.5,265.1 773.5,264.1 775.5,264.3 777.5,264.2 779.5,263.1 781.5,263.4 783.5,261.9 785.5,261.9 787.5,261.5 789.5,261.4 791.5,259.5 793.5,258.8 795.5,257.5 797.5,253.4 799.5,253.6 801.5,251.0 803.5,245.9 805.5,239.2 807.5,212.6 809.5,187.5 811.5,189.2 813.5,203.9 815.5,221.3 817.5,231.2 819.5,231.4 821.5,230.0 823.5,228.2 825.5,227.3 827.5,226.6 829.5,227.7 831.5,229.3 833.5,231.0 835.5,233.0 837.5,236.0 839.5,238.9 841.5,241.9 843.5,246.2 845.5,251.7 847.5,259.6 849.5,264.6 851.5,253.3 853.5,231.6 855.5,213.6 857.5,206.8 859.5,215.7 861.5,221.9 863.5,227.9 865.5,232.3 867.5,234.9 869.5,233.3 871.5,229.3 873.5,224.3 875.5,217.6 877.5,211.6 879.5,205.7 881.5,198.3 883.5,189.3 885.5,180.3 887.5,169.4 889.5,150.4 891.5,134.6 893.5,138.2 895.5,156.8 897.5,167.6 899.5,170.5 901.5,171.6 903.5,173.1 905.5,172.3 907.5,171.1 909.5,167.8 911.5,164.8 913.5,163.8 915.5,162.8 917.5,162.2 919.5,160.8 921.5,160.7 923.5,159.6 925.5,157.7 927.5,155.7 929.5,153.0 931.5,149.6 933.5,146.8 935.5,140.9 937.5,133.0 939.5,125.3 941.5,120.8 943.5,119.8 945.5,122.0 947.5,123.5 949.5,124.3 951.5,123.5 953.5,122.4 955.5,120.4 957.5,118.8" fill="none" stroke="#000" stroke-width="1.8" stroke-linejoin="miter"/>
<polyline points="759.5,272.3 761.5,272.1 763.5,271.5 765.5,271.7 767.5,272.6 769.5,269.4 771.5,268.4 773.5,268.0 775.5,267.5 777.5,267.4 779.5,268.4 781.5,267.9 783.5,264.8 785.5,264.5 787.5,264.8 789.5,265.7 791.5,260.9 793.5,262.2 795.5,260.2 797.5,257.9 799.5,256.6 801.5,254.7 803.5,249.2 805.5,240.1 807.5,214.6 809.5,189.9 811.5,192.2 813.5,205.3 815.5,222.1 817.5,232.8 819.5,232.4 821.5,232.5 823.5,231.1 825.5,230.4 827.5,230.4 829.5,231.1 831.5,231.8 833.5,233.0 835.5,235.5 837.5,236.9 839.5,240.6 841.5,242.5 843.5,246.2 845.5,253.8 847.5,261.3 849.5,264.7 851.5,254.1 853.5,235.0 855.5,215.4 857.5,208.6 859.5,217.5 861.5,224.2 863.5,229.3 865.5,234.8 867.5,236.6 869.5,235.0 871.5,231.6 873.5,225.5 875.5,218.9 877.5,212.8 879.5,206.4 881.5,199.6 883.5,191.0 885.5,181.6 887.5,171.1 889.5,151.7 891.5,136.5 893.5,140.0 895.5,159.2 897.5,170.2 899.5,172.5 901.5,172.8 903.5,173.7 905.5,173.4 907.5,171.6 909.5,168.8 911.5,166.1 913.5,164.8 915.5,163.5 917.5,162.8 919.5,162.0 921.5,161.2 923.5,160.4 925.5,158.9 927.5,157.2 929.5,154.3 931.5,150.8 933.5,147.7 935.5,142.4 937.5,134.2 939.5,126.5 941.5,122.4 943.5,121.4 945.5,123.5 947.5,124.2 949.5,124.9 951.5,124.5 953.5,123.6 955.5,121.1 957.5,119.4" fill="none" stroke="#000" stroke-width="1.8" stroke-linejoin="miter"/>
<polyline points="759.5,274.0 761.5,277.2 763.5,274.2 765.5,275.4 767.5,275.4 769.5,274.5 771.5,272.8 773.5,270.6 775.5,271.1 777.5,270.3 779.5,270.8 781.5,271.3 783.5,268.3 785.5,269.1 787.5,267.8 789.5,267.8 791.5,266.4 793.5,264.1 795.5,264.2 797.5,261.6 799.5,258.9 801.5,257.1 803.5,250.7 805.5,242.9 807.5,217.0 809.5,192.6 811.5,194.2 813.5,208.1 815.5,224.1 817.5,233.5 819.5,234.2 821.5,234.9 823.5,233.0 825.5,233.1 827.5,232.4 829.5,234.0 831.5,235.1 833.5,236.0 835.5,238.2 837.5,239.9 839.5,242.3 841.5,244.8 843.5,248.4 845.5,254.0 847.5,262.2 849.5,265.9 851.5,255.6 853.5,236.6 855.5,217.6 857.5,210.4 859.5,218.6 861.5,225.6 863.5,231.2 865.5,236.2 867.5,238.7 869.5,237.4 871.5,232.7 873.5,226.8 875.5,220.0 877.5,213.8 879.5,207.6 881.5,200.2 883.5,192.1 885.5,183.6 887.5,173.4 889.5,153.7 891.5,138.4 893.5,142.0 895.5,161.2 897.5,171.9 899.5,174.0 901.5,174.6 903.5,174.9 905.5,174.7 907.5,172.5 909.5,169.9 911.5,167.1 913.5,165.6 915.5,164.4 917.5,164.0 919.5,163.2 921.5,162.6 923.5,161.5 925.5,160.0 927.5,158.2 929.5,155.3 931.5,152.6 933.5,149.2 935.5,143.7 937.5,135.4 939.5,128.0 941.5,124.2 943.5,122.8 945.5,124.0 947.5,124.9 949.5,125.6 951.5,125.2 953.5,124.2 955.5,122.2 957.5,120.1" fill="none" stroke="#000" stroke-width="1.8" stroke-linejoin="miter"/>
<polyline points="759.5,278.0 761.5,278.8 763.5,278.0 765.5,279.1 767.5,279.9 769.5,276.1 771.5,277.4 773.5,275.7 775.5,275.4 777.5,274.1 779.5,273.8 781.5,275.2 783.5,273.3 785.5,271.2 787.5,270.9 789.5,270.8 791.5,270.4 793.5,269.3 795.5,269.2 797.5,264.6 799.5,262.3 801.5,260.0 803.5,253.3 805.5,245.2 807.5,218.8 809.5,195.6 811.5,197.7 813.5,210.2 815.5,226.1 817.5,235.4 819.5,235.6 821.5,235.8 823.5,234.9 825.5,235.6 827.5,236.1 829.5,236.6 831.5,237.8 833.5,239.1 835.5,240.1 837.5,242.1 839.5,244.1 841.5,245.8 843.5,249.2 845.5,254.6 847.5,262.7 849.5,267.1 851.5,257.1 853.5,238.9 855.5,218.7 857.5,211.4 859.5,220.3 861.5,227.4 863.5,233.3 865.5,238.2 867.5,240.5 869.5,239.0 871.5,234.8 873.5,228.7 875.5,220.7 877.5,214.3 879.5,208.3 881.5,201.7 883.5,193.1 885.5,184.9 887.5,174.8 889.5,155.2 891.5,139.9 893.5,144.4 895.5,163.5 897.5,174.2 899.5,175.1 901.5,175.5 903.5,176.3 905.5,175.6 907.5,173.6 909.5,170.8 911.5,168.2 913.5,167.0 915.5,165.7 917.5,164.9 919.5,164.4 921.5,163.2 923.5,162.7 925.5,161.0 927.5,158.9 929.5,156.7 931.5,153.4 933.5,150.3 935.5,144.8 937.5,137.2 939.5,129.5 941.5,125.3 943.5,124.2 945.5,125.5 947.5,125.4 949.5,126.1 951.5,126.0 953.5,124.3 955.5,122.3 957.5,120.8" fill="none" stroke="#000" stroke-width="1.8" stroke-linejoin="miter"/>
<polyline points="759.5,282.2 761.5,281.9 763.5,282.1 765.5,282.6 767.5,282.6 769.5,280.2 771.5,280.5 773.5,278.2 775.5,277.3 777.5,277.5 779.5,278.2 781.5,277.8 783.5,276.8 785.5,275.2 787.5,273.7 789.5,274.7 791.5,272.9 793.5,271.5 795.5,270.4 797.5,267.7 799.5,264.9 801.5,261.4 803.5,255.8 805.5,246.5 807.5,221.0 809.5,198.4 811.5,199.9 813.5,212.0 815.5,226.6 817.5,236.4 819.5,237.1 821.5,237.7 823.5,237.3 825.5,238.2 827.5,237.8 829.5,238.9 831.5,240.5 833.5,241.0 835.5,241.9 837.5,242.8 839.5,245.2 841.5,247.5 843.5,249.6 845.5,256.1 847.5,263.2 849.5,267.9 851.5,258.7 853.5,241.5 855.5,221.1 857.5,213.0 859.5,221.5 861.5,228.4 863.5,235.4 865.5,240.2 867.5,242.4 869.5,241.0 871.5,235.9 873.5,229.6 875.5,222.2 877.5,214.8 879.5,209.3 881.5,202.5 883.5,194.6 885.5,186.2 887.5,175.9 889.5,156.8 891.5,141.5 893.5,145.5 895.5,165.9 897.5,175.8 899.5,177.1 901.5,176.8 903.5,177.0 905.5,176.2 907.5,174.4 909.5,171.5 911.5,168.7 913.5,167.8 915.5,166.6 917.5,166.0 919.5,164.8 921.5,164.2 923.5,163.6 925.5,162.3 927.5,159.7 929.5,157.7 931.5,154.7 933.5,151.4 935.5,146.3 937.5,138.2 939.5,131.0 941.5,127.0 943.5,125.8 945.5,126.1 947.5,126.4 949.5,126.2 951.5,126.5 953.5,125.1 955.5,123.0 957.5,120.9" fill="none" stroke="#000" stroke-width="1.8" stroke-linejoin="miter"/>
<polyline points="759.5,283.5 761.5,285.8 763.5,284.2 765.5,285.4 767.5,284.2 769.5,282.9 771.5,281.6 773.5,280.9 775.5,281.9 777.5,280.3 779.5,281.5 781.5,279.7 783.5,279.9 785.5,277.5 787.5,276.4 789.5,278.5 791.5,276.1 793.5,273.6 795.5,272.9 797.5,268.8 799.5,267.4 801.5,264.6 803.5,258.2 805.5,248.2 807.5,222.6 809.5,200.5 811.5,201.8 813.5,213.6 815.5,228.4 817.5,238.1 819.5,238.0 821.5,239.1 823.5,240.0 825.5,239.6 827.5,240.0 829.5,241.4 831.5,242.8 833.5,242.2 835.5,243.5 837.5,245.0 839.5,246.8 841.5,248.4 843.5,250.7 845.5,257.3 847.5,263.7 849.5,268.2 851.5,259.8 853.5,243.7 855.5,222.2 857.5,213.8 859.5,223.5 861.5,229.5 863.5,236.3 865.5,241.8 867.5,243.8 869.5,242.3 871.5,237.6 873.5,230.4 875.5,222.3 877.5,215.8 879.5,209.5 881.5,202.6 883.5,195.3 885.5,187.7 887.5,177.8 889.5,158.4 891.5,142.4 893.5,147.3 895.5,167.2 897.5,178.0 899.5,177.8 901.5,177.9 903.5,177.9 905.5,177.2 907.5,175.4 909.5,172.7 911.5,170.0 913.5,168.4 915.5,167.6 917.5,166.3 919.5,165.7 921.5,165.4 923.5,164.0 925.5,163.2 927.5,161.0 929.5,158.3 931.5,156.0 933.5,152.8 935.5,147.4 937.5,139.6 939.5,132.6 941.5,127.7 943.5,127.0 945.5,127.4 947.5,126.8 949.5,126.9 951.5,127.1 953.5,125.8 955.5,123.4 957.5,121.6" fill="none" stroke="#000" stroke-width="1.8" stroke-linejoin="miter"/>
<rect x="174.65" y="790.95" width="810.45" height="604.1" fill="none" stroke="#000" stroke-width="3.2"/>
<line x1="174.8" x2="194.3" y1="1216.6" y2="1216.6" stroke="#000" stroke-width="3"/>
<line x1="174.8" x2="194.3" y1="1075.0" y2="1075.0" stroke="#000" stroke-width="3"/>
<line x1="174.8" x2="194.3" y1="933.3" y2="933.3" stroke="#000" stroke-width="3"/>
<text transform="translate(164.8 1371.5) scale(1.0 1.035)" font-size="37" text-anchor="end" >0.0</text>
<text transform="translate(164.8 1229.2) scale(1.0 1.035)" font-size="37" text-anchor="end" >0.2</text>
<text transform="translate(164.8 1086.8) scale(1.0 1.035)" font-size="37" text-anchor="end" >0.4</text>
<text transform="translate(164.8 944.5) scale(1.0 1.035)" font-size="37" text-anchor="end" >0.6</text>
<text transform="translate(164.8 802.1) scale(1.0 1.035)" font-size="37" text-anchor="end" >0.8</text>
<line x1="336.6" x2="336.6" y1="1377" y2="1394" stroke="#000" stroke-width="3"/>
<line x1="498.7" x2="498.7" y1="1377" y2="1394" stroke="#000" stroke-width="3"/>
<line x1="660.8" x2="660.8" y1="1377" y2="1394" stroke="#000" stroke-width="3"/>
<line x1="822.9" x2="822.9" y1="1377" y2="1394" stroke="#000" stroke-width="3"/>
<text transform="translate(173.5 1439) scale(1.0 1.035)" font-size="37" text-anchor="middle" >2000</text>
<g transform="translate(335.6 1439) scale(1.0 1.035)"><text font-size="37" text-anchor="middle" > 800</text><path transform="translate(-41.16 0) scale(0.01807 -0.01807)" d="M763,0L583,0L583,1147C540,1106 483,1064 413,1023C343,982 280,951 223,930L223,1104C324,1151 412,1208 487,1274C562,1340 616,1404 647,1466L763,1466Z"/></g>
<g transform="translate(497.7 1439) scale(1.0 1.035)"><text font-size="37" text-anchor="middle" > 600</text><path transform="translate(-41.16 0) scale(0.01807 -0.01807)" d="M763,0L583,0L583,1147C540,1106 483,1064 413,1023C343,982 280,951 223,930L223,1104C324,1151 412,1208 487,1274C562,1340 616,1404 647,1466L763,1466Z"/></g>
<g transform="translate(659.8 1439) scale(1.0 1.035)"><text font-size="37" text-anchor="middle" > 400</text><path transform="translate(-41.16 0) scale(0.01807 -0.01807)" d="M763,0L583,0L583,1147C540,1106 483,1064 413,1023C343,982 280,951 223,930L223,1104C324,1151 412,1208 487,1274C562,1340 616,1404 647,1466L763,1466Z"/></g>
<g transform="translate(821.9 1439) scale(1.0 1.035)"><text font-size="37" text-anchor="middle" > 200</text><path transform="translate(-41.16 0) scale(0.01807 -0.01807)" d="M763,0L583,0L583,1147C540,1106 483,1064 413,1023C343,982 280,951 223,930L223,1104C324,1151 412,1208 487,1274C562,1340 616,1404 647,1466L763,1466Z"/></g>
<g transform="translate(984.0 1439) scale(1.0 1.035)"><text font-size="37" text-anchor="middle" > 000</text><path transform="translate(-41.16 0) scale(0.01807 -0.01807)" d="M763,0L583,0L583,1147C540,1106 483,1064 413,1023C343,982 280,951 223,930L223,1104C324,1151 412,1208 487,1274C562,1340 616,1404 647,1466L763,1466Z"/></g>
<text transform="translate(402.5 1505.2) scale(1.0 1.035)" font-size="41" text-anchor="start" >Wavenumber / cm</text>
<rect x="732.4" y="1471.3" width="8.899999999999977" height="1.7"/><path transform="translate(742.2 1478.9) scale(0.01270 -0.01270)" d="M763,0L583,0L583,1147C540,1106 483,1064 413,1023C343,982 280,951 223,930L223,1104C324,1151 412,1208 487,1274C562,1340 616,1404 647,1466L763,1466Z"/>
<text transform="translate(34.6 1198.8) rotate(-90) scale(1.0 1.035)" font-size="40.4" text-anchor="start" >Absorbance</text>
<text transform="translate(217.8 865.3) scale(1.0 0.985)" font-size="40.5" text-anchor="start" >(b)</text>
<g transform="translate(337.0 1140.6) scale(0.96 1.035)"><text font-size="27" text-anchor="start" > 7 6</text><path transform="translate(0.00 0) scale(0.01318 -0.01318)" d="M763,0L583,0L583,1147C540,1106 483,1064 413,1023C343,982 280,951 223,930L223,1104C324,1151 412,1208 487,1274C562,1340 616,1404 647,1466L763,1466Z"/><path transform="translate(30.03 0) scale(0.01318 -0.01318)" d="M763,0L583,0L583,1147C540,1106 483,1064 413,1023C343,982 280,951 223,930L223,1104C324,1151 412,1208 487,1274C562,1340 616,1404 647,1466L763,1466Z"/></g>
<polygon points="554.6,1016.4 535.6,1036.3 545.8,1036.3 545.8,1100 563.75,1100 563.75,1036.3 573.9,1036.3" fill="#000"/>
<polygon points="176.0,1349.0 177.0,1349.0 178.0,1349.0 179.0,1349.0 180.0,1349.0 181.0,1349.0 182.0,1349.0 183.0,1349.0 184.0,1349.0 185.0,1349.0 186.0,1349.0 187.0,1349.0 188.0,1349.0 189.0,1349.0 190.0,1349.0 191.0,1349.0 192.0,1349.0 193.0,1349.0 194.0,1349.0 195.0,1349.0 196.0,1349.0 197.0,1349.0 198.0,1349.0 199.0,1349.0 200.0,1349.0 201.0,1349.0 202.0,1349.0 203.0,1349.0 204.0,1349.0 205.0,1349.0 206.0,1349.0 207.0,1349.0 208.0,1349.0 209.0,1349.0 210.0,1349.0 211.0,1349.0 212.0,1349.0 213.0,1349.0 214.0,1349.0 215.0,1349.0 216.0,1349.0 217.0,1349.0 218.0,1349.0 219.0,1349.0 220.0,1349.0 221.0,1348.9 222.0,1348.9 223.0,1348.9 224.0,1348.9 225.0,1348.9 226.0,1348.9 227.0,1348.8 228.0,1348.8 229.0,1348.8 230.0,1348.8 231.0,1348.8 232.0,1348.7 233.0,1348.7 234.0,1348.7 235.0,1348.7 236.0,1348.6 237.0,1348.6 238.0,1348.6 239.0,1348.5 240.0,1348.5 241.0,1348.5 242.0,1348.4 243.0,1348.4 244.0,1348.4 245.0,1348.3 246.0,1348.3 247.0,1348.3 248.0,1348.2 249.0,1348.2 250.0,1348.2 251.0,1348.1 252.0,1348.1 253.0,1348.0 254.0,1348.0 255.0,1348.0 256.0,1347.9 257.0,1347.8 258.0,1347.8 259.0,1347.7 260.0,1347.6 261.0,1347.6 262.0,1347.5 263.0,1347.4 264.0,1347.3 265.0,1347.2 266.0,1347.1 267.0,1347.0 268.0,1346.8 269.0,1346.7 270.0,1346.6 271.0,1346.5 272.0,1346.3 273.0,1346.2 274.0,1346.0 275.0,1345.9 276.0,1345.7 277.0,1345.6 278.0,1345.4 279.0,1345.3 280.0,1345.1 281.0,1344.9 282.0,1344.8 283.0,1344.6 284.0,1344.4 285.0,1344.3 286.0,1344.1 287.0,1343.9 288.0,1343.7 289.0,1343.6 290.0,1343.4 291.0,1343.2 292.0,1343.0 293.0,1342.8 294.0,1342.7 295.0,1342.5 296.0,1342.3 297.0,1342.1 298.0,1341.9 299.0,1341.7 300.0,1341.5 301.0,1341.3 302.0,1341.0 303.0,1340.8 304.0,1340.5 305.0,1340.3 306.0,1340.0 307.0,1339.7 308.0,1339.5 309.0,1339.2 310.0,1338.9 311.0,1338.6 312.0,1338.3 313.0,1338.1 314.0,1337.8 315.0,1337.5 316.0,1337.3 317.0,1337.0 318.0,1336.7 319.0,1336.5 320.0,1336.2 321.0,1336.0 322.0,1335.8 323.0,1335.6 324.0,1335.4 325.0,1335.2 326.0,1335.0 327.0,1334.8 328.0,1334.5 329.0,1334.3 330.0,1334.0 331.0,1333.7 332.0,1333.3 333.0,1333.0 334.0,1332.6 335.0,1332.1 336.0,1331.7 337.0,1331.2 338.0,1330.7 339.0,1330.2 340.0,1329.6 341.0,1329.1 342.0,1328.5 343.0,1327.9 344.0,1327.2 345.0,1326.6 346.0,1325.9 347.0,1325.2 348.0,1324.5 349.0,1323.8 350.0,1323.0 351.0,1322.2 352.0,1321.4 353.0,1320.5 354.0,1319.6 355.0,1318.6 356.0,1317.5 357.0,1316.4 358.0,1315.3 359.0,1314.1 360.0,1312.9 361.0,1311.6 362.0,1310.3 363.0,1309.0 364.0,1307.5 365.0,1306.1 366.0,1304.6 367.0,1303.0 368.0,1301.3 369.0,1299.4 370.0,1297.4 371.0,1295.3 372.0,1292.8 373.0,1290.2 374.0,1287.1 375.0,1283.3 376.0,1279.0 377.0,1274.3 378.0,1269.3 379.0,1264.2 380.0,1259.0 381.0,1254.0 382.0,1248.8 383.0,1243.3 384.0,1237.7 385.0,1231.9 386.0,1226.2 387.0,1220.6 388.0,1215.1 389.0,1209.9 390.0,1204.6 391.0,1199.2 392.0,1193.8 393.0,1188.7 394.0,1183.9 395.0,1179.7 396.0,1176.1 397.0,1173.2 398.0,1170.3 399.0,1167.5 400.0,1164.9 401.0,1162.5 402.0,1160.5 403.0,1158.9 404.0,1157.8 405.0,1157.3 406.0,1157.6 407.0,1158.9 408.0,1160.8 409.0,1163.2 410.0,1165.9 411.0,1168.5 412.0,1171.0 413.0,1173.8 414.0,1177.2 415.0,1180.5 416.0,1182.9 417.0,1183.7 418.0,1181.7 419.0,1177.5 420.0,1172.4 421.0,1167.7 422.0,1164.8 423.0,1162.6 424.0,1160.6 425.0,1158.8 426.0,1157.4 427.0,1156.6 428.0,1156.5 429.0,1157.3 430.0,1159.1 431.0,1161.5 432.0,1164.4 433.0,1167.5 434.0,1170.7 435.0,1173.6 436.0,1176.2 437.0,1178.8 438.0,1181.6 439.0,1184.5 440.0,1187.3 441.0,1190.1 442.0,1192.9 443.0,1195.4 444.0,1197.8 445.0,1199.9 446.0,1201.9 447.0,1203.9 448.0,1205.9 449.0,1207.8 450.0,1209.5 451.0,1210.8 452.0,1211.7 453.0,1212.0 454.0,1211.3 455.0,1209.3 456.0,1206.5 457.0,1203.1 458.0,1199.7 459.0,1196.4 460.0,1193.7 461.0,1192.0 462.0,1191.6 463.0,1193.7 464.0,1198.2 465.0,1204.2 466.0,1211.1 467.0,1218.1 468.0,1224.3 469.0,1229.0 470.0,1233.7 471.0,1238.5 472.0,1243.1 473.0,1247.1 474.0,1250.2 475.0,1251.9 476.0,1252.0 477.0,1251.3 478.0,1249.9 479.0,1247.9 480.0,1245.4 481.0,1242.6 482.0,1239.5 483.0,1236.1 484.0,1232.6 485.0,1228.7 486.0,1223.2 487.0,1216.6 488.0,1209.1 489.0,1201.2 490.0,1193.4 491.0,1186.0 492.0,1179.4 493.0,1173.0 494.0,1166.0 495.0,1159.2 496.0,1153.3 497.0,1149.2 498.0,1147.6 499.0,1147.8 500.0,1148.2 501.0,1149.0 502.0,1149.8 503.0,1150.8 504.0,1151.8 505.0,1152.7 506.0,1153.6 507.0,1154.5 508.0,1155.7 509.0,1156.7 510.0,1157.6 511.0,1158.2 512.0,1158.3 513.0,1158.2 514.0,1158.1 515.0,1157.9 516.0,1157.7 517.0,1157.3 518.0,1157.0 519.0,1156.6 520.0,1156.1 521.0,1154.8 522.0,1152.7 523.0,1150.2 524.0,1147.7 525.0,1145.5 526.0,1143.9 527.0,1142.5 528.0,1141.1 529.0,1139.8 530.0,1138.6 531.0,1137.7 532.0,1137.0 533.0,1136.6 534.0,1136.6 535.0,1136.8 536.0,1137.2 537.0,1137.6 538.0,1138.2 539.0,1138.9 540.0,1139.6 541.0,1140.3 542.0,1141.2 543.0,1142.5 544.0,1144.3 545.0,1146.3 546.0,1148.4 547.0,1150.5 548.0,1152.3 549.0,1153.8 550.0,1154.8 551.0,1155.2 552.0,1155.2 553.0,1155.1 554.0,1155.0 555.0,1154.9 556.0,1154.8 557.0,1154.6 558.0,1154.4 559.0,1154.1 560.0,1153.3 561.0,1151.8 562.0,1149.7 563.0,1147.3 564.0,1144.9 565.0,1142.5 566.0,1140.4 567.0,1138.7 568.0,1137.8 569.0,1137.6 570.0,1137.7 571.0,1138.0 572.0,1138.4 573.0,1138.9 574.0,1139.6 575.0,1140.3 576.0,1141.2 577.0,1142.1 578.0,1143.3 579.0,1145.4 580.0,1148.5 581.0,1152.3 582.0,1156.7 583.0,1161.6 584.0,1166.8 585.0,1173.3 586.0,1182.3 587.0,1192.0 588.0,1200.4 589.0,1207.5 590.0,1214.8 591.0,1221.8 592.0,1227.7 593.0,1232.1 594.0,1234.3 595.0,1235.1 596.0,1235.8 597.0,1236.2 598.0,1236.3 599.0,1235.9 600.0,1234.9 601.0,1233.3 602.0,1231.3 603.0,1228.8 604.0,1226.0 605.0,1222.9 606.0,1219.5 607.0,1213.9 608.0,1206.2 609.0,1196.7 610.0,1186.0 611.0,1174.8 612.0,1163.2 613.0,1150.5 614.0,1135.9 615.0,1118.9 616.0,1095.7 617.0,1070.0 618.0,1062.1 619.0,1057.1 620.0,1055.5 621.0,1056.4 622.0,1058.5 623.0,1061.3 624.0,1065.0 625.0,1072.0 626.0,1079.3 627.0,1083.2 628.0,1081.5 629.0,1076.6 630.0,1070.4 631.0,1064.6 632.0,1059.3 633.0,1053.8 634.0,1047.7 635.0,1041.0 636.0,1033.0 637.0,1023.6 638.0,1013.3 639.0,1002.6 640.0,991.6 641.0,979.7 642.0,968.0 643.0,957.1 644.0,945.6 645.0,937.4 646.0,935.0 647.0,933.7 648.0,933.5 649.0,935.5 650.0,939.7 651.0,945.1 652.0,953.2 653.0,965.9 654.0,977.4 655.0,985.1 656.0,991.3 657.0,997.2 658.0,1003.6 659.0,1011.7 660.0,1021.8 661.0,1032.9 662.0,1043.6 663.0,1052.8 664.0,1061.6 665.0,1070.1 666.0,1077.4 667.0,1082.5 668.0,1085.5 669.0,1088.0 670.0,1090.0 671.0,1091.4 672.0,1092.1 673.0,1092.6 674.0,1092.9 675.0,1093.1 676.0,1093.4 677.0,1093.9 678.0,1094.9 679.0,1097.8 680.0,1101.6 681.0,1105.2 682.0,1107.6 683.0,1107.8 684.0,1107.3 685.0,1106.3 686.0,1105.2 687.0,1104.0 688.0,1103.0 689.0,1102.3 690.0,1102.1 691.0,1102.8 692.0,1104.2 693.0,1106.2 694.0,1108.5 695.0,1111.1 696.0,1114.6 697.0,1119.3 698.0,1124.4 699.0,1129.4 700.0,1134.6 701.0,1140.1 702.0,1146.1 703.0,1152.8 704.0,1160.2 705.0,1167.9 706.0,1175.7 707.0,1183.1 708.0,1189.8 709.0,1196.3 710.0,1202.7 711.0,1208.8 712.0,1214.5 713.0,1219.6 714.0,1223.8 715.0,1227.6 716.0,1231.1 717.0,1234.4 718.0,1237.2 719.0,1239.5 720.0,1241.2 721.0,1242.7 722.0,1244.2 723.0,1245.5 724.0,1246.6 725.0,1247.6 726.0,1248.3 727.0,1248.7 728.0,1248.8 729.0,1248.3 730.0,1247.3 731.0,1246.1 732.0,1244.9 733.0,1243.8 734.0,1243.1 735.0,1242.9 736.0,1243.8 737.0,1245.4 738.0,1247.7 739.0,1250.5 740.0,1253.4 741.0,1256.4 742.0,1259.2 743.0,1261.5 744.0,1263.4 745.0,1265.0 746.0,1266.6 747.0,1268.1 748.0,1269.6 749.0,1271.0 750.0,1272.3 751.0,1273.6 752.0,1274.8 753.0,1275.9 754.0,1277.0 755.0,1278.1 756.0,1279.3 757.0,1280.4 758.0,1281.4 759.0,1282.5 760.0,1283.5 761.0,1284.6 762.0,1285.5 763.0,1286.4 764.0,1287.3 765.0,1288.1 766.0,1288.8 767.0,1289.4 768.0,1289.9 769.0,1290.4 770.0,1290.7 771.0,1291.0 772.0,1291.2 773.0,1291.5 774.0,1291.7 775.0,1291.8 776.0,1292.0 777.0,1292.2 778.0,1292.3 779.0,1292.5 780.0,1292.7 781.0,1292.9 782.0,1293.1 783.0,1293.4 784.0,1293.7 785.0,1294.2 786.0,1294.7 787.0,1295.3 788.0,1296.0 789.0,1296.7 790.0,1297.4 791.0,1298.0 792.0,1298.7 793.0,1299.2 794.0,1299.7 795.0,1300.1 796.0,1300.4 797.0,1300.5 798.0,1300.0 799.0,1298.1 800.0,1295.3 801.0,1292.1 802.0,1289.1 803.0,1286.8 804.0,1285.6 805.0,1286.3 806.0,1288.8 807.0,1292.5 808.0,1296.9 809.0,1301.3 810.0,1305.2 811.0,1308.0 812.0,1309.7 813.0,1311.2 814.0,1312.5 815.0,1313.7 816.0,1314.7 817.0,1315.7 818.0,1316.5 819.0,1317.2 820.0,1317.9 821.0,1318.6 822.0,1319.3 823.0,1319.9 824.0,1320.5 825.0,1321.0 826.0,1321.4 827.0,1321.7 828.0,1321.9 829.0,1322.0 830.0,1321.4 831.0,1319.7 832.0,1317.2 833.0,1314.3 834.0,1311.1 835.0,1308.0 836.0,1305.2 837.0,1303.0 838.0,1301.7 839.0,1301.7 840.0,1303.7 841.0,1307.2 842.0,1311.6 843.0,1316.1 844.0,1320.0 845.0,1322.5 846.0,1323.2 847.0,1323.6 848.0,1324.0 849.0,1324.3 850.0,1324.5 851.0,1324.7 852.0,1324.8 853.0,1325.0 854.0,1325.1 855.0,1325.2 856.0,1325.3 857.0,1325.5 858.0,1325.6 859.0,1325.8 860.0,1326.0 861.0,1326.2 862.0,1326.5 863.0,1326.9 864.0,1327.5 865.0,1328.5 866.0,1329.7 867.0,1331.2 868.0,1332.9 869.0,1334.6 870.0,1336.4 871.0,1338.2 872.0,1339.9 873.0,1341.4 874.0,1342.7 875.0,1343.7 876.0,1344.3 877.0,1344.5 878.0,1344.6 879.0,1344.7 880.0,1344.8 881.0,1344.9 882.0,1345.0 883.0,1345.1 884.0,1345.1 885.0,1345.2 886.0,1345.2 887.0,1345.3 888.0,1345.3 889.0,1345.4 890.0,1345.4 891.0,1345.4 892.0,1345.4 893.0,1345.4 894.0,1345.3 895.0,1345.0 896.0,1344.7 897.0,1344.4 898.0,1344.0 899.0,1343.7 900.0,1343.3 901.0,1343.0 902.0,1342.7 903.0,1342.6 904.0,1342.5 905.0,1342.5 906.0,1342.6 907.0,1342.8 908.0,1343.0 909.0,1343.3 910.0,1343.6 911.0,1344.0 912.0,1344.3 913.0,1344.7 914.0,1345.1 915.0,1345.4 916.0,1345.8 917.0,1346.2 918.0,1346.5 919.0,1346.8 920.0,1347.1 921.0,1347.5 922.0,1347.8 923.0,1348.2 924.0,1348.5 925.0,1348.9 926.0,1349.3 927.0,1349.6 928.0,1349.9 929.0,1350.2 930.0,1350.5 931.0,1350.8 932.0,1351.0 933.0,1351.2 934.0,1351.4 935.0,1351.6 936.0,1351.7 937.0,1351.9 938.0,1352.0 939.0,1352.2 940.0,1352.3 941.0,1352.5 942.0,1352.6 943.0,1352.7 944.0,1352.8 945.0,1352.9 946.0,1353.0 947.0,1353.1 948.0,1353.1 949.0,1353.2 950.0,1353.2 951.0,1353.2 952.0,1353.1 953.0,1352.9 954.0,1352.6 955.0,1352.2 956.0,1351.7 957.0,1351.2 958.0,1350.7 959.0,1350.2 960.0,1349.7 961.0,1349.2 962.0,1348.9 963.0,1348.6 964.0,1348.4 965.0,1348.4 966.0,1348.5 967.0,1348.6 968.0,1348.7 969.0,1348.9 970.0,1349.1 971.0,1349.3 972.0,1349.5 973.0,1349.7 974.0,1349.9 975.0,1350.0 976.0,1350.2 977.0,1350.3 978.0,1350.3 979.0,1349.7 980.0,1347.2 981.0,1343.2 982.0,1338.6 983.0,1334.0 983.0,1385.0 982.0,1381.4 981.0,1377.8 980.0,1374.5 979.0,1371.4 978.0,1368.9 977.0,1366.9 976.0,1365.6 975.0,1364.5 974.0,1363.4 973.0,1362.4 972.0,1361.5 971.0,1360.7 970.0,1360.0 969.0,1359.4 968.0,1358.9 967.0,1358.5 966.0,1358.2 965.0,1358.1 964.0,1358.2 963.0,1358.7 962.0,1359.6 961.0,1360.7 960.0,1361.8 959.0,1362.9 958.0,1363.6 957.0,1364.0 956.0,1364.0 955.0,1364.0 954.0,1363.9 953.0,1363.8 952.0,1363.7 951.0,1363.6 950.0,1363.5 949.0,1363.4 948.0,1363.2 947.0,1363.0 946.0,1362.9 945.0,1362.7 944.0,1362.5 943.0,1362.3 942.0,1362.1 941.0,1362.0 940.0,1361.8 939.0,1361.5 938.0,1361.2 937.0,1360.9 936.0,1360.6 935.0,1360.2 934.0,1359.9 933.0,1359.5 932.0,1359.1 931.0,1358.7 930.0,1358.3 929.0,1357.9 928.0,1357.5 927.0,1357.1 926.0,1356.7 925.0,1356.3 924.0,1355.9 923.0,1355.6 922.0,1355.3 921.0,1355.0 920.0,1354.7 919.0,1354.4 918.0,1354.0 917.0,1353.7 916.0,1353.4 915.0,1353.0 914.0,1352.7 913.0,1352.4 912.0,1352.1 911.0,1351.8 910.0,1351.5 909.0,1351.2 908.0,1351.0 907.0,1350.8 906.0,1350.6 905.0,1350.5 904.0,1350.4 903.0,1350.3 902.0,1350.3 901.0,1350.4 900.0,1350.5 899.0,1350.7 898.0,1351.0 897.0,1351.3 896.0,1351.7 895.0,1352.0 894.0,1352.3 893.0,1352.6 892.0,1352.8 891.0,1352.9 890.0,1353.0 889.0,1353.0 888.0,1353.0 887.0,1353.0 886.0,1352.9 885.0,1352.9 884.0,1352.9 883.0,1352.8 882.0,1352.8 881.0,1352.8 880.0,1352.7 879.0,1352.6 878.0,1352.6 877.0,1352.5 876.0,1352.4 875.0,1352.3 874.0,1352.2 873.0,1352.1 872.0,1352.0 871.0,1351.6 870.0,1351.0 869.0,1350.2 868.0,1349.3 867.0,1348.2 866.0,1347.1 865.0,1346.0 864.0,1344.8 863.0,1343.7 862.0,1342.7 861.0,1341.7 860.0,1340.9 859.0,1340.3 858.0,1339.8 857.0,1339.4 856.0,1339.1 855.0,1338.8 854.0,1338.5 853.0,1338.2 852.0,1338.0 851.0,1337.7 850.0,1337.4 849.0,1337.1 848.0,1336.7 847.0,1336.3 846.0,1335.8 845.0,1335.1 844.0,1333.8 843.0,1332.1 842.0,1330.3 841.0,1328.8 840.0,1327.7 839.0,1327.6 838.0,1328.7 837.0,1330.7 836.0,1333.2 835.0,1335.6 834.0,1337.5 833.0,1338.2 832.0,1338.2 831.0,1338.2 830.0,1338.1 829.0,1338.1 828.0,1338.0 827.0,1337.9 826.0,1337.8 825.0,1337.7 824.0,1337.6 823.0,1337.5 822.0,1337.3 821.0,1337.2 820.0,1336.8 819.0,1336.2 818.0,1335.3 817.0,1334.3 816.0,1333.1 815.0,1331.9 814.0,1330.7 813.0,1329.5 812.0,1328.4 811.0,1327.4 810.0,1326.7 809.0,1326.2 808.0,1325.8 807.0,1325.5 806.0,1325.1 805.0,1324.8 804.0,1324.4 803.0,1324.2 802.0,1323.9 801.0,1323.7 800.0,1323.5 799.0,1323.4 798.0,1323.3 797.0,1323.3 796.0,1323.3 795.0,1323.3 794.0,1323.4 793.0,1323.4 792.0,1323.5 791.0,1323.6 790.0,1323.7 789.0,1323.7 788.0,1323.8 787.0,1323.9 786.0,1324.0 785.0,1324.1 784.0,1324.1 783.0,1324.2 782.0,1324.2 781.0,1324.3 780.0,1324.3 779.0,1324.3 778.0,1324.3 777.0,1324.3 776.0,1324.3 775.0,1324.2 774.0,1324.2 773.0,1324.2 772.0,1324.1 771.0,1324.1 770.0,1324.1 769.0,1324.0 768.0,1323.9 767.0,1323.9 766.0,1323.8 765.0,1323.8 764.0,1323.7 763.0,1323.6 762.0,1323.5 761.0,1323.4 760.0,1323.3 759.0,1323.2 758.0,1323.1 757.0,1322.8 756.0,1322.5 755.0,1322.2 754.0,1321.8 753.0,1321.3 752.0,1320.8 751.0,1320.2 750.0,1319.7 749.0,1319.0 748.0,1318.4 747.0,1317.7 746.0,1317.0 745.0,1316.3 744.0,1315.5 743.0,1314.8 742.0,1314.1 741.0,1313.3 740.0,1312.6 739.0,1311.8 738.0,1310.9 737.0,1309.8 736.0,1308.6 735.0,1307.3 734.0,1305.9 733.0,1304.6 732.0,1303.3 731.0,1302.1 730.0,1301.0 729.0,1300.0 728.0,1299.3 727.0,1298.8 726.0,1298.5 725.0,1298.5 724.0,1298.7 723.0,1299.0 722.0,1299.4 721.0,1299.9 720.0,1300.3 719.0,1300.8 718.0,1301.1 717.0,1301.4 716.0,1301.5 715.0,1301.3 714.0,1300.7 713.0,1299.7 712.0,1298.3 711.0,1296.6 710.0,1294.6 709.0,1292.4 708.0,1290.0 707.0,1287.5 706.0,1284.9 705.0,1281.5 704.0,1276.5 703.0,1270.5 702.0,1263.8 701.0,1257.1 700.0,1250.8 699.0,1245.5 698.0,1241.5 697.0,1239.2 696.0,1237.2 695.0,1235.4 694.0,1234.0 693.0,1232.9 692.0,1232.4 691.0,1232.4 690.0,1232.7 689.0,1233.3 688.0,1234.1 687.0,1235.0 686.0,1235.9 685.0,1236.8 684.0,1237.5 683.0,1238.0 682.0,1238.2 681.0,1238.0 680.0,1237.2 679.0,1236.1 678.0,1234.8 677.0,1233.5 676.0,1232.3 675.0,1231.2 674.0,1230.3 673.0,1229.3 672.0,1228.2 671.0,1227.1 670.0,1225.7 669.0,1224.1 668.0,1222.2 667.0,1219.1 666.0,1214.8 665.0,1209.5 664.0,1203.6 663.0,1197.3 662.0,1191.0 661.0,1185.0 660.0,1179.4 659.0,1173.8 658.0,1168.0 657.0,1162.2 656.0,1156.4 655.0,1150.8 654.0,1145.4 653.0,1140.5 652.0,1135.6 651.0,1130.3 650.0,1125.7 649.0,1123.2 648.0,1125.4 647.0,1134.8 646.0,1146.9 645.0,1156.8 644.0,1162.5 643.0,1167.4 642.0,1171.9 641.0,1176.0 640.0,1179.8 639.0,1183.2 638.0,1186.5 637.0,1189.5 636.0,1192.4 635.0,1195.2 634.0,1198.1 633.0,1201.2 632.0,1204.2 631.0,1207.0 630.0,1209.4 629.0,1211.3 628.0,1212.5 627.0,1212.8 626.0,1211.6 625.0,1209.5 624.0,1207.2 623.0,1205.4 622.0,1205.1 621.0,1206.2 620.0,1208.3 619.0,1211.2 618.0,1214.6 617.0,1218.3 616.0,1223.7 615.0,1230.5 614.0,1238.2 613.0,1246.0 612.0,1253.2 611.0,1259.7 610.0,1266.7 609.0,1273.7 608.0,1280.2 607.0,1285.3 606.0,1288.5 605.0,1289.8 604.0,1290.8 603.0,1291.7 602.0,1292.5 601.0,1293.2 600.0,1293.7 599.0,1294.2 598.0,1294.5 597.0,1294.7 596.0,1294.8 595.0,1294.7 594.0,1294.3 593.0,1293.6 592.0,1292.7 591.0,1291.6 590.0,1290.2 589.0,1288.6 588.0,1286.8 587.0,1282.2 586.0,1274.9 585.0,1267.7 584.0,1262.9 583.0,1259.8 582.0,1257.0 581.0,1254.5 580.0,1252.4 579.0,1250.4 578.0,1248.6 577.0,1247.0 576.0,1245.3 575.0,1243.7 574.0,1242.0 573.0,1240.3 572.0,1238.9 571.0,1237.7 570.0,1236.8 569.0,1236.3 568.0,1236.4 567.0,1237.1 566.0,1238.2 565.0,1239.7 564.0,1241.4 563.0,1243.3 562.0,1245.1 561.0,1246.9 560.0,1248.5 559.0,1249.7 558.0,1250.7 557.0,1251.6 556.0,1252.6 555.0,1253.6 554.0,1254.4 553.0,1255.2 552.0,1255.9 551.0,1256.4 550.0,1256.7 549.0,1256.8 548.0,1256.6 547.0,1256.2 546.0,1255.6 545.0,1254.9 544.0,1254.2 543.0,1253.5 542.0,1252.8 541.0,1252.3 540.0,1252.0 539.0,1251.9 538.0,1251.9 537.0,1252.0 536.0,1252.2 535.0,1252.4 534.0,1252.6 533.0,1252.8 532.0,1253.1 531.0,1253.4 530.0,1253.7 529.0,1254.0 528.0,1254.4 527.0,1255.0 526.0,1255.8 525.0,1256.6 524.0,1257.4 523.0,1258.2 522.0,1259.0 521.0,1259.6 520.0,1260.2 519.0,1260.6 518.0,1260.9 517.0,1259.9 516.0,1253.5 515.0,1243.8 514.0,1234.3 513.0,1228.3 512.0,1229.8 511.0,1239.9 510.0,1252.3 509.0,1260.3 508.0,1260.2 507.0,1257.2 506.0,1252.4 505.0,1246.8 504.0,1240.9 503.0,1235.7 502.0,1231.9 501.0,1229.1 500.0,1226.4 499.0,1224.1 498.0,1222.4 497.0,1221.8 496.0,1225.8 495.0,1235.9 494.0,1248.9 493.0,1261.7 492.0,1271.4 491.0,1279.0 490.0,1286.5 489.0,1293.3 488.0,1299.2 487.0,1303.7 486.0,1306.5 485.0,1308.7 484.0,1310.7 483.0,1312.4 482.0,1313.8 481.0,1314.8 480.0,1315.4 479.0,1315.4 478.0,1314.3 477.0,1312.1 476.0,1309.1 475.0,1305.4 474.0,1301.2 473.0,1296.8 472.0,1292.3 471.0,1288.0 470.0,1283.6 469.0,1278.2 468.0,1272.0 467.0,1265.5 466.0,1259.2 465.0,1253.4 464.0,1248.8 463.0,1245.6 462.0,1243.8 461.0,1242.1 460.0,1240.7 459.0,1239.8 458.0,1239.4 457.0,1240.3 456.0,1243.2 455.0,1247.5 454.0,1252.4 453.0,1257.4 452.0,1261.8 451.0,1265.1 450.0,1267.8 449.0,1270.5 448.0,1273.1 447.0,1275.4 446.0,1277.1 445.0,1278.2 444.0,1278.4 443.0,1278.0 442.0,1277.2 441.0,1276.0 440.0,1274.6 439.0,1273.1 438.0,1271.5 437.0,1269.9 436.0,1267.4 435.0,1264.3 434.0,1261.2 433.0,1258.6 432.0,1257.1 431.0,1257.2 430.0,1258.3 429.0,1260.1 428.0,1262.2 427.0,1264.6 426.0,1268.2 425.0,1272.5 424.0,1276.9 423.0,1280.9 422.0,1283.9 421.0,1285.8 420.0,1287.6 419.0,1289.1 418.0,1290.4 417.0,1291.4 416.0,1292.1 415.0,1292.5 414.0,1292.8 413.0,1293.0 412.0,1293.2 411.0,1293.4 410.0,1293.6 409.0,1293.8 408.0,1294.1 407.0,1294.6 406.0,1295.1 405.0,1295.6 404.0,1296.3 403.0,1297.0 402.0,1297.7 401.0,1298.6 400.0,1299.4 399.0,1300.4 398.0,1301.3 397.0,1302.4 396.0,1303.5 395.0,1304.8 394.0,1306.4 393.0,1308.2 392.0,1310.1 391.0,1312.1 390.0,1314.2 389.0,1316.3 388.0,1318.3 387.0,1320.2 386.0,1322.0 385.0,1323.6 384.0,1325.0 383.0,1326.3 382.0,1327.6 381.0,1328.9 380.0,1330.1 379.0,1331.3 378.0,1332.5 377.0,1333.6 376.0,1334.7 375.0,1335.8 374.0,1336.8 373.0,1337.7 372.0,1338.6 371.0,1339.5 370.0,1340.3 369.0,1341.0 368.0,1341.7 367.0,1342.4 366.0,1343.0 365.0,1343.6 364.0,1344.3 363.0,1344.8 362.0,1345.4 361.0,1346.0 360.0,1346.5 359.0,1347.0 358.0,1347.5 357.0,1348.0 356.0,1348.4 355.0,1348.9 354.0,1349.3 353.0,1349.7 352.0,1350.1 351.0,1350.5 350.0,1350.8 349.0,1351.2 348.0,1351.5 347.0,1351.8 346.0,1352.2 345.0,1352.5 344.0,1352.8 343.0,1353.1 342.0,1353.4 341.0,1353.7 340.0,1353.9 339.0,1354.2 338.0,1354.4 337.0,1354.7 336.0,1354.9 335.0,1355.1 334.0,1355.3 333.0,1355.5 332.0,1355.7 331.0,1355.9 330.0,1356.0 329.0,1356.1 328.0,1356.3 327.0,1356.4 326.0,1356.5 325.0,1356.7 324.0,1356.8 323.0,1356.9 322.0,1357.0 321.0,1357.1 320.0,1357.2 319.0,1357.3 318.0,1357.4 317.0,1357.5 316.0,1357.6 315.0,1357.7 314.0,1357.8 313.0,1357.9 312.0,1358.0 311.0,1358.0 310.0,1358.1 309.0,1358.2 308.0,1358.3 307.0,1358.3 306.0,1358.4 305.0,1358.5 304.0,1358.6 303.0,1358.6 302.0,1358.7 301.0,1358.8 300.0,1358.8 299.0,1358.9 298.0,1359.0 297.0,1359.0 296.0,1359.1 295.0,1359.2 294.0,1359.2 293.0,1359.3 292.0,1359.4 291.0,1359.4 290.0,1359.5 289.0,1359.5 288.0,1359.6 287.0,1359.7 286.0,1359.7 285.0,1359.8 284.0,1359.8 283.0,1359.9 282.0,1360.0 281.0,1360.0 280.0,1360.1 279.0,1360.1 278.0,1360.2 277.0,1360.2 276.0,1360.3 275.0,1360.3 274.0,1360.4 273.0,1360.4 272.0,1360.5 271.0,1360.5 270.0,1360.6 269.0,1360.6 268.0,1360.7 267.0,1360.7 266.0,1360.8 265.0,1360.8 264.0,1360.9 263.0,1360.9 262.0,1360.9 261.0,1361.0 260.0,1361.0 259.0,1361.0 258.0,1361.1 257.0,1361.1 256.0,1361.1 255.0,1361.2 254.0,1361.2 253.0,1361.2 252.0,1361.3 251.0,1361.3 250.0,1361.3 249.0,1361.3 248.0,1361.3 247.0,1361.4 246.0,1361.4 245.0,1361.4 244.0,1361.4 243.0,1361.4 242.0,1361.5 241.0,1361.5 240.0,1361.5 239.0,1361.5 238.0,1361.5 237.0,1361.5 236.0,1361.6 235.0,1361.6 234.0,1361.6 233.0,1361.6 232.0,1361.6 231.0,1361.6 230.0,1361.7 229.0,1361.7 228.0,1361.7 227.0,1361.7 226.0,1361.7 225.0,1361.7 224.0,1361.7 223.0,1361.8 222.0,1361.8 221.0,1361.8 220.0,1361.8 219.0,1361.8 218.0,1361.9 217.0,1361.9 216.0,1361.9 215.0,1361.9 214.0,1361.9 213.0,1362.0 212.0,1362.0 211.0,1362.0 210.0,1362.1 209.0,1362.1 208.0,1362.1 207.0,1362.1 206.0,1362.2 205.0,1362.2 204.0,1362.2 203.0,1362.3 202.0,1362.3 201.0,1362.4 200.0,1362.4 199.0,1362.4 198.0,1362.5 197.0,1362.5 196.0,1362.6 195.0,1362.6 194.0,1362.6 193.0,1362.7 192.0,1362.7 191.0,1362.8 190.0,1362.8 189.0,1362.9 188.0,1362.9 187.0,1363.0 186.0,1363.0 185.0,1363.0 184.0,1363.1 183.0,1363.1 182.0,1363.2 181.0,1363.2 180.0,1363.3 179.0,1363.3 178.0,1363.4 177.0,1363.4 176.0,1363.5" fill="#000" stroke="#000" stroke-width="2" stroke-linejoin="round"/>
<polyline points="517.0,1256.7 518.0,1257.7 519.0,1257.4 520.0,1257.0 521.0,1256.4 522.0,1255.8 523.0,1255.0 524.0,1254.2 525.0,1253.4 526.0,1252.6 527.0,1251.8 528.0,1251.2 529.0,1250.8 530.0,1250.5 531.0,1250.2 532.0,1249.9 533.0,1249.6 534.0,1249.4 535.0,1249.2 536.0,1249.0 537.0,1248.8 538.0,1248.7 539.0,1248.7 540.0,1248.8 541.0,1249.1 542.0,1249.6 543.0,1250.3 544.0,1251.0 545.0,1251.7 546.0,1252.4 547.0,1253.0 548.0,1253.4 549.0,1253.6 550.0,1253.5 551.0,1253.2 552.0,1252.7 553.0,1252.0 554.0,1251.2 555.0,1250.4 556.0,1249.4 557.0,1248.4 558.0,1247.5 559.0,1246.5 560.0,1245.3 561.0,1243.7 562.0,1241.9 563.0,1240.1 564.0,1238.2 565.0,1236.5 566.0,1235.0 567.0,1233.9 568.0,1233.2 569.0,1233.1 570.0,1233.6 571.0,1234.5 572.0,1235.7 573.0,1237.1 574.0,1238.8 575.0,1240.5 576.0,1242.1 577.0,1243.8 578.0,1245.4" fill="none" stroke="#fff" stroke-width="1" stroke-dasharray="2.5 2" shape-rendering="crispEdges"/>
<polyline points="517.0,1253.5 518.0,1254.5 519.0,1254.2 520.0,1253.8 521.0,1253.2 522.0,1252.6 523.0,1251.8 524.0,1251.0 525.0,1250.2 526.0,1249.4 527.0,1248.6 528.0,1248.0 529.0,1247.6 530.0,1247.3 531.0,1247.0 532.0,1246.7 533.0,1246.4 534.0,1246.2 535.0,1246.0 536.0,1245.8 537.0,1245.6 538.0,1245.5 539.0,1245.5 540.0,1245.6 541.0,1245.9 542.0,1246.4 543.0,1247.1 544.0,1247.8 545.0,1248.5 546.0,1249.2 547.0,1249.8 548.0,1250.2 549.0,1250.4 550.0,1250.3 551.0,1250.0 552.0,1249.5 553.0,1248.8 554.0,1248.0 555.0,1247.2 556.0,1246.2 557.0,1245.2 558.0,1244.3 559.0,1243.3 560.0,1242.1 561.0,1240.5 562.0,1238.7 563.0,1236.9 564.0,1235.0 565.0,1233.3 566.0,1231.8 567.0,1230.7 568.0,1230.0 569.0,1229.9 570.0,1230.4 571.0,1231.3 572.0,1232.5 573.0,1233.9 574.0,1235.6 575.0,1237.3 576.0,1238.9 577.0,1240.6 578.0,1242.2" fill="none" stroke="#fff" stroke-width="1" stroke-dasharray="2.5 2" shape-rendering="crispEdges"/>
<polyline points="517.0,1250.3 518.0,1251.3 519.0,1251.0 520.0,1250.6 521.0,1250.0 522.0,1249.4 523.0,1248.6 524.0,1247.8 525.0,1247.0 526.0,1246.2 527.0,1245.4 528.0,1244.8 529.0,1244.4 530.0,1244.1 531.0,1243.8 532.0,1243.5 533.0,1243.2 534.0,1243.0 535.0,1242.8 536.0,1242.6 537.0,1242.4 538.0,1242.3 539.0,1242.3 540.0,1242.4 541.0,1242.7 542.0,1243.2 543.0,1243.9 544.0,1244.6 545.0,1245.3 546.0,1246.0 547.0,1246.6 548.0,1247.0 549.0,1247.2 550.0,1247.1 551.0,1246.8 552.0,1246.3 553.0,1245.6 554.0,1244.8 555.0,1244.0 556.0,1243.0 557.0,1242.0 558.0,1241.1 559.0,1240.1 560.0,1238.9 561.0,1237.3 562.0,1235.5 563.0,1233.7 564.0,1231.8 565.0,1230.1 566.0,1228.6 567.0,1227.5 568.0,1226.8 569.0,1226.7 570.0,1227.2 571.0,1228.1 572.0,1229.3 573.0,1230.7 574.0,1232.4 575.0,1234.1 576.0,1235.7 577.0,1237.4 578.0,1239.0" fill="none" stroke="#fff" stroke-width="1" stroke-dasharray="2.5 2" shape-rendering="crispEdges"/>
<polyline points="517.0,1247.1 518.0,1248.1 519.0,1247.8 520.0,1247.4 521.0,1246.8 522.0,1246.2 523.0,1245.4 524.0,1244.6 525.0,1243.8 526.0,1243.0 527.0,1242.2 528.0,1241.6 529.0,1241.2 530.0,1240.9 531.0,1240.6 532.0,1240.3 533.0,1240.0 534.0,1239.8 535.0,1239.6 536.0,1239.4 537.0,1239.2 538.0,1239.1 539.0,1239.1 540.0,1239.2 541.0,1239.5 542.0,1240.0 543.0,1240.7 544.0,1241.4 545.0,1242.1 546.0,1242.8 547.0,1243.4 548.0,1243.8 549.0,1244.0 550.0,1243.9 551.0,1243.6 552.0,1243.1 553.0,1242.4 554.0,1241.6 555.0,1240.8 556.0,1239.8 557.0,1238.8 558.0,1237.9 559.0,1236.9 560.0,1235.7 561.0,1234.1 562.0,1232.3 563.0,1230.5 564.0,1228.6 565.0,1226.9 566.0,1225.4 567.0,1224.3 568.0,1223.6 569.0,1223.5 570.0,1224.0 571.0,1224.9 572.0,1226.1 573.0,1227.5 574.0,1229.2 575.0,1230.9 576.0,1232.5 577.0,1234.2 578.0,1235.8" fill="none" stroke="#fff" stroke-width="1" stroke-dasharray="2.5 2" shape-rendering="crispEdges"/>
<polyline points="517.0,1243.9 518.0,1244.9 519.0,1244.6 520.0,1244.2 521.0,1243.6 522.0,1243.0 523.0,1242.2 524.0,1241.4 525.0,1240.6 526.0,1239.8 527.0,1239.0 528.0,1238.4 529.0,1238.0 530.0,1237.7 531.0,1237.4 532.0,1237.1 533.0,1236.8 534.0,1236.6 535.0,1236.4 536.0,1236.2 537.0,1236.0 538.0,1235.9 539.0,1235.9 540.0,1236.0 541.0,1236.3 542.0,1236.8 543.0,1237.5 544.0,1238.2 545.0,1238.9 546.0,1239.6 547.0,1240.2 548.0,1240.6 549.0,1240.8 550.0,1240.7 551.0,1240.4 552.0,1239.9 553.0,1239.2 554.0,1238.4 555.0,1237.6 556.0,1236.6 557.0,1235.6 558.0,1234.7 559.0,1233.7 560.0,1232.5 561.0,1230.9 562.0,1229.1 563.0,1227.3 564.0,1225.4 565.0,1223.7 566.0,1222.2 567.0,1221.1 568.0,1220.4 569.0,1220.3 570.0,1220.8 571.0,1221.7 572.0,1222.9 573.0,1224.3 574.0,1226.0 575.0,1227.7 576.0,1229.3 577.0,1231.0 578.0,1232.6" fill="none" stroke="#fff" stroke-width="1" stroke-dasharray="2.5 2" shape-rendering="crispEdges"/>
<polyline points="517.0,1240.7 518.0,1241.7 519.0,1241.4 520.0,1241.0 521.0,1240.4 522.0,1239.8 523.0,1239.0 524.0,1238.2 525.0,1237.4 526.0,1236.6 527.0,1235.8 528.0,1235.2 529.0,1234.8 530.0,1234.5 531.0,1234.2 532.0,1233.9 533.0,1233.6 534.0,1233.4 535.0,1233.2 536.0,1233.0 537.0,1232.8 538.0,1232.7 539.0,1232.7 540.0,1232.8 541.0,1233.1 542.0,1233.6 543.0,1234.3 544.0,1235.0 545.0,1235.7 546.0,1236.4 547.0,1237.0 548.0,1237.4 549.0,1237.6 550.0,1237.5 551.0,1237.2 552.0,1236.7 553.0,1236.0 554.0,1235.2 555.0,1234.4 556.0,1233.4 557.0,1232.4 558.0,1231.5 559.0,1230.5 560.0,1229.3 561.0,1227.7 562.0,1225.9 563.0,1224.1 564.0,1222.2 565.0,1220.5 566.0,1219.0 567.0,1217.9 568.0,1217.2 569.0,1217.1 570.0,1217.6 571.0,1218.5 572.0,1219.7 573.0,1221.1 574.0,1222.8 575.0,1224.5 576.0,1226.1 577.0,1227.8 578.0,1229.4" fill="none" stroke="#fff" stroke-width="1" stroke-dasharray="2.5 2" shape-rendering="crispEdges"/>
<line x1="648.3" x2="648.3" y1="1073" y2="1121" stroke="#fff" stroke-width="1" stroke-dasharray="1.5 2.5" shape-rendering="crispEdges"/>
<line x1="627.5" x2="627.5" y1="1163" y2="1212" stroke="#fff" stroke-width="1" stroke-dasharray="1.5 2.5" shape-rendering="crispEdges"/>
<line x1="621.5" x2="621.5" y1="1176" y2="1204" stroke="#fff" stroke-width="1" stroke-dasharray="1.5 2.5" shape-rendering="crispEdges"/>
<line x1="674" x2="674" y1="1172" y2="1228" stroke="#fff" stroke-width="1" stroke-dasharray="1.5 2.5" shape-rendering="crispEdges"/>
<line x1="680" x2="680" y1="1185" y2="1232" stroke="#fff" stroke-width="1" stroke-dasharray="1.5 2.5" shape-rendering="crispEdges"/>
<line x1="689.5" x2="689.5" y1="1176" y2="1238" stroke="#fff" stroke-width="1" stroke-dasharray="1.5 2.5" shape-rendering="crispEdges"/>
</svg>
</body></html>
